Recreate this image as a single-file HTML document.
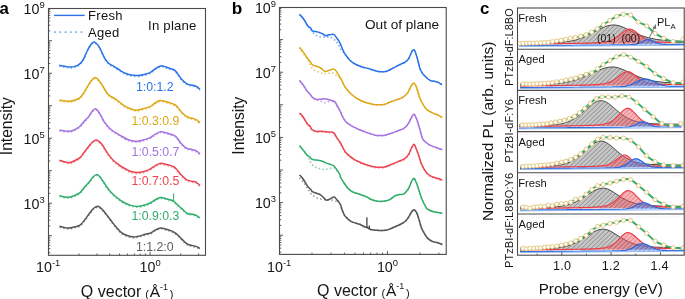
<!DOCTYPE html>
<html><head><meta charset="utf-8"><title>figure</title>
<style>html,body{margin:0;padding:0;background:#fff;overflow:hidden}svg{display:block;will-change:transform}text{font-family:"Liberation Sans",sans-serif}</style>
</head><body>
<svg width="685" height="299" viewBox="0 0 685 299">
<rect width="685" height="299" fill="#fff"/>
<defs>
<pattern id="hg" width="3.2" height="10" patternUnits="userSpaceOnUse" patternTransform="rotate(46)"><rect width="3.2" height="10" fill="#c6c6c6"/><path d="M0.3,0V10" stroke="#6a6a6a" stroke-width="0.55"/></pattern>
<pattern id="hr" width="3.2" height="10" patternUnits="userSpaceOnUse" patternTransform="rotate(46)"><rect width="3.2" height="10" fill="#f05a64" fill-opacity="0.45"/><path d="M0.3,0V10" stroke="#d83c48" stroke-opacity="0.75" stroke-width="0.6"/></pattern>
<pattern id="hb" width="3.2" height="10" patternUnits="userSpaceOnUse" patternTransform="rotate(46)"><rect width="3.2" height="10" fill="#5a8ce6" fill-opacity="0.55"/><path d="M0.3,0V10" stroke="#3a50c0" stroke-opacity="0.7" stroke-width="0.6"/></pattern>
</defs>
<path d="M48.5,252.69h1.8M48.5,248.63h1.8M48.5,245.48h1.8M48.5,242.91h1.8M48.5,240.73h1.8M48.5,238.85h1.8M48.5,237.19h1.8M48.5,235.7h3.5M48.5,225.92h1.8M48.5,220.19h1.8M48.5,216.13h1.8M48.5,212.98h1.8M48.5,210.41h1.8M48.5,208.23h1.8M48.5,206.35h1.8M48.5,204.69h1.8M48.5,203.2h3.5M48.5,193.42h1.8M48.5,187.69h1.8M48.5,183.63h1.8M48.5,180.48h1.8M48.5,177.91h1.8M48.5,175.73h1.8M48.5,173.85h1.8M48.5,172.19h1.8M48.5,170.7h3.5M48.5,160.92h1.8M48.5,155.19h1.8M48.5,151.13h1.8M48.5,147.98h1.8M48.5,145.41h1.8M48.5,143.23h1.8M48.5,141.35h1.8M48.5,139.69h1.8M48.5,138.2h3.5M48.5,128.42h1.8M48.5,122.69h1.8M48.5,118.63h1.8M48.5,115.48h1.8M48.5,112.91h1.8M48.5,110.73h1.8M48.5,108.85h1.8M48.5,107.19h1.8M48.5,105.7h3.5M48.5,95.92h1.8M48.5,90.19h1.8M48.5,86.13h1.8M48.5,82.98h1.8M48.5,80.41h1.8M48.5,78.23h1.8M48.5,76.35h1.8M48.5,74.69h1.8M48.5,73.2h3.5M48.5,63.42h1.8M48.5,57.69h1.8M48.5,53.63h1.8M48.5,50.48h1.8M48.5,47.91h1.8M48.5,45.73h1.8M48.5,43.85h1.8M48.5,42.19h1.8M48.5,40.7h3.5M48.5,30.92h1.8M48.5,25.19h1.8M48.5,21.13h1.8M48.5,17.98h1.8M48.5,15.41h1.8M48.5,13.23h1.8M48.5,11.35h1.8M48.5,9.69h1.8M79.08,255.3v-1.8M96.98,255.3v-1.8M109.67,255.3v-1.8M119.52,255.3v-1.8M127.56,255.3v-1.8M134.36,255.3v-1.8M140.25,255.3v-1.8M145.45,255.3v-1.8M150.1,255.3v-3.5M180.68,255.3v-1.8M198.58,255.3v-1.8" stroke="#4a4a4a" stroke-width="0.9" fill="none"/>
<rect x="48.5" y="8.5" width="157" height="246.8" fill="none" stroke="#4a4a4a" stroke-width="1.1"/>
<path d="M279.5,252.25h1.8M279.5,248.17h1.8M279.5,245.01h1.8M279.5,242.43h1.8M279.5,240.25h1.8M279.5,238.36h1.8M279.5,236.69h1.8M279.5,235.2h3.5M279.5,225.39h1.8M279.5,219.65h1.8M279.5,215.57h1.8M279.5,212.41h1.8M279.5,209.83h1.8M279.5,207.65h1.8M279.5,205.76h1.8M279.5,204.09h1.8M279.5,202.6h3.5M279.5,192.79h1.8M279.5,187.05h1.8M279.5,182.97h1.8M279.5,179.81h1.8M279.5,177.23h1.8M279.5,175.05h1.8M279.5,173.16h1.8M279.5,171.49h1.8M279.5,170h3.5M279.5,160.19h1.8M279.5,154.45h1.8M279.5,150.37h1.8M279.5,147.21h1.8M279.5,144.63h1.8M279.5,142.45h1.8M279.5,140.56h1.8M279.5,138.89h1.8M279.5,137.4h3.5M279.5,127.59h1.8M279.5,121.85h1.8M279.5,117.77h1.8M279.5,114.61h1.8M279.5,112.03h1.8M279.5,109.85h1.8M279.5,107.96h1.8M279.5,106.29h1.8M279.5,104.8h3.5M279.5,94.99h1.8M279.5,89.25h1.8M279.5,85.17h1.8M279.5,82.01h1.8M279.5,79.43h1.8M279.5,77.25h1.8M279.5,75.36h1.8M279.5,73.69h1.8M279.5,72.2h3.5M279.5,62.39h1.8M279.5,56.65h1.8M279.5,52.57h1.8M279.5,49.41h1.8M279.5,46.83h1.8M279.5,44.65h1.8M279.5,42.76h1.8M279.5,41.09h1.8M279.5,39.6h3.5M279.5,29.79h1.8M279.5,24.05h1.8M279.5,19.97h1.8M279.5,16.81h1.8M279.5,14.23h1.8M279.5,12.05h1.8M279.5,10.16h1.8M279.5,8.49h1.8M311.98,254.4v-1.8M330.98,254.4v-1.8M344.46,254.4v-1.8M354.92,254.4v-1.8M363.46,254.4v-1.8M370.69,254.4v-1.8M376.94,254.4v-1.8M382.46,254.4v-1.8M387.4,254.4v-3.5M419.88,254.4v-1.8M438.88,254.4v-1.8" stroke="#4a4a4a" stroke-width="0.9" fill="none"/>
<rect x="279.5" y="7.5" width="166.7" height="246.9" fill="none" stroke="#4a4a4a" stroke-width="1.1"/>
<text x="23.6" y="13.65" font-size="14.3" font-family="Liberation Sans, sans-serif" fill="#151515">10<tspan font-size="9.4" dy="-6">9</tspan></text>
<text x="254.9" y="12.5" font-size="14.3" font-family="Liberation Sans, sans-serif" fill="#151515">10<tspan font-size="9.4" dy="-6">9</tspan></text>
<text x="23.6" y="78.65" font-size="14.3" font-family="Liberation Sans, sans-serif" fill="#151515">10<tspan font-size="9.4" dy="-6">7</tspan></text>
<text x="254.9" y="77.7" font-size="14.3" font-family="Liberation Sans, sans-serif" fill="#151515">10<tspan font-size="9.4" dy="-6">7</tspan></text>
<text x="23.6" y="143.65" font-size="14.3" font-family="Liberation Sans, sans-serif" fill="#151515">10<tspan font-size="9.4" dy="-6">5</tspan></text>
<text x="254.9" y="142.9" font-size="14.3" font-family="Liberation Sans, sans-serif" fill="#151515">10<tspan font-size="9.4" dy="-6">5</tspan></text>
<text x="23.6" y="208.65" font-size="14.3" font-family="Liberation Sans, sans-serif" fill="#151515">10<tspan font-size="9.4" dy="-6">3</tspan></text>
<text x="254.9" y="208.1" font-size="14.3" font-family="Liberation Sans, sans-serif" fill="#151515">10<tspan font-size="9.4" dy="-6">3</tspan></text>
<text x="36.1" y="272.4" font-size="14.3" font-family="Liberation Sans, sans-serif" fill="#151515">10<tspan font-size="9.4" dy="-6">-1</tspan></text>
<text x="139.6" y="272.4" font-size="14.3" font-family="Liberation Sans, sans-serif" fill="#151515">10<tspan font-size="9.4" dy="-6">0</tspan></text>
<text x="267.1" y="272.1" font-size="14.3" font-family="Liberation Sans, sans-serif" fill="#151515">10<tspan font-size="9.4" dy="-6">-1</tspan></text>
<text x="376.9" y="272.1" font-size="14.3" font-family="Liberation Sans, sans-serif" fill="#151515">10<tspan font-size="9.4" dy="-6">0</tspan></text>
<text x="80.87" y="296.7" font-size="16" font-family="Liberation Sans, sans-serif" fill="#151515">Q vector</text>
<text x="145.34" y="297.6" font-size="11" font-family="Liberation Sans, sans-serif" fill="#151515">(</text>
<text x="149.72" y="296.7" font-size="15.5" font-family="Liberation Sans, sans-serif" fill="#151515">Å</text>
<text x="159.99" y="289.6" font-size="9" font-family="Liberation Sans, sans-serif" fill="#151515">-1</text>
<text x="169.69" y="297.6" font-size="11" font-family="Liberation Sans, sans-serif" fill="#151515">)</text>
<text x="317.07" y="296.3" font-size="16" font-family="Liberation Sans, sans-serif" fill="#151515">Q vector</text>
<text x="381.54" y="297.2" font-size="11" font-family="Liberation Sans, sans-serif" fill="#151515">(</text>
<text x="385.92" y="296.3" font-size="15.5" font-family="Liberation Sans, sans-serif" fill="#151515">Å</text>
<text x="396.19" y="289.2" font-size="9" font-family="Liberation Sans, sans-serif" fill="#151515">-1</text>
<text x="405.89" y="297.2" font-size="11" font-family="Liberation Sans, sans-serif" fill="#151515">)</text>
<text transform="translate(11.6,155.2) rotate(-90)" font-size="15.6" font-family="Liberation Sans, sans-serif" fill="#151515">Intensity</text>
<text transform="translate(243.8,154.7) rotate(-90)" font-size="15.6" font-family="Liberation Sans, sans-serif" fill="#151515">Intensity</text>
<text x="-0.6" y="13.5" font-size="16.8" font-weight="bold" font-family="Liberation Sans, sans-serif" fill="#000">a</text>
<text x="231.7" y="13.6" font-size="17.2" font-weight="bold" font-family="Liberation Sans, sans-serif" fill="#000">b</text>
<text x="480.1" y="13.5" font-size="16.8" font-weight="bold" font-family="Liberation Sans, sans-serif" fill="#000">c</text>
<path d="M54.1,15.4H84.7" stroke="#2a72e6" stroke-width="1.4"/>
<path d="M54.1,32.2H82.5" stroke="#7fb2f2" stroke-width="1.8" stroke-dasharray="1.8,3.5"/>
<text x="88.1" y="19.7" font-size="13" letter-spacing="0.3" font-family="Liberation Sans, sans-serif" fill="#151515">Fresh</text>
<text x="88.1" y="36.6" font-size="13" letter-spacing="0.3" font-family="Liberation Sans, sans-serif" fill="#151515">Aged</text>
<text x="148.1" y="29.6" font-size="13.2" letter-spacing="0.2" font-family="Liberation Sans, sans-serif" fill="#151515">In plane</text>
<text x="365" y="29.4" font-size="13.6" font-family="Liberation Sans, sans-serif" fill="#151515">Out of plane</text>
<path d="M59.2,66.2C60.17,66.37 63.2,66.9 65,67.2C66.8,67.5 68.33,67.98 70,68C71.67,68.02 73.58,67.68 75,67.3C76.42,66.92 77.33,66.52 78.5,65.7C79.67,64.88 81.08,63.5 82,62.4C82.92,61.3 83.07,61.02 84,59.1C84.93,57.18 86.43,53.18 87.6,50.9C88.77,48.62 89.97,46.73 91,45.4C92.03,44.07 92.88,43.07 93.8,42.9C94.72,42.73 95.65,43.68 96.5,44.4C97.35,45.12 97.98,45.7 98.9,47.2C99.82,48.7 100.97,51.32 102,53.4C103.03,55.48 103.93,57.87 105.1,59.7C106.27,61.53 107.53,63.15 109,64.4C110.47,65.65 112.4,66.28 113.9,67.2C115.4,68.12 116.33,68.85 118,69.9C119.67,70.95 121.9,72.53 123.9,73.5C125.9,74.47 127.7,75.2 130,75.7C132.3,76.2 135.37,76.55 137.7,76.5C140.03,76.45 141.95,75.88 144,75.4C146.05,74.92 148.17,74.55 150,73.6C151.83,72.65 153.22,70.83 155,69.7C156.78,68.57 158.85,67.1 160.7,66.8C162.55,66.5 164.5,67.45 166.1,67.9C167.7,68.35 168.88,68.97 170.3,69.5C171.72,70.03 173.35,70.22 174.6,71.1C175.85,71.98 176.55,73.2 177.8,74.8C179.05,76.4 180.48,79 182.1,80.7C183.72,82.4 185.72,84.1 187.5,85C189.28,85.9 191.2,85.65 192.8,86.1C194.4,86.55 195.9,86.98 197.1,87.7C198.3,88.42 199.52,89.95 200,90.4" fill="none" stroke="#7fb2f2" stroke-width="1.6" stroke-dasharray="1.6,2.2"/>
<path d="M59.2,65.3C60.17,65.47 63.2,66 65,66.3C66.8,66.6 68.33,67.08 70,67.1C71.67,67.12 73.58,66.78 75,66.4C76.42,66.02 77.33,65.62 78.5,64.8C79.67,63.98 81.08,62.6 82,61.5C82.92,60.4 83.07,60.12 84,58.2C84.93,56.28 86.43,52.28 87.6,50C88.77,47.72 89.97,45.83 91,44.5C92.03,43.17 92.88,42.17 93.8,42C94.72,41.83 95.65,42.78 96.5,43.5C97.35,44.22 97.98,44.8 98.9,46.3C99.82,47.8 100.97,50.42 102,52.5C103.03,54.58 103.93,56.97 105.1,58.8C106.27,60.63 107.53,62.25 109,63.5C110.47,64.75 112.4,65.38 113.9,66.3C115.4,67.22 116.33,67.95 118,69C119.67,70.05 121.9,71.63 123.9,72.6C125.9,73.57 127.7,74.3 130,74.8C132.3,75.3 135.37,75.65 137.7,75.6C140.03,75.55 141.95,74.98 144,74.5C146.05,74.02 148.17,73.65 150,72.7C151.83,71.75 153.22,69.93 155,68.8C156.78,67.67 158.85,66.2 160.7,65.9C162.55,65.6 164.5,66.55 166.1,67C167.7,67.45 168.88,68.07 170.3,68.6C171.72,69.13 173.35,69.32 174.6,70.2C175.85,71.08 176.55,72.3 177.8,73.9C179.05,75.5 180.48,78.1 182.1,79.8C183.72,81.5 185.72,83.2 187.5,84.1C189.28,85 191.2,84.75 192.8,85.2C194.4,85.65 195.9,86.08 197.1,86.8C198.3,87.52 199.52,89.05 200,89.5" fill="none" stroke="#2a72e6" stroke-width="1.5" stroke-linejoin="round"/>
<path d="M59.5,101C60.42,101.15 63.25,101.7 65,101.9C66.75,102.1 68.33,102.37 70,102.2C71.67,102.03 73.33,101.52 75,100.9C76.67,100.28 78.5,99.75 80,98.5C81.5,97.25 82.73,95.28 84,93.4C85.27,91.52 86.43,89.12 87.6,87.2C88.77,85.28 89.75,83.37 91,81.9C92.25,80.43 93.93,78.65 95.1,78.4C96.27,78.15 96.95,79.35 98,80.4C99.05,81.45 100.32,83.12 101.4,84.7C102.48,86.28 103.47,88.23 104.5,89.9C105.53,91.57 106.52,93.45 107.6,94.7C108.68,95.95 109.73,96.57 111,97.4C112.27,98.23 113.7,98.7 115.2,99.7C116.7,100.7 118.33,102.15 120,103.4C121.67,104.65 123.53,106.2 125.2,107.2C126.87,108.2 128.33,108.77 130,109.4C131.67,110.03 133.53,110.82 135.2,111C136.87,111.18 138.33,110.83 140,110.5C141.67,110.17 143.53,109.5 145.2,109C146.87,108.5 148.37,108.35 150,107.5C151.63,106.65 153.3,104.9 155,103.9C156.7,102.9 158.35,101.72 160.2,101.5C162.05,101.28 164.47,102.23 166.1,102.6C167.73,102.97 168.75,103.28 170,103.7C171.25,104.12 172.47,104.52 173.6,105.1C174.73,105.68 175.38,105.78 176.8,107.2C178.22,108.62 180.32,111.82 182.1,113.6C183.88,115.38 185.72,116.95 187.5,117.9C189.28,118.85 191.2,118.77 192.8,119.3C194.4,119.83 195.9,120.35 197.1,121.1C198.3,121.85 199.52,123.35 200,123.8" fill="none" stroke="#ebcb6c" stroke-width="1.6" stroke-dasharray="1.6,2.2"/>
<path d="M59.5,100.1C60.42,100.25 63.25,100.8 65,101C66.75,101.2 68.33,101.47 70,101.3C71.67,101.13 73.33,100.62 75,100C76.67,99.38 78.5,98.85 80,97.6C81.5,96.35 82.73,94.38 84,92.5C85.27,90.62 86.43,88.22 87.6,86.3C88.77,84.38 89.75,82.47 91,81C92.25,79.53 93.93,77.75 95.1,77.5C96.27,77.25 96.95,78.45 98,79.5C99.05,80.55 100.32,82.22 101.4,83.8C102.48,85.38 103.47,87.33 104.5,89C105.53,90.67 106.52,92.55 107.6,93.8C108.68,95.05 109.73,95.67 111,96.5C112.27,97.33 113.7,97.8 115.2,98.8C116.7,99.8 118.33,101.25 120,102.5C121.67,103.75 123.53,105.3 125.2,106.3C126.87,107.3 128.33,107.87 130,108.5C131.67,109.13 133.53,109.92 135.2,110.1C136.87,110.28 138.33,109.93 140,109.6C141.67,109.27 143.53,108.6 145.2,108.1C146.87,107.6 148.37,107.45 150,106.6C151.63,105.75 153.3,104 155,103C156.7,102 158.35,100.82 160.2,100.6C162.05,100.38 164.47,101.33 166.1,101.7C167.73,102.07 168.75,102.38 170,102.8C171.25,103.22 172.47,103.62 173.6,104.2C174.73,104.78 175.38,104.88 176.8,106.3C178.22,107.72 180.32,110.92 182.1,112.7C183.88,114.48 185.72,116.05 187.5,117C189.28,117.95 191.2,117.87 192.8,118.4C194.4,118.93 195.9,119.45 197.1,120.2C198.3,120.95 199.52,122.45 200,122.9" fill="none" stroke="#dca817" stroke-width="1.5" stroke-linejoin="round"/>
<path d="M59.5,130.9C60.42,131.07 63.25,131.68 65,131.9C66.75,132.12 68.33,132.45 70,132.2C71.67,131.95 73.33,131.23 75,130.4C76.67,129.57 78.5,128.53 80,127.2C81.5,125.87 82.53,124.05 84,122.4C85.47,120.75 87.47,118.97 88.8,117.3C90.13,115.63 90.95,113.67 92,112.4C93.05,111.13 94.1,109.78 95.1,109.7C96.1,109.62 96.95,110.63 98,111.9C99.05,113.17 100.42,115.58 101.4,117.3C102.38,119.02 102.65,120.35 103.9,122.2C105.15,124.05 107.38,126.78 108.9,128.4C110.42,130.02 111.53,130.85 113,131.9C114.47,132.95 116.2,133.78 117.7,134.7C119.2,135.62 120.33,136.45 122,137.4C123.67,138.35 126.03,139.68 127.7,140.4C129.37,141.12 130.33,141.4 132,141.7C133.67,142 135.7,142.37 137.7,142.2C139.7,142.03 141.95,141.3 144,140.7C146.05,140.1 148.17,139.52 150,138.6C151.83,137.68 153.22,136.2 155,135.2C156.78,134.2 158.85,132.85 160.7,132.6C162.55,132.35 164.55,133.32 166.1,133.7C167.65,134.08 168.75,134.5 170,134.9C171.25,135.3 172.47,135.53 173.6,136.1C174.73,136.67 175.57,136.95 176.8,138.3C178.03,139.65 179.4,142.42 181,144.2C182.6,145.98 184.6,147.97 186.4,149C188.2,150.03 190.02,149.87 191.8,150.4C193.58,150.93 195.73,151.45 197.1,152.2C198.47,152.95 199.52,154.45 200,154.9" fill="none" stroke="#c9a6ee" stroke-width="1.6" stroke-dasharray="1.6,2.2"/>
<path d="M59.5,130C60.42,130.17 63.25,130.78 65,131C66.75,131.22 68.33,131.55 70,131.3C71.67,131.05 73.33,130.33 75,129.5C76.67,128.67 78.5,127.63 80,126.3C81.5,124.97 82.53,123.15 84,121.5C85.47,119.85 87.47,118.07 88.8,116.4C90.13,114.73 90.95,112.77 92,111.5C93.05,110.23 94.1,108.88 95.1,108.8C96.1,108.72 96.95,109.73 98,111C99.05,112.27 100.42,114.68 101.4,116.4C102.38,118.12 102.65,119.45 103.9,121.3C105.15,123.15 107.38,125.88 108.9,127.5C110.42,129.12 111.53,129.95 113,131C114.47,132.05 116.2,132.88 117.7,133.8C119.2,134.72 120.33,135.55 122,136.5C123.67,137.45 126.03,138.78 127.7,139.5C129.37,140.22 130.33,140.5 132,140.8C133.67,141.1 135.7,141.47 137.7,141.3C139.7,141.13 141.95,140.4 144,139.8C146.05,139.2 148.17,138.62 150,137.7C151.83,136.78 153.22,135.3 155,134.3C156.78,133.3 158.85,131.95 160.7,131.7C162.55,131.45 164.55,132.42 166.1,132.8C167.65,133.18 168.75,133.6 170,134C171.25,134.4 172.47,134.63 173.6,135.2C174.73,135.77 175.57,136.05 176.8,137.4C178.03,138.75 179.4,141.52 181,143.3C182.6,145.08 184.6,147.07 186.4,148.1C188.2,149.13 190.02,148.97 191.8,149.5C193.58,150.03 195.73,150.55 197.1,151.3C198.47,152.05 199.52,153.55 200,154" fill="none" stroke="#a673e0" stroke-width="1.5" stroke-linejoin="round"/>
<path d="M59.5,161C60.42,161.32 63.25,162.48 65,162.9C66.75,163.32 68.33,163.75 70,163.5C71.67,163.25 73.33,162.23 75,161.4C76.67,160.57 78.5,159.83 80,158.5C81.5,157.17 82.53,155.28 84,153.4C85.47,151.52 87.38,148.95 88.8,147.2C90.22,145.45 91.23,143.95 92.5,142.9C93.77,141.85 95.23,140.93 96.4,140.9C97.57,140.87 98.47,141.85 99.5,142.7C100.53,143.55 101.6,144.63 102.6,146C103.6,147.37 104.45,149.23 105.5,150.9C106.55,152.57 107.65,154.33 108.9,156C110.15,157.67 111.53,159.43 113,160.9C114.47,162.37 116.2,163.63 117.7,164.8C119.2,165.97 120.33,166.87 122,167.9C123.67,168.93 126.03,170.2 127.7,171C129.37,171.8 130.33,172.28 132,172.7C133.67,173.12 135.7,173.55 137.7,173.5C139.7,173.45 141.95,172.97 144,172.4C146.05,171.83 148.17,171.05 150,170.1C151.83,169.15 153.22,167.68 155,166.7C156.78,165.72 158.85,164.43 160.7,164.2C162.55,163.97 164.63,164.98 166.1,165.3C167.57,165.62 168.43,165.8 169.5,166.1C170.57,166.4 171.47,166.58 172.5,167.1C173.53,167.62 174.28,167.78 175.7,169.2C177.12,170.62 179.22,173.72 181,175.6C182.78,177.48 184.6,179.42 186.4,180.5C188.2,181.58 190.2,181.67 191.8,182.1C193.4,182.53 194.63,182.4 196,183.1C197.37,183.8 199.33,185.77 200,186.3" fill="none" stroke="#f4949a" stroke-width="1.6" stroke-dasharray="1.6,2.2"/>
<path d="M59.5,160.1C60.42,160.42 63.25,161.58 65,162C66.75,162.42 68.33,162.85 70,162.6C71.67,162.35 73.33,161.33 75,160.5C76.67,159.67 78.5,158.93 80,157.6C81.5,156.27 82.53,154.38 84,152.5C85.47,150.62 87.38,148.05 88.8,146.3C90.22,144.55 91.23,143.05 92.5,142C93.77,140.95 95.23,140.03 96.4,140C97.57,139.97 98.47,140.95 99.5,141.8C100.53,142.65 101.6,143.73 102.6,145.1C103.6,146.47 104.45,148.33 105.5,150C106.55,151.67 107.65,153.43 108.9,155.1C110.15,156.77 111.53,158.53 113,160C114.47,161.47 116.2,162.73 117.7,163.9C119.2,165.07 120.33,165.97 122,167C123.67,168.03 126.03,169.3 127.7,170.1C129.37,170.9 130.33,171.38 132,171.8C133.67,172.22 135.7,172.65 137.7,172.6C139.7,172.55 141.95,172.07 144,171.5C146.05,170.93 148.17,170.15 150,169.2C151.83,168.25 153.22,166.78 155,165.8C156.78,164.82 158.85,163.53 160.7,163.3C162.55,163.07 164.63,164.08 166.1,164.4C167.57,164.72 168.43,164.9 169.5,165.2C170.57,165.5 171.47,165.68 172.5,166.2C173.53,166.72 174.28,166.88 175.7,168.3C177.12,169.72 179.22,172.82 181,174.7C182.78,176.58 184.6,178.52 186.4,179.6C188.2,180.68 190.2,180.77 191.8,181.2C193.4,181.63 194.63,181.5 196,182.2C197.37,182.9 199.33,184.87 200,185.4" fill="none" stroke="#ea4650" stroke-width="1.5" stroke-linejoin="round"/>
<path d="M59.5,196.5C60.42,196.73 63.25,197.65 65,197.9C66.75,198.15 68.33,198.28 70,198C71.67,197.72 73.33,196.95 75,196.2C76.67,195.45 78.5,194.75 80,193.5C81.5,192.25 82.53,190.38 84,188.7C85.47,187.02 87.3,185.2 88.8,183.4C90.3,181.6 91.62,179.23 93,177.9C94.38,176.57 95.85,175.32 97.1,175.4C98.35,175.48 99.37,177.07 100.5,178.4C101.63,179.73 102.82,181.77 103.9,183.4C104.98,185.03 105.97,186.73 107,188.2C108.03,189.67 108.77,190.75 110.1,192.2C111.43,193.65 113.32,195.43 115,196.9C116.68,198.37 118.53,199.83 120.2,201C121.87,202.17 123.33,203.07 125,203.9C126.67,204.73 128.08,205.43 130.2,206C132.32,206.57 135.4,207.27 137.7,207.3C140,207.33 141.95,206.77 144,206.2C146.05,205.63 148.17,204.78 150,203.9C151.83,203.02 153.3,201.8 155,200.9C156.7,200 158.35,198.72 160.2,198.5C162.05,198.28 164.47,199.23 166.1,199.6C167.73,199.97 168.75,200.3 170,200.7C171.25,201.1 172.47,201.28 173.6,202C174.73,202.72 175.38,203.7 176.8,205C178.22,206.3 180.32,208.23 182.1,209.8C183.88,211.37 185.72,213.52 187.5,214.4C189.28,215.28 191.2,214.72 192.8,215.1C194.4,215.48 195.9,216.07 197.1,216.7C198.3,217.33 199.52,218.53 200,218.9" fill="none" stroke="#8ad3a9" stroke-width="1.6" stroke-dasharray="1.6,2.2"/>
<path d="M59.5,195.6C60.42,195.83 63.25,196.75 65,197C66.75,197.25 68.33,197.38 70,197.1C71.67,196.82 73.33,196.05 75,195.3C76.67,194.55 78.5,193.85 80,192.6C81.5,191.35 82.53,189.48 84,187.8C85.47,186.12 87.3,184.3 88.8,182.5C90.3,180.7 91.62,178.33 93,177C94.38,175.67 95.85,174.42 97.1,174.5C98.35,174.58 99.37,176.17 100.5,177.5C101.63,178.83 102.82,180.87 103.9,182.5C104.98,184.13 105.97,185.83 107,187.3C108.03,188.77 108.77,189.85 110.1,191.3C111.43,192.75 113.32,194.53 115,196C116.68,197.47 118.53,198.93 120.2,200.1C121.87,201.27 123.33,202.17 125,203C126.67,203.83 128.08,204.53 130.2,205.1C132.32,205.67 135.4,206.37 137.7,206.4C140,206.43 141.95,205.87 144,205.3C146.05,204.73 148.17,203.88 150,203C151.83,202.12 153.3,200.9 155,200C156.7,199.1 158.35,197.82 160.2,197.6C162.05,197.38 164.47,198.33 166.1,198.7C167.73,199.07 168.75,199.4 170,199.8C171.25,200.2 172.47,200.38 173.6,201.1C174.73,201.82 175.38,202.8 176.8,204.1C178.22,205.4 180.32,207.33 182.1,208.9C183.88,210.47 185.72,212.62 187.5,213.5C189.28,214.38 191.2,213.82 192.8,214.2C194.4,214.58 195.9,215.17 197.1,215.8C198.3,216.43 199.52,217.63 200,218" fill="none" stroke="#30ad6c" stroke-width="1.5" stroke-linejoin="round"/>
<path d="M59.5,227.2C60.25,227.4 62.45,228.1 64,228.4C65.55,228.7 67.13,229.08 68.8,229C70.47,228.92 72.13,228.4 74,227.9C75.87,227.4 78.17,227.25 80,226C81.83,224.75 83.32,222.5 85,220.4C86.68,218.3 88.6,215.32 90.1,213.4C91.6,211.48 92.67,209.93 94,208.9C95.33,207.87 96.93,207.15 98.1,207.2C99.27,207.25 100.03,208.37 101,209.2C101.97,210.03 102.73,210.83 103.9,212.2C105.07,213.57 106.55,215.52 108,217.4C109.45,219.28 111.1,221.58 112.6,223.5C114.1,225.42 115.53,227.23 117,228.9C118.47,230.57 119.73,232.25 121.4,233.5C123.07,234.75 124.92,235.65 127,236.4C129.08,237.15 132.07,237.87 133.9,238C135.73,238.13 136.53,237.53 138,237.2C139.47,236.87 141.37,236.38 142.7,236C144.03,235.62 144.78,235.2 146,234.9C147.22,234.6 148.5,234.83 150,234.2C151.5,233.57 153.22,232 155,231.1C156.78,230.2 158.85,228.97 160.7,228.8C162.55,228.63 164.63,229.72 166.1,230.1C167.57,230.48 168.43,230.73 169.5,231.1C170.57,231.47 171.28,231.65 172.5,232.3C173.72,232.95 175.2,233.67 176.8,235C178.4,236.33 180.32,238.62 182.1,240.3C183.88,241.98 185.72,244.07 187.5,245.1C189.28,246.13 191.2,246.05 192.8,246.5C194.4,246.95 195.9,247.32 197.1,247.8C198.3,248.28 199.52,249.13 200,249.4" fill="none" stroke="#a0a0a0" stroke-width="1.6" stroke-dasharray="1.6,2.2"/>
<path d="M59.5,226.3C60.25,226.5 62.45,227.2 64,227.5C65.55,227.8 67.13,228.18 68.8,228.1C70.47,228.02 72.13,227.5 74,227C75.87,226.5 78.17,226.35 80,225.1C81.83,223.85 83.32,221.6 85,219.5C86.68,217.4 88.6,214.42 90.1,212.5C91.6,210.58 92.67,209.03 94,208C95.33,206.97 96.93,206.25 98.1,206.3C99.27,206.35 100.03,207.47 101,208.3C101.97,209.13 102.73,209.93 103.9,211.3C105.07,212.67 106.55,214.62 108,216.5C109.45,218.38 111.1,220.68 112.6,222.6C114.1,224.52 115.53,226.33 117,228C118.47,229.67 119.73,231.35 121.4,232.6C123.07,233.85 124.92,234.75 127,235.5C129.08,236.25 132.07,236.97 133.9,237.1C135.73,237.23 136.53,236.63 138,236.3C139.47,235.97 141.37,235.48 142.7,235.1C144.03,234.72 144.78,234.3 146,234C147.22,233.7 148.5,233.93 150,233.3C151.5,232.67 153.22,231.1 155,230.2C156.78,229.3 158.85,228.07 160.7,227.9C162.55,227.73 164.63,228.82 166.1,229.2C167.57,229.58 168.43,229.83 169.5,230.2C170.57,230.57 171.28,230.75 172.5,231.4C173.72,232.05 175.2,232.77 176.8,234.1C178.4,235.43 180.32,237.72 182.1,239.4C183.88,241.08 185.72,243.17 187.5,244.2C189.28,245.23 191.2,245.15 192.8,245.6C194.4,246.05 195.9,246.42 197.1,246.9C198.3,247.38 199.52,248.23 200,248.5" fill="none" stroke="#555555" stroke-width="1.5" stroke-linejoin="round"/>
<path d="M173.6,201.3V193.4" stroke="#30ad6c" stroke-width="1"/>
<path d="M299.5,14.4C300.08,15.03 302,16.93 303,18.2C304,19.47 304.72,20.73 305.5,22C306.28,23.27 306.85,24.55 307.7,25.8C308.55,27.05 309.82,28.43 310.6,29.5C311.38,30.57 311.42,31.2 312.4,32.2C313.38,33.2 315.05,34.68 316.5,35.5C317.95,36.32 319.55,36.87 321.1,37.1C322.65,37.33 324.13,36.83 325.8,36.9C327.47,36.97 329.53,36.88 331.1,37.5C332.67,38.12 334.03,39.48 335.2,40.6C336.37,41.72 337.13,42.72 338.1,44.2C339.07,45.68 339.93,47.98 341,49.5C342.07,51.02 343.33,51.88 344.5,53.3C345.67,54.72 346.87,56.63 348,58C349.13,59.37 349.97,60.42 351.3,61.5C352.63,62.58 354.17,63.58 356,64.5C357.83,65.42 360.33,66.35 362.3,67C364.27,67.65 366.02,67.9 367.8,68.4C369.58,68.9 371.17,69.47 373,70C374.83,70.53 376.7,71.33 378.8,71.6C380.9,71.87 383.9,71.83 385.6,71.6C387.3,71.37 387.85,70.73 389,70.2C390.15,69.67 391.25,69.05 392.5,68.4C393.75,67.75 395.13,67 396.5,66.3C397.87,65.6 399.37,64.83 400.7,64.2C402.03,63.57 403.35,63.18 404.5,62.5C405.65,61.82 406.77,61.02 407.6,60.1C408.43,59.18 408.92,58.13 409.5,57C410.08,55.87 410.6,54.38 411.1,53.3C411.6,52.22 412.03,51.1 412.5,50.5C412.97,49.9 413.43,49.45 413.9,49.7C414.37,49.95 414.85,50.97 415.3,52C415.75,53.03 416.1,54.23 416.6,55.9C417.1,57.57 417.75,59.92 418.3,62C418.85,64.08 419.2,66.52 419.9,68.4C420.6,70.28 421.58,71.93 422.5,73.3C423.42,74.67 424.48,75.65 425.4,76.6C426.32,77.55 427.08,78.32 428,79C428.92,79.68 429.9,80.32 430.9,80.7C431.9,81.08 432.87,81.07 434,81.3C435.13,81.53 436.38,81.52 437.7,82.1C439.02,82.68 441.2,84.35 441.9,84.8" fill="none" stroke="#7fb2f2" stroke-width="1.6" stroke-dasharray="1.6,2.2"/>
<path d="M299.5,14.4C300.08,15.03 302,16.93 303,18.2C304,19.47 304.72,20.73 305.5,22C306.28,23.27 306.85,24.78 307.7,25.8C308.55,26.82 309.82,27.27 310.6,28.1C311.38,28.93 311.52,30.22 312.4,30.8C313.28,31.38 314.73,31.32 315.9,31.6C317.07,31.88 318.23,32.1 319.4,32.5C320.57,32.9 321.83,33.47 322.9,34C323.97,34.53 324.83,35.57 325.8,35.7C326.77,35.83 327.75,35.02 328.7,34.8C329.65,34.58 330.62,34.43 331.5,34.4C332.38,34.37 333.18,34.08 334,34.6C334.82,35.12 335.52,36.33 336.4,37.5C337.28,38.67 338.45,40.1 339.3,41.6C340.15,43.1 340.63,44.55 341.5,46.5C342.37,48.45 343.42,51.38 344.5,53.3C345.58,55.22 346.87,56.63 348,58C349.13,59.37 349.97,60.42 351.3,61.5C352.63,62.58 354.17,63.58 356,64.5C357.83,65.42 360.33,66.35 362.3,67C364.27,67.65 366.02,67.9 367.8,68.4C369.58,68.9 371.17,69.47 373,70C374.83,70.53 376.7,71.33 378.8,71.6C380.9,71.87 383.9,71.83 385.6,71.6C387.3,71.37 387.85,70.73 389,70.2C390.15,69.67 391.25,69.05 392.5,68.4C393.75,67.75 395.13,67 396.5,66.3C397.87,65.6 399.37,64.83 400.7,64.2C402.03,63.57 403.35,63.18 404.5,62.5C405.65,61.82 406.77,61.02 407.6,60.1C408.43,59.18 408.92,58.13 409.5,57C410.08,55.87 410.6,54.38 411.1,53.3C411.6,52.22 412.03,51.1 412.5,50.5C412.97,49.9 413.43,49.45 413.9,49.7C414.37,49.95 414.85,50.97 415.3,52C415.75,53.03 416.1,54.23 416.6,55.9C417.1,57.57 417.75,59.92 418.3,62C418.85,64.08 419.2,66.52 419.9,68.4C420.6,70.28 421.58,71.93 422.5,73.3C423.42,74.67 424.48,75.65 425.4,76.6C426.32,77.55 427.08,78.32 428,79C428.92,79.68 429.9,80.32 430.9,80.7C431.9,81.08 432.87,81.07 434,81.3C435.13,81.53 436.38,81.52 437.7,82.1C439.02,82.68 441.2,84.35 441.9,84.8" fill="none" stroke="#2a72e6" stroke-width="1.5" stroke-linejoin="round"/>
<path d="M299.5,47.5C300.08,48.45 301.83,51.45 303,53.2C304.17,54.95 305.5,56.45 306.5,58C307.5,59.55 308.22,61.03 309,62.5C309.78,63.97 310.25,65.5 311.2,66.8C312.15,68.1 313.23,69.32 314.7,70.3C316.17,71.28 318.33,72.12 320,72.7C321.67,73.28 323.15,73.72 324.7,73.8C326.25,73.88 327.75,73.25 329.3,73.2C330.85,73.15 332.63,72.92 334,73.5C335.37,74.08 336.43,75.97 337.5,76.7C338.57,77.43 339.68,77.27 340.4,77.9C341.12,78.53 341.12,79.13 341.8,80.5C342.48,81.87 343.5,84.43 344.5,86.1C345.5,87.77 346.67,89.13 347.8,90.5C348.93,91.87 349.93,93.08 351.3,94.3C352.67,95.52 354.17,96.65 356,97.8C357.83,98.95 360.33,100.33 362.3,101.2C364.27,102.07 365.97,102.47 367.8,103C369.63,103.53 371.47,104.1 373.3,104.4C375.13,104.7 376.97,104.8 378.8,104.8C380.63,104.8 382.68,104.73 384.3,104.4C385.92,104.07 387.13,103.33 388.5,102.8C389.87,102.27 391.17,101.7 392.5,101.2C393.83,100.7 395.13,100.27 396.5,99.8C397.87,99.33 399.37,99.03 400.7,98.4C402.03,97.77 403.35,96.92 404.5,96C405.65,95.08 406.77,94.03 407.6,92.9C408.43,91.77 408.92,90.33 409.5,89.2C410.08,88.07 410.6,86.97 411.1,86.1C411.6,85.23 412.03,84.47 412.5,84C412.97,83.53 413.43,83.17 413.9,83.3C414.37,83.43 414.85,84.12 415.3,84.8C415.75,85.48 416.1,86.03 416.6,87.4C417.1,88.77 417.75,91.17 418.3,93C418.85,94.83 419.2,96.65 419.9,98.4C420.6,100.15 421.58,101.9 422.5,103.5C423.42,105.1 424.48,106.87 425.4,108C426.32,109.13 427.08,109.62 428,110.3C428.92,110.98 429.9,111.55 430.9,112.1C431.9,112.65 432.87,113.13 434,113.6C435.13,114.07 436.3,114.23 437.7,114.9C439.1,115.57 441.62,117.15 442.4,117.6" fill="none" stroke="#ebcb6c" stroke-width="1.6" stroke-dasharray="1.6,2.2"/>
<path d="M299.5,47.5C300.08,48.18 301.83,50.03 303,51.6C304.17,53.17 305.33,55.25 306.5,56.9C307.67,58.55 309.02,60.18 310,61.5C310.98,62.82 311.32,64.02 312.4,64.8C313.48,65.58 315.13,65.67 316.5,66.2C317.87,66.73 319.15,67.12 320.6,68C322.05,68.88 323.65,71.17 325.2,71.5C326.75,71.83 328.43,70.4 329.9,70C331.37,69.6 332.83,68.75 334,69.1C335.17,69.45 335.83,70.63 336.9,72.1C337.97,73.57 339.58,76.5 340.4,77.9C341.22,79.3 341.12,79.13 341.8,80.5C342.48,81.87 343.5,84.43 344.5,86.1C345.5,87.77 346.67,89.13 347.8,90.5C348.93,91.87 349.93,93.08 351.3,94.3C352.67,95.52 354.17,96.65 356,97.8C357.83,98.95 360.33,100.33 362.3,101.2C364.27,102.07 365.97,102.47 367.8,103C369.63,103.53 371.47,104.1 373.3,104.4C375.13,104.7 376.97,104.8 378.8,104.8C380.63,104.8 382.68,104.73 384.3,104.4C385.92,104.07 387.13,103.33 388.5,102.8C389.87,102.27 391.17,101.7 392.5,101.2C393.83,100.7 395.13,100.27 396.5,99.8C397.87,99.33 399.37,99.03 400.7,98.4C402.03,97.77 403.35,96.92 404.5,96C405.65,95.08 406.77,94.03 407.6,92.9C408.43,91.77 408.92,90.33 409.5,89.2C410.08,88.07 410.6,86.97 411.1,86.1C411.6,85.23 412.03,84.47 412.5,84C412.97,83.53 413.43,83.17 413.9,83.3C414.37,83.43 414.85,84.12 415.3,84.8C415.75,85.48 416.1,86.03 416.6,87.4C417.1,88.77 417.75,91.17 418.3,93C418.85,94.83 419.2,96.65 419.9,98.4C420.6,100.15 421.58,101.9 422.5,103.5C423.42,105.1 424.48,106.87 425.4,108C426.32,109.13 427.08,109.62 428,110.3C428.92,110.98 429.9,111.55 430.9,112.1C431.9,112.65 432.87,113.13 434,113.6C435.13,114.07 436.3,114.23 437.7,114.9C439.1,115.57 441.62,117.15 442.4,117.6" fill="none" stroke="#dca817" stroke-width="1.5" stroke-linejoin="round"/>
<path d="M299.5,80.4C300.08,81.13 301.63,82.9 303,84.8C304.37,86.7 306.43,90.15 307.7,91.8C308.97,93.45 309.82,93.78 310.6,94.7C311.38,95.62 311.42,96.42 312.4,97.3C313.38,98.18 315.13,99.37 316.5,100C317.87,100.63 319.15,100.65 320.6,101.1C322.05,101.55 323.65,102.7 325.2,102.7C326.75,102.7 328.6,101.28 329.9,101.1C331.2,100.92 332.12,101.4 333,101.6C333.88,101.8 334.45,101.5 335.2,102.3C335.95,103.1 336.72,105.03 337.5,106.4C338.28,107.77 339.07,108.82 339.9,110.5C340.73,112.18 341.52,114.63 342.5,116.5C343.48,118.37 344.55,120.32 345.8,121.7C347.05,123.08 348.62,123.88 350,124.8C351.38,125.72 352.52,126.37 354.1,127.2C355.68,128.03 357.68,129.02 359.5,129.8C361.32,130.58 363.17,131.23 365,131.9C366.83,132.57 368.67,133.22 370.5,133.8C372.33,134.38 374.42,135.1 376,135.4C377.58,135.7 378.62,135.6 380,135.6C381.38,135.6 382.63,135.73 384.3,135.4C385.97,135.07 388.18,134.18 390,133.6C391.82,133.02 393.62,132.45 395.2,131.9C396.78,131.35 398.12,130.85 399.5,130.3C400.88,129.75 402.33,129.32 403.5,128.6C404.67,127.88 405.6,127 406.5,126C407.4,125 408.07,124.02 408.9,122.6C409.73,121.18 410.67,118.88 411.5,117.5C412.33,116.12 413.23,114.47 413.9,114.3C414.57,114.13 414.95,115.48 415.5,116.5C416.05,117.52 416.45,118.15 417.2,120.4C417.95,122.65 419.08,126.93 420,130C420.92,133.07 421.62,136.67 422.7,138.8C423.78,140.93 425.13,141.65 426.5,142.8C427.87,143.95 429.32,144.92 430.9,145.7C432.48,146.48 434.08,146.82 436,147.5C437.92,148.18 441.33,149.42 442.4,149.8" fill="none" stroke="#c9a6ee" stroke-width="1.6" stroke-dasharray="1.6,2.2"/>
<path d="M299.5,80.4C300.08,81.13 301.63,82.9 303,84.8C304.37,86.7 306.43,90.15 307.7,91.8C308.97,93.45 309.82,93.78 310.6,94.7C311.38,95.62 311.42,96.52 312.4,97.3C313.38,98.08 315.13,99.08 316.5,99.4C317.87,99.72 319.33,99.3 320.6,99.2C321.87,99.1 322.83,98.77 324.1,98.8C325.37,98.83 326.83,99.1 328.2,99.4C329.57,99.7 331.13,100.12 332.3,100.6C333.47,101.08 334.33,101.33 335.2,102.3C336.07,103.27 336.72,105.03 337.5,106.4C338.28,107.77 339.07,108.82 339.9,110.5C340.73,112.18 341.52,114.63 342.5,116.5C343.48,118.37 344.55,120.32 345.8,121.7C347.05,123.08 348.62,123.88 350,124.8C351.38,125.72 352.52,126.37 354.1,127.2C355.68,128.03 357.68,129.02 359.5,129.8C361.32,130.58 363.17,131.23 365,131.9C366.83,132.57 368.67,133.22 370.5,133.8C372.33,134.38 374.42,135.1 376,135.4C377.58,135.7 378.62,135.6 380,135.6C381.38,135.6 382.63,135.73 384.3,135.4C385.97,135.07 388.18,134.18 390,133.6C391.82,133.02 393.62,132.45 395.2,131.9C396.78,131.35 398.12,130.85 399.5,130.3C400.88,129.75 402.33,129.32 403.5,128.6C404.67,127.88 405.6,127 406.5,126C407.4,125 408.07,124.02 408.9,122.6C409.73,121.18 410.67,118.88 411.5,117.5C412.33,116.12 413.23,114.47 413.9,114.3C414.57,114.13 414.95,115.48 415.5,116.5C416.05,117.52 416.45,118.15 417.2,120.4C417.95,122.65 419.08,126.93 420,130C420.92,133.07 421.62,136.67 422.7,138.8C423.78,140.93 425.13,141.65 426.5,142.8C427.87,143.95 429.32,144.92 430.9,145.7C432.48,146.48 434.08,146.82 436,147.5C437.92,148.18 441.33,149.42 442.4,149.8" fill="none" stroke="#a673e0" stroke-width="1.5" stroke-linejoin="round"/>
<path d="M299.5,113.5C300.08,114.15 301.63,115.48 303,117.4C304.37,119.32 306.53,123.45 307.7,125C308.87,126.55 309.32,125.88 310,126.7C310.68,127.52 310.72,129.02 311.8,129.9C312.88,130.78 315.03,131.68 316.5,132C317.97,132.32 319.33,131.8 320.6,131.8C321.87,131.8 322.83,131.87 324.1,132C325.37,132.13 327.03,132.5 328.2,132.6C329.37,132.7 330.13,132.42 331.1,132.6C332.07,132.78 333.03,132.73 334,133.7C334.97,134.67 335.87,136.83 336.9,138.4C337.93,139.97 339.18,141.43 340.2,143.1C341.22,144.77 342.07,146.73 343,148.4C343.93,150.07 344.63,151.68 345.8,153.1C346.97,154.52 348.62,155.75 350,156.9C351.38,158.05 352.52,159.05 354.1,160C355.68,160.95 357.68,161.78 359.5,162.6C361.32,163.42 363.17,164.25 365,164.9C366.83,165.55 368.67,166.03 370.5,166.5C372.33,166.97 374.42,167.47 376,167.7C377.58,167.93 378.62,167.9 380,167.9C381.38,167.9 382.63,168.08 384.3,167.7C385.97,167.32 388.18,166.33 390,165.6C391.82,164.87 393.62,163.97 395.2,163.3C396.78,162.63 398.12,162.15 399.5,161.6C400.88,161.05 402.33,160.67 403.5,160C404.67,159.33 405.6,158.52 406.5,157.6C407.4,156.68 408.07,156 408.9,154.5C409.73,153 410.67,150.2 411.5,148.6C412.33,147 413.23,145.07 413.9,144.9C414.57,144.73 414.95,146.45 415.5,147.6C416.05,148.75 416.57,150.05 417.2,151.8C417.83,153.55 418.62,156.05 419.3,158.1C419.98,160.15 420.52,162.22 421.3,164.1C422.08,165.98 423.08,167.8 424,169.4C424.92,171 425.8,172.57 426.8,173.7C427.8,174.83 428.87,175.52 430,176.2C431.13,176.88 432.27,177.32 433.6,177.8C434.93,178.28 436.53,178.63 438,179.1C439.47,179.57 441.67,180.35 442.4,180.6" fill="none" stroke="#f4949a" stroke-width="1.6" stroke-dasharray="1.6,2.2"/>
<path d="M299.5,112.9C300.08,113.55 301.63,114.88 303,116.8C304.37,118.72 306.53,122.85 307.7,124.4C308.87,125.95 309.32,125.28 310,126.1C310.68,126.92 310.72,128.42 311.8,129.3C312.88,130.18 315.03,131.08 316.5,131.4C317.97,131.72 319.33,131.2 320.6,131.2C321.87,131.2 322.83,131.27 324.1,131.4C325.37,131.53 327.03,131.9 328.2,132C329.37,132.1 330.13,131.82 331.1,132C332.07,132.18 333.03,132.13 334,133.1C334.97,134.07 335.87,136.23 336.9,137.8C337.93,139.37 339.18,140.83 340.2,142.5C341.22,144.17 342.07,146.13 343,147.8C343.93,149.47 344.63,151.08 345.8,152.5C346.97,153.92 348.62,155.15 350,156.3C351.38,157.45 352.52,158.45 354.1,159.4C355.68,160.35 357.68,161.18 359.5,162C361.32,162.82 363.17,163.65 365,164.3C366.83,164.95 368.67,165.43 370.5,165.9C372.33,166.37 374.42,166.87 376,167.1C377.58,167.33 378.62,167.3 380,167.3C381.38,167.3 382.63,167.48 384.3,167.1C385.97,166.72 388.18,165.73 390,165C391.82,164.27 393.62,163.37 395.2,162.7C396.78,162.03 398.12,161.55 399.5,161C400.88,160.45 402.33,160.07 403.5,159.4C404.67,158.73 405.6,157.92 406.5,157C407.4,156.08 408.07,155.4 408.9,153.9C409.73,152.4 410.67,149.6 411.5,148C412.33,146.4 413.23,144.47 413.9,144.3C414.57,144.13 414.95,145.85 415.5,147C416.05,148.15 416.57,149.45 417.2,151.2C417.83,152.95 418.62,155.45 419.3,157.5C419.98,159.55 420.52,161.62 421.3,163.5C422.08,165.38 423.08,167.2 424,168.8C424.92,170.4 425.8,171.97 426.8,173.1C427.8,174.23 428.87,174.92 430,175.6C431.13,176.28 432.27,176.72 433.6,177.2C434.93,177.68 436.53,178.03 438,178.5C439.47,178.97 441.67,179.75 442.4,180" fill="none" stroke="#ea4650" stroke-width="1.5" stroke-linejoin="round"/>
<path d="M299.5,145.8C300.08,146.48 301.73,148.33 303,149.9C304.27,151.47 306.12,153.73 307.1,155.2C308.08,156.67 308.22,157.33 308.9,158.7C309.58,160.07 310.23,162.03 311.2,163.4C312.17,164.77 313.23,166.02 314.7,166.9C316.17,167.78 318.33,168.25 320,168.7C321.67,169.15 323.15,169.6 324.7,169.6C326.25,169.6 327.75,169 329.3,168.7C330.85,168.4 332.8,167.5 334,167.8C335.2,168.1 335.52,169.38 336.5,170.5C337.48,171.62 339.25,173.42 339.9,174.5C340.55,175.58 339.75,175.67 340.4,177C341.05,178.33 342.67,180.75 343.8,182.5C344.93,184.25 346.08,186.15 347.2,187.5C348.32,188.85 349.35,189.77 350.5,190.6C351.65,191.43 352.6,191.9 354.1,192.5C355.6,193.1 357.85,193.65 359.5,194.2C361.15,194.75 362.67,195.27 364,195.8C365.33,196.33 366.17,196.73 367.5,197.4C368.83,198.07 370.25,199.15 372,199.8C373.75,200.45 376.17,201.05 378,201.3C379.83,201.55 381.57,201.38 383,201.3C384.43,201.22 385.42,201.12 386.6,200.8C387.78,200.48 388.7,200.23 390.1,199.4C391.5,198.57 393.43,196.6 395,195.8C396.57,195 398.08,194.88 399.5,194.6C400.92,194.32 402.33,194.67 403.5,194.1C404.67,193.53 405.6,192.25 406.5,191.2C407.4,190.15 408.07,189.42 408.9,187.8C409.73,186.18 410.67,183.1 411.5,181.5C412.33,179.9 413.23,178.32 413.9,178.2C414.57,178.08 414.95,179.65 415.5,180.8C416.05,181.95 416.57,183.32 417.2,185.1C417.83,186.88 418.62,189.45 419.3,191.5C419.98,193.55 420.52,195.4 421.3,197.4C422.08,199.4 423.08,201.67 424,203.5C424.92,205.33 425.8,207.23 426.8,208.4C427.8,209.57 428.87,209.95 430,210.5C431.13,211.05 432.27,211.37 433.6,211.7C434.93,212.03 436.53,212.23 438,212.5C439.47,212.77 441.67,213.17 442.4,213.3" fill="none" stroke="#8ad3a9" stroke-width="1.6" stroke-dasharray="1.6,2.2"/>
<path d="M299.5,145.8C300.08,146.48 301.73,148.33 303,149.9C304.27,151.47 305.93,154.02 307.1,155.2C308.27,156.38 309.22,156.32 310,157C310.78,157.68 310.72,158.78 311.8,159.3C312.88,159.82 315.03,159.85 316.5,160.1C317.97,160.35 319.33,160.48 320.6,160.8C321.87,161.12 323.03,161.57 324.1,162C325.17,162.43 325.83,162.97 327,163.4C328.17,163.83 329.93,164.17 331.1,164.6C332.27,165.03 333.03,165.13 334,166C334.97,166.87 335.92,168.38 336.9,169.8C337.88,171.22 339.32,173.3 339.9,174.5C340.48,175.7 339.75,175.67 340.4,177C341.05,178.33 342.67,180.75 343.8,182.5C344.93,184.25 346.08,186.15 347.2,187.5C348.32,188.85 349.35,189.77 350.5,190.6C351.65,191.43 352.6,191.9 354.1,192.5C355.6,193.1 357.85,193.65 359.5,194.2C361.15,194.75 362.67,195.27 364,195.8C365.33,196.33 366.17,196.73 367.5,197.4C368.83,198.07 370.25,199.15 372,199.8C373.75,200.45 376.17,201.05 378,201.3C379.83,201.55 381.57,201.38 383,201.3C384.43,201.22 385.42,201.12 386.6,200.8C387.78,200.48 388.7,200.23 390.1,199.4C391.5,198.57 393.43,196.6 395,195.8C396.57,195 398.08,194.88 399.5,194.6C400.92,194.32 402.33,194.67 403.5,194.1C404.67,193.53 405.6,192.25 406.5,191.2C407.4,190.15 408.07,189.42 408.9,187.8C409.73,186.18 410.67,183.1 411.5,181.5C412.33,179.9 413.23,178.32 413.9,178.2C414.57,178.08 414.95,179.65 415.5,180.8C416.05,181.95 416.57,183.32 417.2,185.1C417.83,186.88 418.62,189.45 419.3,191.5C419.98,193.55 420.52,195.4 421.3,197.4C422.08,199.4 423.08,201.67 424,203.5C424.92,205.33 425.8,207.23 426.8,208.4C427.8,209.57 428.87,209.95 430,210.5C431.13,211.05 432.27,211.37 433.6,211.7C434.93,212.03 436.53,212.23 438,212.5C439.47,212.77 441.67,213.17 442.4,213.3" fill="none" stroke="#30ad6c" stroke-width="1.5" stroke-linejoin="round"/>
<path d="M299.5,177.6C300.08,178.28 301.83,180.23 303,181.7C304.17,183.17 305.52,184.93 306.5,186.4C307.48,187.87 308.02,189.13 308.9,190.5C309.78,191.87 310.53,193.38 311.8,194.6C313.07,195.82 314.85,197.03 316.5,197.8C318.15,198.57 320.05,198.87 321.7,199.2C323.35,199.53 324.83,199.7 326.4,199.8C327.97,199.9 329.53,199.55 331.1,199.8C332.67,200.05 334.83,201.3 335.8,201.3C336.77,201.3 336.13,199.27 336.9,199.8C337.67,200.33 339.58,202.97 340.4,204.5C341.22,206.03 341.12,207.2 341.8,209C342.48,210.8 343.47,213.63 344.5,215.3C345.53,216.97 346.87,217.95 348,219C349.13,220.05 350.05,220.93 351.3,221.6C352.55,222.27 354.12,222.55 355.5,223C356.88,223.45 358.02,223.63 359.6,224.3C361.18,224.97 363.68,226.45 365,227C366.32,227.55 366.6,227.2 367.5,227.6C368.4,228 369.32,228.98 370.4,229.4C371.48,229.82 372.63,229.93 374,230.1C375.37,230.27 377.1,230.33 378.6,230.4C380.1,230.47 381.63,230.55 383,230.5C384.37,230.45 385.55,230.38 386.8,230.1C388.05,229.82 389.33,229.28 390.5,228.8C391.67,228.32 392.47,227.78 393.8,227.2C395.13,226.62 396.88,226.05 398.5,225.3C400.12,224.55 402.17,223.58 403.5,222.7C404.83,221.82 405.6,221.02 406.5,220C407.4,218.98 408.07,217.93 408.9,216.6C409.73,215.27 410.67,213.13 411.5,212C412.33,210.87 413.23,209.97 413.9,209.8C414.57,209.63 414.95,210.32 415.5,211C416.05,211.68 416.57,212.32 417.2,213.9C417.83,215.48 418.62,218.22 419.3,220.5C419.98,222.78 420.52,225.55 421.3,227.6C422.08,229.65 423.08,231.2 424,232.8C424.92,234.4 425.8,235.97 426.8,237.2C427.8,238.43 428.87,239.42 430,240.2C431.13,240.98 432.32,241.48 433.6,241.9C434.88,242.32 436.23,242.25 437.7,242.7C439.17,243.15 441.62,244.28 442.4,244.6" fill="none" stroke="#a0a0a0" stroke-width="1.6" stroke-dasharray="1.6,2.2"/>
<path d="M299.5,174.9C300.08,175.55 301.63,176.88 303,178.8C304.37,180.72 306.43,184.65 307.7,186.4C308.97,188.15 309.82,188.43 310.6,189.3C311.38,190.17 311.42,190.95 312.4,191.6C313.38,192.25 315.13,192.67 316.5,193.2C317.87,193.73 319.33,193.98 320.6,194.8C321.87,195.62 323.13,197.2 324.1,198.1C325.07,199 325.43,200.05 326.4,200.2C327.37,200.35 328.63,199.52 329.9,199C331.17,198.48 332.83,196.97 334,197.1C335.17,197.23 335.83,198.57 336.9,199.8C337.97,201.03 339.58,202.97 340.4,204.5C341.22,206.03 341.12,207.2 341.8,209C342.48,210.8 343.47,213.63 344.5,215.3C345.53,216.97 346.87,217.95 348,219C349.13,220.05 350.05,220.93 351.3,221.6C352.55,222.27 354.12,222.55 355.5,223C356.88,223.45 358.02,223.63 359.6,224.3C361.18,224.97 363.68,226.45 365,227C366.32,227.55 366.6,227.2 367.5,227.6C368.4,228 369.32,228.98 370.4,229.4C371.48,229.82 372.63,229.93 374,230.1C375.37,230.27 377.1,230.33 378.6,230.4C380.1,230.47 381.63,230.55 383,230.5C384.37,230.45 385.55,230.38 386.8,230.1C388.05,229.82 389.33,229.28 390.5,228.8C391.67,228.32 392.47,227.78 393.8,227.2C395.13,226.62 396.88,226.05 398.5,225.3C400.12,224.55 402.17,223.58 403.5,222.7C404.83,221.82 405.6,221.02 406.5,220C407.4,218.98 408.07,217.93 408.9,216.6C409.73,215.27 410.67,213.13 411.5,212C412.33,210.87 413.23,209.97 413.9,209.8C414.57,209.63 414.95,210.32 415.5,211C416.05,211.68 416.57,212.32 417.2,213.9C417.83,215.48 418.62,218.22 419.3,220.5C419.98,222.78 420.52,225.55 421.3,227.6C422.08,229.65 423.08,231.2 424,232.8C424.92,234.4 425.8,235.97 426.8,237.2C427.8,238.43 428.87,239.42 430,240.2C431.13,240.98 432.32,241.48 433.6,241.9C434.88,242.32 436.23,242.25 437.7,242.7C439.17,243.15 441.62,244.28 442.4,244.6" fill="none" stroke="#555555" stroke-width="1.5" stroke-linejoin="round"/>
<path d="M366.9,228.2V217.2M369.3,229.2V225.4" stroke="#444" stroke-width="1.3"/>
<text x="135.9" y="90.9" font-size="12.3" font-family="Liberation Sans, sans-serif" fill="#2a72e6">1:0:1.2</text>
<text x="131.4" y="125.4" font-size="12.3" font-family="Liberation Sans, sans-serif" fill="#dca817">1:0.3:0.9</text>
<text x="131.6" y="155.6" font-size="12.3" font-family="Liberation Sans, sans-serif" fill="#a673e0">1:0.5:0.7</text>
<text x="131.4" y="184.9" font-size="12.3" font-family="Liberation Sans, sans-serif" fill="#ea4650">1:0.7:0.5</text>
<text x="131.4" y="219.9" font-size="12.3" font-family="Liberation Sans, sans-serif" fill="#30ad6c">1:0.9:0.3</text>
<text x="135.9" y="250.9" font-size="12.3" font-family="Liberation Sans, sans-serif" fill="#5c5c5c">1:1.2:0</text>
<g>
<clipPath id="cp0"><rect x="517.5" y="8" width="166.7" height="41.2"/></clipPath>
<g clip-path="url(#cp0)">
<path d="M520.5,11H681.2" stroke="#d6c6ef" stroke-width="0.6" stroke-dasharray="0.9,1.3"/>
<path d="M519,43.38L520,43.37L521,43.36L522,43.34L523,43.33L524,43.32L525,43.31L526,43.29L527,43.28L528,43.27L529,43.25L530,43.24L531,43.23L532,43.21L533,43.2L534,43.18L535,43.17L536,43.15L537,43.14L538,43.12L539,43.1L540,43.09L541,43.07L542,43.05L543,43.03L544,43.01L545,42.98L546,42.96L547,42.93L548,42.91L549,42.88L550,42.85L551,42.81L552,42.78L553,42.74L554,42.69L555,42.65L556,42.6L557,42.54L558,42.48L559,42.42L560,42.34L561,42.26L562,42.18L563,42.08L564,41.98L565,41.87L566,41.75L567,41.61L568,41.47L569,41.31L570,41.14L571,40.96L572,40.76L573,40.54L574,40.31L575,40.06L576,39.8L577,39.52L578,39.22L579,38.9L580,38.56L581,38.2L582,37.83L583,37.43L584,37.02L585,36.59L586,36.14L587,35.68L588,35.2L589,34.71L590,34.2L591,33.69L592,33.16L593,32.63L594,32.1L595,31.56L596,31.02L597,30.48L598,29.96L599,29.44L600,28.93L601,28.44L602,27.96L603,27.51L604,27.09L605,26.7L606,26.34L607,26.01L608,25.73L609,25.48L610,25.29L611,25.14L612,25.03L613,24.98L614,24.98L615,25.03L616,25.14L617,25.31L618,25.52L619,25.78L620,26.09L621,26.43L622,26.81L623,27.21L624,27.64L625,28.09L626,28.56L627,29.04L628,29.52L629,30.01L630,30.5L631,30.99L632,31.48L633,31.95L634,32.42L635,32.88L636,33.33L637,33.77L638,34.19L639,34.6L640,35L641,35.38L642,35.75L643,36.09L644,36.43L645,36.75L646,37.05L647,37.34L648,37.61L649,37.87L650,38.11L651,38.34L652,38.56L653,38.76L654,38.95L655,39.13L656,39.3L657,39.46L658,39.6L659,39.74L660,39.87L661,39.98L662,40.09L663,40.2L664,40.29L665,40.38L666,40.46L667,40.54L668,40.61L669,40.67L670,40.73L671,40.79L672,40.84L673,40.89L674,40.94L675,40.98L676,41.02L677,41.06L678,41.09L679,41.12L680,41.15L681,41.18L682,41.21L683,41.23L684,41.26L684.2,41.26L684.2,43.04L684,43.05L683,43.05L682,43.06L681,43.07L680,43.08L679,43.08L678,43.09L677,43.1L676,43.11L675,43.11L674,43.12L673,43.13L672,43.14L671,43.14L670,43.15L669,43.16L668,43.17L667,43.17L666,43.18L665,43.19L664,43.2L663,43.2L662,43.21L661,43.22L660,43.23L659,43.23L658,43.24L657,43.25L656,43.26L655,43.26L654,43.27L653,43.28L652,43.29L651,43.29L650,43.3L649,43.31L648,43.32L647,43.32L646,43.33L645,43.34L644,43.35L643,43.35L642,43.36L641,43.37L640,43.38L639,43.38L638,43.39L637,43.4L636,43.41L635,43.41L634,43.42L633,43.43L632,43.44L631,43.44L630,43.45L629,43.46L628,43.47L627,43.47L626,43.48L625,43.49L624,43.5L623,43.5L622,43.51L621,43.52L620,43.53L619,43.53L618,43.54L617,43.55L616,43.56L615,43.56L614,43.57L613,43.58L612,43.59L611,43.59L610,43.6L609,43.61L608,43.62L607,43.62L606,43.63L605,43.64L604,43.65L603,43.65L602,43.66L601,43.67L600,43.68L599,43.68L598,43.69L597,43.7L596,43.71L595,43.71L594,43.72L593,43.73L592,43.74L591,43.74L590,43.75L589,43.76L588,43.77L587,43.77L586,43.78L585,43.79L584,43.8L583,43.8L582,43.81L581,43.82L580,43.83L579,43.83L578,43.84L577,43.85L576,43.86L575,43.86L574,43.87L573,43.88L572,43.89L571,43.89L570,43.9L569,43.91L568,43.92L567,43.92L566,43.93L565,43.94L564,43.95L563,43.95L562,43.96L561,43.97L560,43.98L559,43.98L558,43.99L557,44L556,44.01L555,44.01L554,44.02L553,44.03L552,44.04L551,44.04L550,44.05L549,44.06L548,44.07L547,44.07L546,44.08L545,44.09L544,44.1L543,44.1L542,44.11L541,44.12L540,44.13L539,44.13L538,44.14L537,44.15L536,44.16L535,44.16L534,44.17L533,44.18L532,44.19L531,44.19L530,44.2L529,44.21L528,44.22L527,44.22L526,44.23L525,44.24L524,44.25L523,44.25L522,44.26L521,44.27L520,44.28L519,44.28Z" fill="url(#hg)"/>
<path d="M519,43.38L520,43.37L521,43.36L522,43.34L523,43.33L524,43.32L525,43.31L526,43.29L527,43.28L528,43.27L529,43.25L530,43.24L531,43.23L532,43.21L533,43.2L534,43.18L535,43.17L536,43.15L537,43.14L538,43.12L539,43.1L540,43.09L541,43.07L542,43.05L543,43.03L544,43.01L545,42.98L546,42.96L547,42.93L548,42.91L549,42.88L550,42.85L551,42.81L552,42.78L553,42.74L554,42.69L555,42.65L556,42.6L557,42.54L558,42.48L559,42.42L560,42.34L561,42.26L562,42.18L563,42.08L564,41.98L565,41.87L566,41.75L567,41.61L568,41.47L569,41.31L570,41.14L571,40.96L572,40.76L573,40.54L574,40.31L575,40.06L576,39.8L577,39.52L578,39.22L579,38.9L580,38.56L581,38.2L582,37.83L583,37.43L584,37.02L585,36.59L586,36.14L587,35.68L588,35.2L589,34.71L590,34.2L591,33.69L592,33.16L593,32.63L594,32.1L595,31.56L596,31.02L597,30.48L598,29.96L599,29.44L600,28.93L601,28.44L602,27.96L603,27.51L604,27.09L605,26.7L606,26.34L607,26.01L608,25.73L609,25.48L610,25.29L611,25.14L612,25.03L613,24.98L614,24.98L615,25.03L616,25.14L617,25.31L618,25.52L619,25.78L620,26.09L621,26.43L622,26.81L623,27.21L624,27.64L625,28.09L626,28.56L627,29.04L628,29.52L629,30.01L630,30.5L631,30.99L632,31.48L633,31.95L634,32.42L635,32.88L636,33.33L637,33.77L638,34.19L639,34.6L640,35L641,35.38L642,35.75L643,36.09L644,36.43L645,36.75L646,37.05L647,37.34L648,37.61L649,37.87L650,38.11L651,38.34L652,38.56L653,38.76L654,38.95L655,39.13L656,39.3L657,39.46L658,39.6L659,39.74L660,39.87L661,39.98L662,40.09L663,40.2L664,40.29L665,40.38L666,40.46L667,40.54L668,40.61L669,40.67L670,40.73L671,40.79L672,40.84L673,40.89L674,40.94L675,40.98L676,41.02L677,41.06L678,41.09L679,41.12L680,41.15L681,41.18L682,41.21L683,41.23L684,41.26L684.2,41.26" fill="none" stroke="#4a4a4a" stroke-width="1.0"/>
<path d="M519,44.01L520,44L521,43.99L522,43.98L523,43.98L524,43.97L525,43.96L526,43.95L527,43.94L528,43.93L529,43.92L530,43.91L531,43.9L532,43.89L533,43.88L534,43.87L535,43.87L536,43.86L537,43.85L538,43.84L539,43.83L540,43.82L541,43.81L542,43.8L543,43.79L544,43.78L545,43.77L546,43.76L547,43.75L548,43.74L549,43.72L550,43.71L551,43.7L552,43.69L553,43.68L554,43.67L555,43.66L556,43.65L557,43.63L558,43.62L559,43.61L560,43.6L561,43.59L562,43.57L563,43.56L564,43.55L565,43.53L566,43.52L567,43.51L568,43.49L569,43.48L570,43.46L571,43.45L572,43.43L573,43.41L574,43.4L575,43.38L576,43.36L577,43.34L578,43.33L579,43.31L580,43.29L581,43.27L582,43.24L583,43.22L584,43.2L585,43.17L586,43.15L587,43.12L588,43.09L589,43.06L590,43.03L591,43L592,42.96L593,42.93L594,42.88L595,42.84L596,42.79L597,42.73L598,42.67L599,42.6L600,42.52L601,42.43L602,42.32L603,42.2L604,42.06L605,41.9L606,41.71L607,41.5L608,41.25L609,40.96L610,40.63L611,40.26L612,39.84L613,39.37L614,38.85L615,38.27L616,37.65L617,36.98L618,36.26L619,35.5L620,34.72L621,33.92L622,33.11L623,32.31L624,31.55L625,30.85L626,30.23L627,29.71L628,29.34L629,29.11L630,29.05L631,29.18L632,29.49L633,29.96L634,30.56L635,31.26L636,32.04L637,32.85L638,33.68L639,34.51L640,35.31L641,36.08L642,36.8L643,37.48L644,38.1L645,38.67L646,39.18L647,39.63L648,40.04L649,40.39L650,40.69L651,40.96L652,41.18L653,41.38L654,41.54L655,41.68L656,41.8L657,41.9L658,41.99L659,42.06L660,42.12L661,42.18L662,42.22L663,42.26L664,42.3L665,42.33L666,42.36L667,42.38L668,42.4L669,42.42L670,42.44L671,42.45L672,42.47L673,42.48L674,42.49L675,42.5L676,42.51L677,42.52L678,42.53L679,42.53L680,42.54L681,42.54L682,42.55L683,42.55L684,42.55L684.2,42.56L684.2,43.34L684,43.34L683,43.35L682,43.36L681,43.37L680,43.38L679,43.38L678,43.39L677,43.4L676,43.41L675,43.41L674,43.42L673,43.43L672,43.44L671,43.44L670,43.45L669,43.46L668,43.47L667,43.47L666,43.48L665,43.49L664,43.5L663,43.5L662,43.51L661,43.52L660,43.52L659,43.53L658,43.54L657,43.55L656,43.55L655,43.56L654,43.57L653,43.58L652,43.59L651,43.59L650,43.6L649,43.61L648,43.62L647,43.62L646,43.63L645,43.64L644,43.65L643,43.65L642,43.66L641,43.67L640,43.68L639,43.68L638,43.69L637,43.7L636,43.7L635,43.71L634,43.72L633,43.73L632,43.73L631,43.74L630,43.75L629,43.76L628,43.77L627,43.77L626,43.78L625,43.79L624,43.8L623,43.8L622,43.81L621,43.82L620,43.83L619,43.83L618,43.84L617,43.85L616,43.86L615,43.86L614,43.87L613,43.88L612,43.88L611,43.89L610,43.9L609,43.91L608,43.91L607,43.92L606,43.93L605,43.94L604,43.95L603,43.95L602,43.96L601,43.97L600,43.98L599,43.98L598,43.99L597,44L596,44.01L595,44.01L594,44.02L593,44.03L592,44.04L591,44.04L590,44.05L589,44.06L588,44.07L587,44.07L586,44.08L585,44.09L584,44.09L583,44.1L582,44.11L581,44.12L580,44.12L579,44.13L578,44.14L577,44.15L576,44.16L575,44.16L574,44.17L573,44.18L572,44.19L571,44.19L570,44.2L569,44.21L568,44.22L567,44.22L566,44.23L565,44.24L564,44.25L563,44.25L562,44.26L561,44.27L560,44.27L559,44.28L558,44.29L557,44.3L556,44.3L555,44.31L554,44.32L553,44.33L552,44.34L551,44.34L550,44.35L549,44.36L548,44.37L547,44.37L546,44.38L545,44.39L544,44.4L543,44.4L542,44.41L541,44.42L540,44.43L539,44.43L538,44.44L537,44.45L536,44.45L535,44.46L534,44.47L533,44.48L532,44.48L531,44.49L530,44.5L529,44.51L528,44.52L527,44.52L526,44.53L525,44.54L524,44.55L523,44.55L522,44.56L521,44.57L520,44.58L519,44.58Z" fill="url(#hr)"/>
<path d="M519,44.01L520,44L521,43.99L522,43.98L523,43.98L524,43.97L525,43.96L526,43.95L527,43.94L528,43.93L529,43.92L530,43.91L531,43.9L532,43.89L533,43.88L534,43.87L535,43.87L536,43.86L537,43.85L538,43.84L539,43.83L540,43.82L541,43.81L542,43.8L543,43.79L544,43.78L545,43.77L546,43.76L547,43.75L548,43.74L549,43.72L550,43.71L551,43.7L552,43.69L553,43.68L554,43.67L555,43.66L556,43.65L557,43.63L558,43.62L559,43.61L560,43.6L561,43.59L562,43.57L563,43.56L564,43.55L565,43.53L566,43.52L567,43.51L568,43.49L569,43.48L570,43.46L571,43.45L572,43.43L573,43.41L574,43.4L575,43.38L576,43.36L577,43.34L578,43.33L579,43.31L580,43.29L581,43.27L582,43.24L583,43.22L584,43.2L585,43.17L586,43.15L587,43.12L588,43.09L589,43.06L590,43.03L591,43L592,42.96L593,42.93L594,42.88L595,42.84L596,42.79L597,42.73L598,42.67L599,42.6L600,42.52L601,42.43L602,42.32L603,42.2L604,42.06L605,41.9L606,41.71L607,41.5L608,41.25L609,40.96L610,40.63L611,40.26L612,39.84L613,39.37L614,38.85L615,38.27L616,37.65L617,36.98L618,36.26L619,35.5L620,34.72L621,33.92L622,33.11L623,32.31L624,31.55L625,30.85L626,30.23L627,29.71L628,29.34L629,29.11L630,29.05L631,29.18L632,29.49L633,29.96L634,30.56L635,31.26L636,32.04L637,32.85L638,33.68L639,34.51L640,35.31L641,36.08L642,36.8L643,37.48L644,38.1L645,38.67L646,39.18L647,39.63L648,40.04L649,40.39L650,40.69L651,40.96L652,41.18L653,41.38L654,41.54L655,41.68L656,41.8L657,41.9L658,41.99L659,42.06L660,42.12L661,42.18L662,42.22L663,42.26L664,42.3L665,42.33L666,42.36L667,42.38L668,42.4L669,42.42L670,42.44L671,42.45L672,42.47L673,42.48L674,42.49L675,42.5L676,42.51L677,42.52L678,42.53L679,42.53L680,42.54L681,42.54L682,42.55L683,42.55L684,42.55L684.2,42.56" fill="none" stroke="#ea3a44" stroke-width="1.1"/>
<path d="M519,45.68L520,45.67L521,45.67L522,45.66L523,45.65L524,45.64L525,45.64L526,45.63L527,45.62L528,45.61L529,45.61L530,45.6L531,45.59L532,45.58L533,45.58L534,45.57L535,45.56L536,45.55L537,45.55L538,45.54L539,45.53L540,45.52L541,45.52L542,45.51L543,45.5L544,45.49L545,45.49L546,45.48L547,45.47L548,45.46L549,45.45L550,45.45L551,45.44L552,45.43L553,45.42L554,45.42L555,45.41L556,45.4L557,45.39L558,45.39L559,45.38L560,45.37L561,45.36L562,45.36L563,45.35L564,45.34L565,45.33L566,45.33L567,45.32L568,45.31L569,45.3L570,45.3L571,45.29L572,45.28L573,45.27L574,45.27L575,45.26L576,45.25L577,45.24L578,45.23L579,45.23L580,45.22L581,45.21L582,45.2L583,45.2L584,45.19L585,45.18L586,45.17L587,45.17L588,45.16L589,45.15L590,45.14L591,45.13L592,45.13L593,45.12L594,45.11L595,45.1L596,45.1L597,45.09L598,45.08L599,45.07L600,45.06L601,45.06L602,45.05L603,45.04L604,45.03L605,45.02L606,45.02L607,45.01L608,45L609,44.99L610,44.98L611,44.97L612,44.97L613,44.96L614,44.95L615,44.94L616,44.93L617,44.92L618,44.91L619,44.9L620,44.89L621,44.88L622,44.87L623,44.86L624,44.85L625,44.84L626,44.83L627,44.81L628,44.79L629,44.77L630,44.73L631,44.69L632,44.63L633,44.54L634,44.43L635,44.27L636,44.07L637,43.82L638,43.51L639,43.14L640,42.71L641,42.23L642,41.73L643,41.22L644,40.73L645,40.29L646,39.94L647,39.71L648,39.62L649,39.67L650,39.86L651,40.17L652,40.58L653,41.04L654,41.54L655,42.03L656,42.5L657,42.92L658,43.29L659,43.6L660,43.85L661,44.04L662,44.19L663,44.3L664,44.37L665,44.42L666,44.46L667,44.48L668,44.49L669,44.49L670,44.5L671,44.5L672,44.49L673,44.49L674,44.48L675,44.48L676,44.47L677,44.47L678,44.46L679,44.46L680,44.45L681,44.45L682,44.44L683,44.43L684,44.43L684.2,44.42L684.2,44.44L684,44.44L683,44.45L682,44.46L681,44.47L680,44.47L679,44.48L678,44.49L677,44.5L676,44.5L675,44.51L674,44.52L673,44.53L672,44.53L671,44.54L670,44.55L669,44.56L668,44.56L667,44.57L666,44.58L665,44.59L664,44.59L663,44.6L662,44.61L661,44.62L660,44.62L659,44.63L658,44.64L657,44.65L656,44.65L655,44.66L654,44.67L653,44.68L652,44.68L651,44.69L650,44.7L649,44.71L648,44.71L647,44.72L646,44.73L645,44.74L644,44.74L643,44.75L642,44.76L641,44.77L640,44.77L639,44.78L638,44.79L637,44.8L636,44.8L635,44.81L634,44.82L633,44.83L632,44.83L631,44.84L630,44.85L629,44.86L628,44.86L627,44.87L626,44.88L625,44.89L624,44.89L623,44.9L622,44.91L621,44.92L620,44.92L619,44.93L618,44.94L617,44.95L616,44.95L615,44.96L614,44.97L613,44.98L612,44.98L611,44.99L610,45L609,45.01L608,45.01L607,45.02L606,45.03L605,45.04L604,45.04L603,45.05L602,45.06L601,45.07L600,45.07L599,45.08L598,45.09L597,45.1L596,45.1L595,45.11L594,45.12L593,45.13L592,45.13L591,45.14L590,45.15L589,45.16L588,45.16L587,45.17L586,45.18L585,45.19L584,45.19L583,45.2L582,45.21L581,45.22L580,45.22L579,45.23L578,45.24L577,45.25L576,45.25L575,45.26L574,45.27L573,45.28L572,45.28L571,45.29L570,45.3L569,45.31L568,45.31L567,45.32L566,45.33L565,45.34L564,45.34L563,45.35L562,45.36L561,45.37L560,45.37L559,45.38L558,45.39L557,45.4L556,45.4L555,45.41L554,45.42L553,45.43L552,45.43L551,45.44L550,45.45L549,45.46L548,45.46L547,45.47L546,45.48L545,45.49L544,45.49L543,45.5L542,45.51L541,45.52L540,45.52L539,45.53L538,45.54L537,45.55L536,45.55L535,45.56L534,45.57L533,45.58L532,45.58L531,45.59L530,45.6L529,45.61L528,45.61L527,45.62L526,45.63L525,45.64L524,45.64L523,45.65L522,45.66L521,45.67L520,45.67L519,45.68Z" fill="url(#hb)"/>
<path d="M519,45.68L520,45.67L521,45.67L522,45.66L523,45.65L524,45.64L525,45.64L526,45.63L527,45.62L528,45.61L529,45.61L530,45.6L531,45.59L532,45.58L533,45.58L534,45.57L535,45.56L536,45.55L537,45.55L538,45.54L539,45.53L540,45.52L541,45.52L542,45.51L543,45.5L544,45.49L545,45.49L546,45.48L547,45.47L548,45.46L549,45.45L550,45.45L551,45.44L552,45.43L553,45.42L554,45.42L555,45.41L556,45.4L557,45.39L558,45.39L559,45.38L560,45.37L561,45.36L562,45.36L563,45.35L564,45.34L565,45.33L566,45.33L567,45.32L568,45.31L569,45.3L570,45.3L571,45.29L572,45.28L573,45.27L574,45.27L575,45.26L576,45.25L577,45.24L578,45.23L579,45.23L580,45.22L581,45.21L582,45.2L583,45.2L584,45.19L585,45.18L586,45.17L587,45.17L588,45.16L589,45.15L590,45.14L591,45.13L592,45.13L593,45.12L594,45.11L595,45.1L596,45.1L597,45.09L598,45.08L599,45.07L600,45.06L601,45.06L602,45.05L603,45.04L604,45.03L605,45.02L606,45.02L607,45.01L608,45L609,44.99L610,44.98L611,44.97L612,44.97L613,44.96L614,44.95L615,44.94L616,44.93L617,44.92L618,44.91L619,44.9L620,44.89L621,44.88L622,44.87L623,44.86L624,44.85L625,44.84L626,44.83L627,44.81L628,44.79L629,44.77L630,44.73L631,44.69L632,44.63L633,44.54L634,44.43L635,44.27L636,44.07L637,43.82L638,43.51L639,43.14L640,42.71L641,42.23L642,41.73L643,41.22L644,40.73L645,40.29L646,39.94L647,39.71L648,39.62L649,39.67L650,39.86L651,40.17L652,40.58L653,41.04L654,41.54L655,42.03L656,42.5L657,42.92L658,43.29L659,43.6L660,43.85L661,44.04L662,44.19L663,44.3L664,44.37L665,44.42L666,44.46L667,44.48L668,44.49L669,44.49L670,44.5L671,44.5L672,44.49L673,44.49L674,44.48L675,44.48L676,44.47L677,44.47L678,44.46L679,44.46L680,44.45L681,44.45L682,44.44L683,44.43L684,44.43L684.2,44.42" fill="none" stroke="#2a66e0" stroke-width="1.2"/>
<path d="M519,46.48L684.2,45.24" stroke="#8fb6f0" stroke-width="1.0"/>
<path d="M519,43.4C519.1,43.4 518.92,43.4 519.6,43.4C520.28,43.4 521.95,43.43 523.1,43.4C524.25,43.37 525.4,43.25 526.5,43.2C527.6,43.15 528.58,43.12 529.7,43.1C530.82,43.08 532.03,43.12 533.2,43.1C534.37,43.08 535.48,43.07 536.7,43C537.92,42.93 539.23,42.78 540.5,42.7C541.77,42.62 543,42.57 544.3,42.5C545.6,42.43 546.93,42.45 548.3,42.3C549.67,42.15 551.12,41.83 552.5,41.6C553.88,41.37 555.18,41.12 556.6,40.9C558.02,40.68 559.5,40.57 561,40.3C562.5,40.03 564.03,39.65 565.6,39.3C567.17,38.95 568.8,38.52 570.4,38.2C572,37.88 573.5,37.75 575.2,37.4C576.9,37.05 578.8,36.55 580.6,36.1C582.4,35.65 584.17,35.37 586,34.7C587.83,34.03 589.73,33.08 591.6,32.1C593.47,31.12 595.22,30.05 597.2,28.8C599.18,27.55 601.4,26 603.5,24.6C605.6,23.2 607.62,21.77 609.8,20.4C611.98,19.03 614.33,17.42 616.6,16.4C618.87,15.38 621.07,14.53 623.4,14.3C625.73,14.07 628.12,13.72 630.6,15C633.08,16.28 635.62,20.17 638.3,22C640.98,23.83 643.9,24.1 646.7,26C649.5,27.9 652.25,31.38 655.1,33.4C657.95,35.42 660.8,36.75 663.8,38.1C666.8,39.45 669.77,40.9 673.1,41.5C676.43,42.1 682.02,41.67 683.8,41.7" fill="none" stroke="#33ad6a" stroke-width="1.9"/>
<circle cx="519.6" cy="43.4" r="2.05" fill="#fff" stroke="#e6c880" stroke-width="1.0"/>
<circle cx="523.1" cy="43.4" r="2.05" fill="#fff" stroke="#e6c880" stroke-width="1.0"/>
<circle cx="526.5" cy="43.2" r="2.05" fill="#fff" stroke="#e6c880" stroke-width="1.0"/>
<circle cx="529.7" cy="43.1" r="2.05" fill="#fff" stroke="#e6c880" stroke-width="1.0"/>
<circle cx="533.2" cy="43.1" r="2.05" fill="#fff" stroke="#e6c880" stroke-width="1.0"/>
<circle cx="536.7" cy="43" r="2.05" fill="#fff" stroke="#e6c880" stroke-width="1.0"/>
<circle cx="540.5" cy="42.7" r="2.05" fill="#fff" stroke="#e6c880" stroke-width="1.0"/>
<circle cx="544.3" cy="42.5" r="2.05" fill="#fff" stroke="#e6c880" stroke-width="1.0"/>
<circle cx="548.3" cy="42.3" r="2.05" fill="#fff" stroke="#e6c880" stroke-width="1.0"/>
<circle cx="552.5" cy="41.6" r="2.05" fill="#fff" stroke="#e6c880" stroke-width="1.0"/>
<circle cx="556.6" cy="40.9" r="2.05" fill="#fff" stroke="#e6c880" stroke-width="1.0"/>
<circle cx="561" cy="40.3" r="2.05" fill="#fff" stroke="#e6c880" stroke-width="1.0"/>
<circle cx="565.6" cy="39.3" r="2.05" fill="#fff" stroke="#e6c880" stroke-width="1.0"/>
<circle cx="570.4" cy="38.2" r="2.05" fill="#fff" stroke="#e6c880" stroke-width="1.0"/>
<circle cx="575.2" cy="37.4" r="2.05" fill="#fff" stroke="#e6c880" stroke-width="1.0"/>
<circle cx="580.6" cy="36.1" r="2.05" fill="#fff" stroke="#e6c880" stroke-width="1.0"/>
<circle cx="586" cy="34.7" r="2.05" fill="#fff" stroke="#e6c880" stroke-width="1.0"/>
<circle cx="591.6" cy="32.1" r="2.05" fill="#fff" stroke="#e6c880" stroke-width="1.0"/>
<circle cx="597.2" cy="28.8" r="2.05" fill="#fff" stroke="#e6c880" stroke-width="1.0"/>
<circle cx="603.5" cy="24.6" r="2.05" fill="#fff" stroke="#e6c880" stroke-width="1.0"/>
<circle cx="609.8" cy="20.4" r="2.05" fill="#fff" stroke="#e6c880" stroke-width="1.0"/>
<circle cx="616.6" cy="16.4" r="2.05" fill="#fff" stroke="#e6c880" stroke-width="1.0"/>
<circle cx="623.4" cy="14.3" r="2.05" fill="#fff" stroke="#e6c880" stroke-width="1.0"/>
<circle cx="630.6" cy="15" r="2.05" fill="#fff" stroke="#e6c880" stroke-width="1.0"/>
<circle cx="638.3" cy="22" r="2.05" fill="#fff" stroke="#e6c880" stroke-width="1.0"/>
<circle cx="646.7" cy="26" r="2.05" fill="#fff" stroke="#e6c880" stroke-width="1.0"/>
<circle cx="655.1" cy="33.4" r="2.05" fill="#fff" stroke="#e6c880" stroke-width="1.0"/>
<circle cx="663.8" cy="38.1" r="2.05" fill="#fff" stroke="#e6c880" stroke-width="1.0"/>
<circle cx="673.1" cy="41.5" r="2.05" fill="#fff" stroke="#e6c880" stroke-width="1.0"/>
<circle cx="683" cy="38.9" r="2.05" fill="#fff" stroke="#e6c880" stroke-width="1.0"/>
</g>
<text x="518.2" y="22" font-size="11.2" font-family="Liberation Sans, sans-serif" fill="#151515">Fresh</text>
</g>
<g>
<clipPath id="cp1"><rect x="517.5" y="49.2" width="166.7" height="41.2"/></clipPath>
<g clip-path="url(#cp1)">
<path d="M520.5,52.2H681.2" stroke="#d6c6ef" stroke-width="0.6" stroke-dasharray="0.9,1.3"/>
<path d="M520,85.07L521,85.05L522,85.03L523,85.02L524,85L525,84.98L526,84.96L527,84.94L528,84.93L529,84.91L530,84.88L531,84.86L532,84.84L533,84.82L534,84.79L535,84.77L536,84.74L537,84.72L538,84.69L539,84.66L540,84.62L541,84.59L542,84.55L543,84.52L544,84.48L545,84.43L546,84.39L547,84.34L548,84.28L549,84.23L550,84.17L551,84.1L552,84.03L553,83.96L554,83.88L555,83.79L556,83.7L557,83.6L558,83.5L559,83.38L560,83.26L561,83.13L562,82.99L563,82.84L564,82.68L565,82.51L566,82.33L567,82.14L568,81.94L569,81.72L570,81.49L571,81.25L572,80.99L573,80.73L574,80.44L575,80.15L576,79.84L577,79.52L578,79.18L579,78.83L580,78.47L581,78.09L582,77.7L583,77.3L584,76.89L585,76.47L586,76.04L587,75.6L588,75.16L589,74.7L590,74.25L591,73.78L592,73.32L593,72.86L594,72.4L595,71.94L596,71.49L597,71.05L598,70.62L599,70.2L600,69.79L601,69.4L602,69.04L603,68.69L604,68.37L605,68.08L606,67.82L607,67.59L608,67.39L609,67.24L610,67.11L611,67.03L612,66.99L613,66.99L614,67.04L615,67.15L616,67.31L617,67.53L618,67.79L619,68.09L620,68.43L621,68.8L622,69.21L623,69.63L624,70.08L625,70.55L626,71.02L627,71.5L628,71.99L629,72.48L630,72.96L631,73.45L632,73.92L633,74.39L634,74.85L635,75.29L636,75.73L637,76.15L638,76.56L639,76.95L640,77.33L641,77.69L642,78.04L643,78.37L644,78.69L645,78.99L646,79.28L647,79.55L648,79.8L649,80.05L650,80.28L651,80.49L652,80.69L653,80.88L654,81.06L655,81.23L656,81.38L657,81.53L658,81.66L659,81.79L660,81.91L661,82.02L662,82.12L663,82.21L664,82.3L665,82.38L666,82.46L667,82.53L668,82.59L669,82.65L670,82.71L671,82.76L672,82.81L673,82.85L674,82.9L675,82.94L676,82.97L677,83.01L678,83.04L679,83.07L680,83.1L681,83.12L682,83.15L683,83.17L684,83.19L684.2,83.19L684.2,84.94L684,84.95L683,84.95L682,84.96L681,84.97L680,84.98L679,84.98L678,84.99L677,85L676,85.01L675,85.01L674,85.02L673,85.03L672,85.03L671,85.04L670,85.05L669,85.06L668,85.06L667,85.07L666,85.08L665,85.09L664,85.09L663,85.1L662,85.11L661,85.12L660,85.12L659,85.13L658,85.14L657,85.15L656,85.16L655,85.16L654,85.17L653,85.18L652,85.19L651,85.19L650,85.2L649,85.21L648,85.22L647,85.22L646,85.23L645,85.24L644,85.25L643,85.25L642,85.26L641,85.27L640,85.28L639,85.28L638,85.29L637,85.3L636,85.31L635,85.31L634,85.32L633,85.33L632,85.34L631,85.34L630,85.35L629,85.36L628,85.37L627,85.37L626,85.38L625,85.39L624,85.39L623,85.4L622,85.41L621,85.42L620,85.42L619,85.43L618,85.44L617,85.45L616,85.45L615,85.46L614,85.47L613,85.48L612,85.48L611,85.49L610,85.5L609,85.51L608,85.52L607,85.52L606,85.53L605,85.54L604,85.55L603,85.55L602,85.56L601,85.57L600,85.58L599,85.58L598,85.59L597,85.6L596,85.61L595,85.61L594,85.62L593,85.63L592,85.64L591,85.64L590,85.65L589,85.66L588,85.67L587,85.67L586,85.68L585,85.69L584,85.7L583,85.7L582,85.71L581,85.72L580,85.73L579,85.73L578,85.74L577,85.75L576,85.76L575,85.76L574,85.77L573,85.78L572,85.78L571,85.79L570,85.8L569,85.81L568,85.81L567,85.82L566,85.83L565,85.84L564,85.84L563,85.85L562,85.86L561,85.87L560,85.88L559,85.88L558,85.89L557,85.9L556,85.91L555,85.91L554,85.92L553,85.93L552,85.94L551,85.94L550,85.95L549,85.96L548,85.97L547,85.97L546,85.98L545,85.99L544,86L543,86L542,86.01L541,86.02L540,86.03L539,86.03L538,86.04L537,86.05L536,86.06L535,86.06L534,86.07L533,86.08L532,86.09L531,86.09L530,86.1L529,86.11L528,86.12L527,86.12L526,86.13L525,86.14L524,86.14L523,86.15L522,86.16L521,86.17L520,86.17Z" fill="url(#hg)"/>
<path d="M520,85.07L521,85.05L522,85.03L523,85.02L524,85L525,84.98L526,84.96L527,84.94L528,84.93L529,84.91L530,84.88L531,84.86L532,84.84L533,84.82L534,84.79L535,84.77L536,84.74L537,84.72L538,84.69L539,84.66L540,84.62L541,84.59L542,84.55L543,84.52L544,84.48L545,84.43L546,84.39L547,84.34L548,84.28L549,84.23L550,84.17L551,84.1L552,84.03L553,83.96L554,83.88L555,83.79L556,83.7L557,83.6L558,83.5L559,83.38L560,83.26L561,83.13L562,82.99L563,82.84L564,82.68L565,82.51L566,82.33L567,82.14L568,81.94L569,81.72L570,81.49L571,81.25L572,80.99L573,80.73L574,80.44L575,80.15L576,79.84L577,79.52L578,79.18L579,78.83L580,78.47L581,78.09L582,77.7L583,77.3L584,76.89L585,76.47L586,76.04L587,75.6L588,75.16L589,74.7L590,74.25L591,73.78L592,73.32L593,72.86L594,72.4L595,71.94L596,71.49L597,71.05L598,70.62L599,70.2L600,69.79L601,69.4L602,69.04L603,68.69L604,68.37L605,68.08L606,67.82L607,67.59L608,67.39L609,67.24L610,67.11L611,67.03L612,66.99L613,66.99L614,67.04L615,67.15L616,67.31L617,67.53L618,67.79L619,68.09L620,68.43L621,68.8L622,69.21L623,69.63L624,70.08L625,70.55L626,71.02L627,71.5L628,71.99L629,72.48L630,72.96L631,73.45L632,73.92L633,74.39L634,74.85L635,75.29L636,75.73L637,76.15L638,76.56L639,76.95L640,77.33L641,77.69L642,78.04L643,78.37L644,78.69L645,78.99L646,79.28L647,79.55L648,79.8L649,80.05L650,80.28L651,80.49L652,80.69L653,80.88L654,81.06L655,81.23L656,81.38L657,81.53L658,81.66L659,81.79L660,81.91L661,82.02L662,82.12L663,82.21L664,82.3L665,82.38L666,82.46L667,82.53L668,82.59L669,82.65L670,82.71L671,82.76L672,82.81L673,82.85L674,82.9L675,82.94L676,82.97L677,83.01L678,83.04L679,83.07L680,83.1L681,83.12L682,83.15L683,83.17L684,83.19L684.2,83.19" fill="none" stroke="#4a4a4a" stroke-width="1.0"/>
<path d="M520,85.9L521,85.89L522,85.88L523,85.88L524,85.87L525,85.86L526,85.85L527,85.84L528,85.83L529,85.82L530,85.81L531,85.8L532,85.79L533,85.78L534,85.77L535,85.77L536,85.76L537,85.75L538,85.74L539,85.73L540,85.72L541,85.71L542,85.7L543,85.69L544,85.68L545,85.67L546,85.66L547,85.64L548,85.63L549,85.62L550,85.61L551,85.6L552,85.59L553,85.58L554,85.57L555,85.56L556,85.54L557,85.53L558,85.52L559,85.51L560,85.5L561,85.48L562,85.47L563,85.46L564,85.44L565,85.43L566,85.41L567,85.4L568,85.39L569,85.37L570,85.36L571,85.34L572,85.32L573,85.31L574,85.29L575,85.27L576,85.25L577,85.23L578,85.21L579,85.19L580,85.17L581,85.15L582,85.13L583,85.11L584,85.08L585,85.05L586,85.03L587,85L588,84.97L589,84.93L590,84.9L591,84.86L592,84.82L593,84.78L594,84.73L595,84.67L596,84.61L597,84.55L598,84.47L599,84.38L600,84.28L601,84.16L602,84.02L603,83.87L604,83.68L605,83.47L606,83.23L607,82.95L608,82.63L609,82.27L610,81.86L611,81.41L612,80.9L613,80.35L614,79.74L615,79.09L616,78.4L617,77.68L618,76.92L619,76.15L620,75.38L621,74.62L622,73.89L623,73.23L624,72.64L625,72.16L626,71.81L627,71.61L628,71.57L629,71.72L630,72.03L631,72.51L632,73.11L633,73.81L634,74.58L635,75.38L636,76.2L637,77.01L638,77.79L639,78.54L640,79.25L641,79.9L642,80.5L643,81.05L644,81.53L645,81.96L646,82.34L647,82.66L648,82.94L649,83.19L650,83.39L651,83.56L652,83.71L653,83.83L654,83.93L655,84.01L656,84.09L657,84.15L658,84.2L659,84.24L660,84.28L661,84.31L662,84.34L663,84.36L664,84.38L665,84.4L666,84.42L667,84.43L668,84.44L669,84.46L670,84.47L671,84.47L672,84.48L673,84.49L674,84.5L675,84.5L676,84.51L677,84.51L678,84.51L679,84.52L680,84.52L681,84.52L682,84.52L683,84.52L684,84.52L684.2,84.52L684.2,85.24L684,85.25L683,85.25L682,85.26L681,85.27L680,85.28L679,85.28L678,85.29L677,85.3L676,85.31L675,85.31L674,85.32L673,85.33L672,85.33L671,85.34L670,85.35L669,85.36L668,85.36L667,85.37L666,85.38L665,85.39L664,85.39L663,85.4L662,85.41L661,85.42L660,85.42L659,85.43L658,85.44L657,85.45L656,85.45L655,85.46L654,85.47L653,85.48L652,85.48L651,85.49L650,85.5L649,85.51L648,85.52L647,85.52L646,85.53L645,85.54L644,85.55L643,85.55L642,85.56L641,85.57L640,85.58L639,85.58L638,85.59L637,85.6L636,85.61L635,85.61L634,85.62L633,85.63L632,85.64L631,85.64L630,85.65L629,85.66L628,85.67L627,85.67L626,85.68L625,85.69L624,85.69L623,85.7L622,85.71L621,85.72L620,85.72L619,85.73L618,85.74L617,85.75L616,85.75L615,85.76L614,85.77L613,85.78L612,85.78L611,85.79L610,85.8L609,85.81L608,85.81L607,85.82L606,85.83L605,85.84L604,85.84L603,85.85L602,85.86L601,85.87L600,85.88L599,85.88L598,85.89L597,85.9L596,85.91L595,85.91L594,85.92L593,85.93L592,85.94L591,85.94L590,85.95L589,85.96L588,85.97L587,85.97L586,85.98L585,85.99L584,86L583,86L582,86.01L581,86.02L580,86.03L579,86.03L578,86.04L577,86.05L576,86.06L575,86.06L574,86.07L573,86.08L572,86.08L571,86.09L570,86.1L569,86.11L568,86.11L567,86.12L566,86.13L565,86.14L564,86.14L563,86.15L562,86.16L561,86.17L560,86.17L559,86.18L558,86.19L557,86.2L556,86.2L555,86.21L554,86.22L553,86.23L552,86.23L551,86.24L550,86.25L549,86.26L548,86.27L547,86.27L546,86.28L545,86.29L544,86.3L543,86.3L542,86.31L541,86.32L540,86.33L539,86.33L538,86.34L537,86.35L536,86.36L535,86.36L534,86.37L533,86.38L532,86.39L531,86.39L530,86.4L529,86.41L528,86.42L527,86.42L526,86.43L525,86.44L524,86.44L523,86.45L522,86.46L521,86.47L520,86.47Z" fill="url(#hr)"/>
<path d="M520,85.9L521,85.89L522,85.88L523,85.88L524,85.87L525,85.86L526,85.85L527,85.84L528,85.83L529,85.82L530,85.81L531,85.8L532,85.79L533,85.78L534,85.77L535,85.77L536,85.76L537,85.75L538,85.74L539,85.73L540,85.72L541,85.71L542,85.7L543,85.69L544,85.68L545,85.67L546,85.66L547,85.64L548,85.63L549,85.62L550,85.61L551,85.6L552,85.59L553,85.58L554,85.57L555,85.56L556,85.54L557,85.53L558,85.52L559,85.51L560,85.5L561,85.48L562,85.47L563,85.46L564,85.44L565,85.43L566,85.41L567,85.4L568,85.39L569,85.37L570,85.36L571,85.34L572,85.32L573,85.31L574,85.29L575,85.27L576,85.25L577,85.23L578,85.21L579,85.19L580,85.17L581,85.15L582,85.13L583,85.11L584,85.08L585,85.05L586,85.03L587,85L588,84.97L589,84.93L590,84.9L591,84.86L592,84.82L593,84.78L594,84.73L595,84.67L596,84.61L597,84.55L598,84.47L599,84.38L600,84.28L601,84.16L602,84.02L603,83.87L604,83.68L605,83.47L606,83.23L607,82.95L608,82.63L609,82.27L610,81.86L611,81.41L612,80.9L613,80.35L614,79.74L615,79.09L616,78.4L617,77.68L618,76.92L619,76.15L620,75.38L621,74.62L622,73.89L623,73.23L624,72.64L625,72.16L626,71.81L627,71.61L628,71.57L629,71.72L630,72.03L631,72.51L632,73.11L633,73.81L634,74.58L635,75.38L636,76.2L637,77.01L638,77.79L639,78.54L640,79.25L641,79.9L642,80.5L643,81.05L644,81.53L645,81.96L646,82.34L647,82.66L648,82.94L649,83.19L650,83.39L651,83.56L652,83.71L653,83.83L654,83.93L655,84.01L656,84.09L657,84.15L658,84.2L659,84.24L660,84.28L661,84.31L662,84.34L663,84.36L664,84.38L665,84.4L666,84.42L667,84.43L668,84.44L669,84.46L670,84.47L671,84.47L672,84.48L673,84.49L674,84.5L675,84.5L676,84.51L677,84.51L678,84.51L679,84.52L680,84.52L681,84.52L682,84.52L683,84.52L684,84.52L684.2,84.52" fill="none" stroke="#ea3a44" stroke-width="1.1"/>
<path d="M520,87.67L521,87.67L522,87.66L523,87.65L524,87.64L525,87.64L526,87.63L527,87.62L528,87.62L529,87.61L530,87.6L531,87.59L532,87.59L533,87.58L534,87.57L535,87.56L536,87.56L537,87.55L538,87.54L539,87.53L540,87.53L541,87.52L542,87.51L543,87.5L544,87.5L545,87.49L546,87.48L547,87.47L548,87.47L549,87.46L550,87.45L551,87.44L552,87.44L553,87.43L554,87.42L555,87.41L556,87.41L557,87.4L558,87.39L559,87.38L560,87.38L561,87.37L562,87.36L563,87.35L564,87.34L565,87.34L566,87.33L567,87.32L568,87.31L569,87.31L570,87.3L571,87.29L572,87.28L573,87.28L574,87.27L575,87.26L576,87.25L577,87.25L578,87.24L579,87.23L580,87.22L581,87.22L582,87.21L583,87.2L584,87.19L585,87.19L586,87.18L587,87.17L588,87.16L589,87.16L590,87.15L591,87.14L592,87.13L593,87.13L594,87.12L595,87.11L596,87.1L597,87.1L598,87.09L599,87.08L600,87.07L601,87.07L602,87.06L603,87.05L604,87.04L605,87.04L606,87.03L607,87.02L608,87.01L609,87.01L610,87L611,86.99L612,86.98L613,86.96L614,86.95L615,86.93L616,86.91L617,86.89L618,86.86L619,86.82L620,86.77L621,86.7L622,86.62L623,86.52L624,86.4L625,86.25L626,86.07L627,85.85L628,85.6L629,85.3L630,84.97L631,84.59L632,84.17L633,83.71L634,83.22L635,82.71L636,82.19L637,81.66L638,81.15L639,80.66L640,80.22L641,79.83L642,79.5L643,79.26L644,79.1L645,79.04L646,79.06L647,79.17L648,79.37L649,79.63L650,79.96L651,80.34L652,80.77L653,81.23L654,81.71L655,82.19L656,82.67L657,83.13L658,83.58L659,83.99L660,84.37L661,84.72L662,85.03L663,85.3L664,85.53L665,85.73L666,85.9L667,86.03L668,86.14L669,86.23L670,86.3L671,86.36L672,86.4L673,86.42L674,86.44L675,86.46L676,86.47L677,86.47L678,86.47L679,86.47L680,86.47L681,86.46L682,86.46L683,86.45L684,86.44L684.2,86.44L684.2,86.44L684,86.45L683,86.45L682,86.46L681,86.47L680,86.48L679,86.48L678,86.49L677,86.5L676,86.51L675,86.51L674,86.52L673,86.53L672,86.53L671,86.54L670,86.55L669,86.56L668,86.56L667,86.57L666,86.58L665,86.59L664,86.59L663,86.6L662,86.61L661,86.62L660,86.62L659,86.63L658,86.64L657,86.65L656,86.66L655,86.66L654,86.67L653,86.68L652,86.69L651,86.69L650,86.7L649,86.71L648,86.72L647,86.72L646,86.73L645,86.74L644,86.75L643,86.75L642,86.76L641,86.77L640,86.78L639,86.78L638,86.79L637,86.8L636,86.81L635,86.81L634,86.82L633,86.83L632,86.84L631,86.84L630,86.85L629,86.86L628,86.87L627,86.87L626,86.88L625,86.89L624,86.89L623,86.9L622,86.91L621,86.92L620,86.92L619,86.93L618,86.94L617,86.95L616,86.95L615,86.96L614,86.97L613,86.98L612,86.98L611,86.99L610,87L609,87.01L608,87.02L607,87.02L606,87.03L605,87.04L604,87.05L603,87.05L602,87.06L601,87.07L600,87.08L599,87.08L598,87.09L597,87.1L596,87.11L595,87.11L594,87.12L593,87.13L592,87.14L591,87.14L590,87.15L589,87.16L588,87.17L587,87.17L586,87.18L585,87.19L584,87.2L583,87.2L582,87.21L581,87.22L580,87.23L579,87.23L578,87.24L577,87.25L576,87.26L575,87.26L574,87.27L573,87.28L572,87.28L571,87.29L570,87.3L569,87.31L568,87.31L567,87.32L566,87.33L565,87.34L564,87.34L563,87.35L562,87.36L561,87.37L560,87.38L559,87.38L558,87.39L557,87.4L556,87.41L555,87.41L554,87.42L553,87.43L552,87.44L551,87.44L550,87.45L549,87.46L548,87.47L547,87.47L546,87.48L545,87.49L544,87.5L543,87.5L542,87.51L541,87.52L540,87.53L539,87.53L538,87.54L537,87.55L536,87.56L535,87.56L534,87.57L533,87.58L532,87.59L531,87.59L530,87.6L529,87.61L528,87.62L527,87.62L526,87.63L525,87.64L524,87.64L523,87.65L522,87.66L521,87.67L520,87.67Z" fill="url(#hb)"/>
<path d="M520,87.67L521,87.67L522,87.66L523,87.65L524,87.64L525,87.64L526,87.63L527,87.62L528,87.62L529,87.61L530,87.6L531,87.59L532,87.59L533,87.58L534,87.57L535,87.56L536,87.56L537,87.55L538,87.54L539,87.53L540,87.53L541,87.52L542,87.51L543,87.5L544,87.5L545,87.49L546,87.48L547,87.47L548,87.47L549,87.46L550,87.45L551,87.44L552,87.44L553,87.43L554,87.42L555,87.41L556,87.41L557,87.4L558,87.39L559,87.38L560,87.38L561,87.37L562,87.36L563,87.35L564,87.34L565,87.34L566,87.33L567,87.32L568,87.31L569,87.31L570,87.3L571,87.29L572,87.28L573,87.28L574,87.27L575,87.26L576,87.25L577,87.25L578,87.24L579,87.23L580,87.22L581,87.22L582,87.21L583,87.2L584,87.19L585,87.19L586,87.18L587,87.17L588,87.16L589,87.16L590,87.15L591,87.14L592,87.13L593,87.13L594,87.12L595,87.11L596,87.1L597,87.1L598,87.09L599,87.08L600,87.07L601,87.07L602,87.06L603,87.05L604,87.04L605,87.04L606,87.03L607,87.02L608,87.01L609,87.01L610,87L611,86.99L612,86.98L613,86.96L614,86.95L615,86.93L616,86.91L617,86.89L618,86.86L619,86.82L620,86.77L621,86.7L622,86.62L623,86.52L624,86.4L625,86.25L626,86.07L627,85.85L628,85.6L629,85.3L630,84.97L631,84.59L632,84.17L633,83.71L634,83.22L635,82.71L636,82.19L637,81.66L638,81.15L639,80.66L640,80.22L641,79.83L642,79.5L643,79.26L644,79.1L645,79.04L646,79.06L647,79.17L648,79.37L649,79.63L650,79.96L651,80.34L652,80.77L653,81.23L654,81.71L655,82.19L656,82.67L657,83.13L658,83.58L659,83.99L660,84.37L661,84.72L662,85.03L663,85.3L664,85.53L665,85.73L666,85.9L667,86.03L668,86.14L669,86.23L670,86.3L671,86.36L672,86.4L673,86.42L674,86.44L675,86.46L676,86.47L677,86.47L678,86.47L679,86.47L680,86.47L681,86.46L682,86.46L683,86.45L684,86.44L684.2,86.44" fill="none" stroke="#2a66e0" stroke-width="1.2"/>
<path d="M520,88.47L684.2,87.24" stroke="#8fb6f0" stroke-width="1.0"/>
<path d="M520,84C520.48,84 521.8,84 522.9,84C524,84 525.43,84 526.6,84C527.77,84 528.75,84 529.9,84C531.05,84 532.33,84.05 533.5,84C534.67,83.95 535.73,83.77 536.9,83.7C538.07,83.63 539.23,83.67 540.5,83.6C541.77,83.53 543.2,83.4 544.5,83.3C545.8,83.2 547,83.12 548.3,83C549.6,82.88 550.9,82.8 552.3,82.6C553.7,82.4 555.18,82.05 556.7,81.8C558.22,81.55 559.88,81.38 561.4,81.1C562.92,80.82 564.25,80.42 565.8,80.1C567.35,79.78 569.08,79.53 570.7,79.2C572.32,78.87 573.87,78.6 575.5,78.1C577.13,77.6 578.73,76.83 580.5,76.2C582.27,75.57 584.23,74.88 586.1,74.3C587.97,73.72 589.78,73.63 591.7,72.7C593.62,71.77 595.68,70.05 597.6,68.7C599.52,67.35 601.13,65.97 603.2,64.6C605.27,63.23 607.78,61.8 610,60.5C612.22,59.2 614.25,57.78 616.5,56.8C618.75,55.82 621.15,54.55 623.5,54.6C625.85,54.65 628.1,55.95 630.6,57.1C633.1,58.25 635.85,59.95 638.5,61.5C641.15,63.05 643.73,64.37 646.5,66.4C649.27,68.43 652.23,71.67 655.1,73.7C657.97,75.73 660.68,77.12 663.7,78.6C666.72,80.08 669.85,81.87 673.2,82.6C676.55,83.33 682.03,82.93 683.8,83" fill="none" stroke="#33ad6a" stroke-width="1.9"/>
<circle cx="522.9" cy="84" r="2.05" fill="#fff" stroke="#e6c880" stroke-width="1.0"/>
<circle cx="526.6" cy="84" r="2.05" fill="#fff" stroke="#e6c880" stroke-width="1.0"/>
<circle cx="529.9" cy="84" r="2.05" fill="#fff" stroke="#e6c880" stroke-width="1.0"/>
<circle cx="533.5" cy="84" r="2.05" fill="#fff" stroke="#e6c880" stroke-width="1.0"/>
<circle cx="536.9" cy="83.7" r="2.05" fill="#fff" stroke="#e6c880" stroke-width="1.0"/>
<circle cx="540.5" cy="83.6" r="2.05" fill="#fff" stroke="#e6c880" stroke-width="1.0"/>
<circle cx="544.5" cy="83.3" r="2.05" fill="#fff" stroke="#e6c880" stroke-width="1.0"/>
<circle cx="548.3" cy="83" r="2.05" fill="#fff" stroke="#e6c880" stroke-width="1.0"/>
<circle cx="552.3" cy="82.6" r="2.05" fill="#fff" stroke="#e6c880" stroke-width="1.0"/>
<circle cx="556.7" cy="81.8" r="2.05" fill="#fff" stroke="#e6c880" stroke-width="1.0"/>
<circle cx="561.4" cy="81.1" r="2.05" fill="#fff" stroke="#e6c880" stroke-width="1.0"/>
<circle cx="565.8" cy="80.1" r="2.05" fill="#fff" stroke="#e6c880" stroke-width="1.0"/>
<circle cx="570.7" cy="79.2" r="2.05" fill="#fff" stroke="#e6c880" stroke-width="1.0"/>
<circle cx="575.5" cy="78.1" r="2.05" fill="#fff" stroke="#e6c880" stroke-width="1.0"/>
<circle cx="580.5" cy="76.2" r="2.05" fill="#fff" stroke="#e6c880" stroke-width="1.0"/>
<circle cx="586.1" cy="74.3" r="2.05" fill="#fff" stroke="#e6c880" stroke-width="1.0"/>
<circle cx="591.7" cy="72.7" r="2.05" fill="#fff" stroke="#e6c880" stroke-width="1.0"/>
<circle cx="597.6" cy="68.7" r="2.05" fill="#fff" stroke="#e6c880" stroke-width="1.0"/>
<circle cx="603.2" cy="64.6" r="2.05" fill="#fff" stroke="#e6c880" stroke-width="1.0"/>
<circle cx="610" cy="60.5" r="2.05" fill="#fff" stroke="#e6c880" stroke-width="1.0"/>
<circle cx="616.5" cy="56.8" r="2.05" fill="#fff" stroke="#e6c880" stroke-width="1.0"/>
<circle cx="623.5" cy="54.6" r="2.05" fill="#fff" stroke="#e6c880" stroke-width="1.0"/>
<circle cx="630.6" cy="57.1" r="2.05" fill="#fff" stroke="#e6c880" stroke-width="1.0"/>
<circle cx="638.5" cy="61.5" r="2.05" fill="#fff" stroke="#e6c880" stroke-width="1.0"/>
<circle cx="646.5" cy="66.4" r="2.05" fill="#fff" stroke="#e6c880" stroke-width="1.0"/>
<circle cx="655.1" cy="73.7" r="2.05" fill="#fff" stroke="#e6c880" stroke-width="1.0"/>
<circle cx="663.7" cy="78.6" r="2.05" fill="#fff" stroke="#e6c880" stroke-width="1.0"/>
<circle cx="673.2" cy="82.6" r="2.05" fill="#fff" stroke="#e6c880" stroke-width="1.0"/>
<circle cx="683.1" cy="82.1" r="2.05" fill="#fff" stroke="#e6c880" stroke-width="1.0"/>
</g>
<text x="518.6" y="63.2" font-size="11.2" font-family="Liberation Sans, sans-serif" fill="#151515">Aged</text>
</g>
<g>
<clipPath id="cp2"><rect x="517.5" y="90.4" width="166.7" height="41.2"/></clipPath>
<g clip-path="url(#cp2)">
<path d="M520.5,93.4H681.2" stroke="#d6c6ef" stroke-width="0.6" stroke-dasharray="0.9,1.3"/>
<path d="M519.2,125.78L520.2,125.77L521.2,125.76L522.2,125.75L523.2,125.73L524.2,125.72L525.2,125.71L526.2,125.69L527.2,125.68L528.2,125.67L529.2,125.65L530.2,125.64L531.2,125.62L532.2,125.61L533.2,125.59L534.2,125.57L535.2,125.56L536.2,125.54L537.2,125.52L538.2,125.5L539.2,125.48L540.2,125.46L541.2,125.43L542.2,125.41L543.2,125.38L544.2,125.35L545.2,125.32L546.2,125.28L547.2,125.24L548.2,125.2L549.2,125.15L550.2,125.09L551.2,125.03L552.2,124.96L553.2,124.88L554.2,124.8L555.2,124.7L556.2,124.59L557.2,124.47L558.2,124.33L559.2,124.17L560.2,124L561.2,123.81L562.2,123.59L563.2,123.35L564.2,123.09L565.2,122.8L566.2,122.48L567.2,122.13L568.2,121.74L569.2,121.32L570.2,120.87L571.2,120.38L572.2,119.85L573.2,119.28L574.2,118.68L575.2,118.04L576.2,117.36L577.2,116.65L578.2,115.9L579.2,115.12L580.2,114.31L581.2,113.48L582.2,112.63L583.2,111.75L584.2,110.87L585.2,109.98L586.2,109.09L587.2,108.21L588.2,107.34L589.2,106.49L590.2,105.67L591.2,104.89L592.2,104.15L593.2,103.46L594.2,102.83L595.2,102.27L596.2,101.79L597.2,101.38L598.2,101.06L599.2,100.84L600.2,100.7L601.2,100.67L602.2,100.74L603.2,100.93L604.2,101.22L605.2,101.62L606.2,102.11L607.2,102.69L608.2,103.34L609.2,104.05L610.2,104.81L611.2,105.61L612.2,106.44L613.2,107.29L614.2,108.15L615.2,109.01L616.2,109.87L617.2,110.72L618.2,111.55L619.2,112.37L620.2,113.16L621.2,113.92L622.2,114.66L623.2,115.36L624.2,116.03L625.2,116.66L626.2,117.26L627.2,117.83L628.2,118.36L629.2,118.85L630.2,119.31L631.2,119.74L632.2,120.13L633.2,120.5L634.2,120.83L635.2,121.14L636.2,121.42L637.2,121.68L638.2,121.91L639.2,122.12L640.2,122.31L641.2,122.49L642.2,122.64L643.2,122.78L644.2,122.91L645.2,123.03L646.2,123.13L647.2,123.23L648.2,123.31L649.2,123.39L650.2,123.46L651.2,123.52L652.2,123.58L653.2,123.63L654.2,123.68L655.2,123.72L656.2,123.76L657.2,123.79L658.2,123.83L659.2,123.86L660.2,123.89L661.2,123.91L662.2,123.94L663.2,123.96L664.2,123.98L665.2,124L666.2,124.02L667.2,124.04L668.2,124.05L669.2,124.07L670.2,124.08L671.2,124.09L672.2,124.11L673.2,124.12L674.2,124.13L675.2,124.14L676.2,124.15L677.2,124.16L678.2,124.16L679.2,124.17L680.2,124.18L681.2,124.18L681.5,124.19L681.5,125.46L681.2,125.47L680.2,125.47L679.2,125.48L678.2,125.49L677.2,125.5L676.2,125.5L675.2,125.51L674.2,125.52L673.2,125.53L672.2,125.53L671.2,125.54L670.2,125.55L669.2,125.56L668.2,125.56L667.2,125.57L666.2,125.58L665.2,125.59L664.2,125.59L663.2,125.6L662.2,125.61L661.2,125.62L660.2,125.62L659.2,125.63L658.2,125.64L657.2,125.65L656.2,125.65L655.2,125.66L654.2,125.67L653.2,125.68L652.2,125.68L651.2,125.69L650.2,125.7L649.2,125.71L648.2,125.71L647.2,125.72L646.2,125.73L645.2,125.74L644.2,125.74L643.2,125.75L642.2,125.76L641.2,125.77L640.2,125.77L639.2,125.78L638.2,125.79L637.2,125.8L636.2,125.8L635.2,125.81L634.2,125.82L633.2,125.83L632.2,125.83L631.2,125.84L630.2,125.85L629.2,125.86L628.2,125.86L627.2,125.87L626.2,125.88L625.2,125.89L624.2,125.89L623.2,125.9L622.2,125.91L621.2,125.92L620.2,125.92L619.2,125.93L618.2,125.94L617.2,125.95L616.2,125.95L615.2,125.96L614.2,125.97L613.2,125.98L612.2,125.98L611.2,125.99L610.2,126L609.2,126.01L608.2,126.01L607.2,126.02L606.2,126.03L605.2,126.04L604.2,126.04L603.2,126.05L602.2,126.06L601.2,126.07L600.2,126.07L599.2,126.08L598.2,126.09L597.2,126.1L596.2,126.1L595.2,126.11L594.2,126.12L593.2,126.13L592.2,126.13L591.2,126.14L590.2,126.15L589.2,126.16L588.2,126.16L587.2,126.17L586.2,126.18L585.2,126.19L584.2,126.19L583.2,126.2L582.2,126.21L581.2,126.22L580.2,126.22L579.2,126.23L578.2,126.24L577.2,126.25L576.2,126.25L575.2,126.26L574.2,126.27L573.2,126.28L572.2,126.28L571.2,126.29L570.2,126.3L569.2,126.31L568.2,126.31L567.2,126.32L566.2,126.33L565.2,126.34L564.2,126.34L563.2,126.35L562.2,126.36L561.2,126.37L560.2,126.37L559.2,126.38L558.2,126.39L557.2,126.4L556.2,126.4L555.2,126.41L554.2,126.42L553.2,126.43L552.2,126.43L551.2,126.44L550.2,126.45L549.2,126.46L548.2,126.46L547.2,126.47L546.2,126.48L545.2,126.49L544.2,126.49L543.2,126.5L542.2,126.51L541.2,126.52L540.2,126.52L539.2,126.53L538.2,126.54L537.2,126.55L536.2,126.55L535.2,126.56L534.2,126.57L533.2,126.58L532.2,126.58L531.2,126.59L530.2,126.6L529.2,126.61L528.2,126.61L527.2,126.62L526.2,126.63L525.2,126.64L524.2,126.64L523.2,126.65L522.2,126.66L521.2,126.67L520.2,126.67L519.2,126.68Z" fill="url(#hg)"/>
<path d="M519.2,125.78L520.2,125.77L521.2,125.76L522.2,125.75L523.2,125.73L524.2,125.72L525.2,125.71L526.2,125.69L527.2,125.68L528.2,125.67L529.2,125.65L530.2,125.64L531.2,125.62L532.2,125.61L533.2,125.59L534.2,125.57L535.2,125.56L536.2,125.54L537.2,125.52L538.2,125.5L539.2,125.48L540.2,125.46L541.2,125.43L542.2,125.41L543.2,125.38L544.2,125.35L545.2,125.32L546.2,125.28L547.2,125.24L548.2,125.2L549.2,125.15L550.2,125.09L551.2,125.03L552.2,124.96L553.2,124.88L554.2,124.8L555.2,124.7L556.2,124.59L557.2,124.47L558.2,124.33L559.2,124.17L560.2,124L561.2,123.81L562.2,123.59L563.2,123.35L564.2,123.09L565.2,122.8L566.2,122.48L567.2,122.13L568.2,121.74L569.2,121.32L570.2,120.87L571.2,120.38L572.2,119.85L573.2,119.28L574.2,118.68L575.2,118.04L576.2,117.36L577.2,116.65L578.2,115.9L579.2,115.12L580.2,114.31L581.2,113.48L582.2,112.63L583.2,111.75L584.2,110.87L585.2,109.98L586.2,109.09L587.2,108.21L588.2,107.34L589.2,106.49L590.2,105.67L591.2,104.89L592.2,104.15L593.2,103.46L594.2,102.83L595.2,102.27L596.2,101.79L597.2,101.38L598.2,101.06L599.2,100.84L600.2,100.7L601.2,100.67L602.2,100.74L603.2,100.93L604.2,101.22L605.2,101.62L606.2,102.11L607.2,102.69L608.2,103.34L609.2,104.05L610.2,104.81L611.2,105.61L612.2,106.44L613.2,107.29L614.2,108.15L615.2,109.01L616.2,109.87L617.2,110.72L618.2,111.55L619.2,112.37L620.2,113.16L621.2,113.92L622.2,114.66L623.2,115.36L624.2,116.03L625.2,116.66L626.2,117.26L627.2,117.83L628.2,118.36L629.2,118.85L630.2,119.31L631.2,119.74L632.2,120.13L633.2,120.5L634.2,120.83L635.2,121.14L636.2,121.42L637.2,121.68L638.2,121.91L639.2,122.12L640.2,122.31L641.2,122.49L642.2,122.64L643.2,122.78L644.2,122.91L645.2,123.03L646.2,123.13L647.2,123.23L648.2,123.31L649.2,123.39L650.2,123.46L651.2,123.52L652.2,123.58L653.2,123.63L654.2,123.68L655.2,123.72L656.2,123.76L657.2,123.79L658.2,123.83L659.2,123.86L660.2,123.89L661.2,123.91L662.2,123.94L663.2,123.96L664.2,123.98L665.2,124L666.2,124.02L667.2,124.04L668.2,124.05L669.2,124.07L670.2,124.08L671.2,124.09L672.2,124.11L673.2,124.12L674.2,124.13L675.2,124.14L676.2,124.15L677.2,124.16L678.2,124.16L679.2,124.17L680.2,124.18L681.2,124.18L681.5,124.19" fill="none" stroke="#4a4a4a" stroke-width="1.0"/>
<path d="M519.2,126.4L520.2,126.39L521.2,126.38L522.2,126.38L523.2,126.37L524.2,126.36L525.2,126.35L526.2,126.34L527.2,126.33L528.2,126.32L529.2,126.31L530.2,126.3L531.2,126.29L532.2,126.28L533.2,126.27L534.2,126.26L535.2,126.25L536.2,126.24L537.2,126.23L538.2,126.22L539.2,126.21L540.2,126.2L541.2,126.19L542.2,126.18L543.2,126.17L544.2,126.16L545.2,126.15L546.2,126.14L547.2,126.13L548.2,126.12L549.2,126.11L550.2,126.1L551.2,126.08L552.2,126.07L553.2,126.06L554.2,126.05L555.2,126.04L556.2,126.03L557.2,126.01L558.2,126L559.2,125.99L560.2,125.97L561.2,125.96L562.2,125.95L563.2,125.93L564.2,125.92L565.2,125.9L566.2,125.89L567.2,125.87L568.2,125.86L569.2,125.84L570.2,125.83L571.2,125.81L572.2,125.79L573.2,125.77L574.2,125.76L575.2,125.74L576.2,125.72L577.2,125.7L578.2,125.68L579.2,125.65L580.2,125.63L581.2,125.61L582.2,125.58L583.2,125.56L584.2,125.53L585.2,125.5L586.2,125.47L587.2,125.44L588.2,125.41L589.2,125.37L590.2,125.33L591.2,125.29L592.2,125.25L593.2,125.2L594.2,125.15L595.2,125.1L596.2,125.03L597.2,124.96L598.2,124.88L599.2,124.79L600.2,124.69L601.2,124.57L602.2,124.42L603.2,124.26L604.2,124.06L605.2,123.84L606.2,123.57L607.2,123.25L608.2,122.89L609.2,122.47L610.2,121.99L611.2,121.44L612.2,120.82L613.2,120.13L614.2,119.36L615.2,118.53L616.2,117.62L617.2,116.66L618.2,115.65L619.2,114.61L620.2,113.55L621.2,112.51L622.2,111.5L623.2,110.58L624.2,109.77L625.2,109.11L626.2,108.64L627.2,108.4L628.2,108.39L629.2,108.63L630.2,109.09L631.2,109.76L632.2,110.58L633.2,111.53L634.2,112.56L635.2,113.63L636.2,114.72L637.2,115.8L638.2,116.84L639.2,117.83L640.2,118.76L641.2,119.61L642.2,120.38L643.2,121.07L644.2,121.68L645.2,122.21L646.2,122.67L647.2,123.07L648.2,123.4L649.2,123.67L650.2,123.91L651.2,124.1L652.2,124.25L653.2,124.38L654.2,124.49L655.2,124.57L656.2,124.64L657.2,124.7L658.2,124.75L659.2,124.79L660.2,124.83L661.2,124.85L662.2,124.88L663.2,124.9L664.2,124.92L665.2,124.94L666.2,124.95L667.2,124.96L668.2,124.98L669.2,124.99L670.2,124.99L671.2,125L672.2,125.01L673.2,125.01L674.2,125.02L675.2,125.02L676.2,125.03L677.2,125.03L678.2,125.03L679.2,125.04L680.2,125.04L681.2,125.04L681.5,125.04L681.5,125.76L681.2,125.77L680.2,125.77L679.2,125.78L678.2,125.79L677.2,125.8L676.2,125.8L675.2,125.81L674.2,125.82L673.2,125.83L672.2,125.83L671.2,125.84L670.2,125.85L669.2,125.86L668.2,125.86L667.2,125.87L666.2,125.88L665.2,125.89L664.2,125.89L663.2,125.9L662.2,125.91L661.2,125.92L660.2,125.92L659.2,125.93L658.2,125.94L657.2,125.95L656.2,125.95L655.2,125.96L654.2,125.97L653.2,125.98L652.2,125.98L651.2,125.99L650.2,126L649.2,126.01L648.2,126.01L647.2,126.02L646.2,126.03L645.2,126.04L644.2,126.04L643.2,126.05L642.2,126.06L641.2,126.07L640.2,126.07L639.2,126.08L638.2,126.09L637.2,126.1L636.2,126.1L635.2,126.11L634.2,126.12L633.2,126.13L632.2,126.13L631.2,126.14L630.2,126.15L629.2,126.16L628.2,126.16L627.2,126.17L626.2,126.18L625.2,126.19L624.2,126.19L623.2,126.2L622.2,126.21L621.2,126.22L620.2,126.22L619.2,126.23L618.2,126.24L617.2,126.25L616.2,126.25L615.2,126.26L614.2,126.27L613.2,126.28L612.2,126.28L611.2,126.29L610.2,126.3L609.2,126.31L608.2,126.31L607.2,126.32L606.2,126.33L605.2,126.34L604.2,126.34L603.2,126.35L602.2,126.36L601.2,126.37L600.2,126.37L599.2,126.38L598.2,126.39L597.2,126.4L596.2,126.4L595.2,126.41L594.2,126.42L593.2,126.43L592.2,126.43L591.2,126.44L590.2,126.45L589.2,126.46L588.2,126.46L587.2,126.47L586.2,126.48L585.2,126.49L584.2,126.49L583.2,126.5L582.2,126.51L581.2,126.52L580.2,126.52L579.2,126.53L578.2,126.54L577.2,126.55L576.2,126.55L575.2,126.56L574.2,126.57L573.2,126.58L572.2,126.58L571.2,126.59L570.2,126.6L569.2,126.61L568.2,126.61L567.2,126.62L566.2,126.63L565.2,126.64L564.2,126.64L563.2,126.65L562.2,126.66L561.2,126.67L560.2,126.67L559.2,126.68L558.2,126.69L557.2,126.7L556.2,126.7L555.2,126.71L554.2,126.72L553.2,126.73L552.2,126.73L551.2,126.74L550.2,126.75L549.2,126.76L548.2,126.76L547.2,126.77L546.2,126.78L545.2,126.79L544.2,126.79L543.2,126.8L542.2,126.81L541.2,126.82L540.2,126.82L539.2,126.83L538.2,126.84L537.2,126.85L536.2,126.85L535.2,126.86L534.2,126.87L533.2,126.88L532.2,126.88L531.2,126.89L530.2,126.9L529.2,126.91L528.2,126.91L527.2,126.92L526.2,126.93L525.2,126.94L524.2,126.94L523.2,126.95L522.2,126.96L521.2,126.97L520.2,126.97L519.2,126.98Z" fill="url(#hr)"/>
<path d="M519.2,126.4L520.2,126.39L521.2,126.38L522.2,126.38L523.2,126.37L524.2,126.36L525.2,126.35L526.2,126.34L527.2,126.33L528.2,126.32L529.2,126.31L530.2,126.3L531.2,126.29L532.2,126.28L533.2,126.27L534.2,126.26L535.2,126.25L536.2,126.24L537.2,126.23L538.2,126.22L539.2,126.21L540.2,126.2L541.2,126.19L542.2,126.18L543.2,126.17L544.2,126.16L545.2,126.15L546.2,126.14L547.2,126.13L548.2,126.12L549.2,126.11L550.2,126.1L551.2,126.08L552.2,126.07L553.2,126.06L554.2,126.05L555.2,126.04L556.2,126.03L557.2,126.01L558.2,126L559.2,125.99L560.2,125.97L561.2,125.96L562.2,125.95L563.2,125.93L564.2,125.92L565.2,125.9L566.2,125.89L567.2,125.87L568.2,125.86L569.2,125.84L570.2,125.83L571.2,125.81L572.2,125.79L573.2,125.77L574.2,125.76L575.2,125.74L576.2,125.72L577.2,125.7L578.2,125.68L579.2,125.65L580.2,125.63L581.2,125.61L582.2,125.58L583.2,125.56L584.2,125.53L585.2,125.5L586.2,125.47L587.2,125.44L588.2,125.41L589.2,125.37L590.2,125.33L591.2,125.29L592.2,125.25L593.2,125.2L594.2,125.15L595.2,125.1L596.2,125.03L597.2,124.96L598.2,124.88L599.2,124.79L600.2,124.69L601.2,124.57L602.2,124.42L603.2,124.26L604.2,124.06L605.2,123.84L606.2,123.57L607.2,123.25L608.2,122.89L609.2,122.47L610.2,121.99L611.2,121.44L612.2,120.82L613.2,120.13L614.2,119.36L615.2,118.53L616.2,117.62L617.2,116.66L618.2,115.65L619.2,114.61L620.2,113.55L621.2,112.51L622.2,111.5L623.2,110.58L624.2,109.77L625.2,109.11L626.2,108.64L627.2,108.4L628.2,108.39L629.2,108.63L630.2,109.09L631.2,109.76L632.2,110.58L633.2,111.53L634.2,112.56L635.2,113.63L636.2,114.72L637.2,115.8L638.2,116.84L639.2,117.83L640.2,118.76L641.2,119.61L642.2,120.38L643.2,121.07L644.2,121.68L645.2,122.21L646.2,122.67L647.2,123.07L648.2,123.4L649.2,123.67L650.2,123.91L651.2,124.1L652.2,124.25L653.2,124.38L654.2,124.49L655.2,124.57L656.2,124.64L657.2,124.7L658.2,124.75L659.2,124.79L660.2,124.83L661.2,124.85L662.2,124.88L663.2,124.9L664.2,124.92L665.2,124.94L666.2,124.95L667.2,124.96L668.2,124.98L669.2,124.99L670.2,124.99L671.2,125L672.2,125.01L673.2,125.01L674.2,125.02L675.2,125.02L676.2,125.03L677.2,125.03L678.2,125.03L679.2,125.04L680.2,125.04L681.2,125.04L681.5,125.04" fill="none" stroke="#ea3a44" stroke-width="1.1"/>
<path d="M519.2,128.08L520.2,128.07L521.2,128.07L522.2,128.06L523.2,128.05L524.2,128.04L525.2,128.04L526.2,128.03L527.2,128.02L528.2,128.01L529.2,128.01L530.2,128L531.2,127.99L532.2,127.98L533.2,127.98L534.2,127.97L535.2,127.96L536.2,127.95L537.2,127.95L538.2,127.94L539.2,127.93L540.2,127.92L541.2,127.92L542.2,127.91L543.2,127.9L544.2,127.89L545.2,127.89L546.2,127.88L547.2,127.87L548.2,127.86L549.2,127.86L550.2,127.85L551.2,127.84L552.2,127.83L553.2,127.83L554.2,127.82L555.2,127.81L556.2,127.8L557.2,127.8L558.2,127.79L559.2,127.78L560.2,127.77L561.2,127.77L562.2,127.76L563.2,127.75L564.2,127.74L565.2,127.74L566.2,127.73L567.2,127.72L568.2,127.71L569.2,127.71L570.2,127.7L571.2,127.69L572.2,127.68L573.2,127.68L574.2,127.67L575.2,127.66L576.2,127.65L577.2,127.65L578.2,127.64L579.2,127.63L580.2,127.62L581.2,127.62L582.2,127.61L583.2,127.6L584.2,127.59L585.2,127.59L586.2,127.58L587.2,127.57L588.2,127.56L589.2,127.56L590.2,127.55L591.2,127.54L592.2,127.53L593.2,127.53L594.2,127.52L595.2,127.51L596.2,127.5L597.2,127.5L598.2,127.49L599.2,127.48L600.2,127.47L601.2,127.47L602.2,127.46L603.2,127.45L604.2,127.44L605.2,127.44L606.2,127.43L607.2,127.42L608.2,127.41L609.2,127.41L610.2,127.4L611.2,127.39L612.2,127.38L613.2,127.38L614.2,127.37L615.2,127.36L616.2,127.35L617.2,127.34L618.2,127.34L619.2,127.33L620.2,127.32L621.2,127.3L622.2,127.29L623.2,127.26L624.2,127.23L625.2,127.19L626.2,127.13L627.2,127.04L628.2,126.93L629.2,126.77L630.2,126.58L631.2,126.32L632.2,126.01L633.2,125.65L634.2,125.22L635.2,124.75L636.2,124.24L637.2,123.73L638.2,123.22L639.2,122.76L640.2,122.37L641.2,122.08L642.2,121.9L643.2,121.85L644.2,121.96L645.2,122.2L646.2,122.58L647.2,123.04L648.2,123.57L649.2,124.11L650.2,124.65L651.2,125.14L652.2,125.58L653.2,125.95L654.2,126.25L655.2,126.48L656.2,126.66L657.2,126.78L658.2,126.87L659.2,126.92L660.2,126.96L661.2,126.98L662.2,126.99L663.2,126.99L664.2,126.99L665.2,126.98L666.2,126.98L667.2,126.97L668.2,126.96L669.2,126.96L670.2,126.95L671.2,126.94L672.2,126.93L673.2,126.93L674.2,126.92L675.2,126.91L676.2,126.9L677.2,126.9L678.2,126.89L679.2,126.88L680.2,126.87L681.2,126.87L681.5,126.86L681.5,126.86L681.2,126.87L680.2,126.87L679.2,126.88L678.2,126.89L677.2,126.9L676.2,126.9L675.2,126.91L674.2,126.92L673.2,126.93L672.2,126.93L671.2,126.94L670.2,126.95L669.2,126.96L668.2,126.96L667.2,126.97L666.2,126.98L665.2,126.99L664.2,126.99L663.2,127L662.2,127.01L661.2,127.02L660.2,127.02L659.2,127.03L658.2,127.04L657.2,127.05L656.2,127.05L655.2,127.06L654.2,127.07L653.2,127.08L652.2,127.08L651.2,127.09L650.2,127.1L649.2,127.11L648.2,127.11L647.2,127.12L646.2,127.13L645.2,127.14L644.2,127.14L643.2,127.15L642.2,127.16L641.2,127.17L640.2,127.17L639.2,127.18L638.2,127.19L637.2,127.2L636.2,127.2L635.2,127.21L634.2,127.22L633.2,127.23L632.2,127.23L631.2,127.24L630.2,127.25L629.2,127.26L628.2,127.26L627.2,127.27L626.2,127.28L625.2,127.29L624.2,127.29L623.2,127.3L622.2,127.31L621.2,127.32L620.2,127.32L619.2,127.33L618.2,127.34L617.2,127.35L616.2,127.35L615.2,127.36L614.2,127.37L613.2,127.38L612.2,127.38L611.2,127.39L610.2,127.4L609.2,127.41L608.2,127.41L607.2,127.42L606.2,127.43L605.2,127.44L604.2,127.44L603.2,127.45L602.2,127.46L601.2,127.47L600.2,127.47L599.2,127.48L598.2,127.49L597.2,127.5L596.2,127.5L595.2,127.51L594.2,127.52L593.2,127.53L592.2,127.53L591.2,127.54L590.2,127.55L589.2,127.56L588.2,127.56L587.2,127.57L586.2,127.58L585.2,127.59L584.2,127.59L583.2,127.6L582.2,127.61L581.2,127.62L580.2,127.62L579.2,127.63L578.2,127.64L577.2,127.65L576.2,127.65L575.2,127.66L574.2,127.67L573.2,127.68L572.2,127.68L571.2,127.69L570.2,127.7L569.2,127.71L568.2,127.71L567.2,127.72L566.2,127.73L565.2,127.74L564.2,127.74L563.2,127.75L562.2,127.76L561.2,127.77L560.2,127.77L559.2,127.78L558.2,127.79L557.2,127.8L556.2,127.8L555.2,127.81L554.2,127.82L553.2,127.83L552.2,127.83L551.2,127.84L550.2,127.85L549.2,127.86L548.2,127.86L547.2,127.87L546.2,127.88L545.2,127.89L544.2,127.89L543.2,127.9L542.2,127.91L541.2,127.92L540.2,127.92L539.2,127.93L538.2,127.94L537.2,127.95L536.2,127.95L535.2,127.96L534.2,127.97L533.2,127.98L532.2,127.98L531.2,127.99L530.2,128L529.2,128.01L528.2,128.01L527.2,128.02L526.2,128.03L525.2,128.04L524.2,128.04L523.2,128.05L522.2,128.06L521.2,128.07L520.2,128.07L519.2,128.08Z" fill="url(#hb)"/>
<path d="M519.2,128.08L520.2,128.07L521.2,128.07L522.2,128.06L523.2,128.05L524.2,128.04L525.2,128.04L526.2,128.03L527.2,128.02L528.2,128.01L529.2,128.01L530.2,128L531.2,127.99L532.2,127.98L533.2,127.98L534.2,127.97L535.2,127.96L536.2,127.95L537.2,127.95L538.2,127.94L539.2,127.93L540.2,127.92L541.2,127.92L542.2,127.91L543.2,127.9L544.2,127.89L545.2,127.89L546.2,127.88L547.2,127.87L548.2,127.86L549.2,127.86L550.2,127.85L551.2,127.84L552.2,127.83L553.2,127.83L554.2,127.82L555.2,127.81L556.2,127.8L557.2,127.8L558.2,127.79L559.2,127.78L560.2,127.77L561.2,127.77L562.2,127.76L563.2,127.75L564.2,127.74L565.2,127.74L566.2,127.73L567.2,127.72L568.2,127.71L569.2,127.71L570.2,127.7L571.2,127.69L572.2,127.68L573.2,127.68L574.2,127.67L575.2,127.66L576.2,127.65L577.2,127.65L578.2,127.64L579.2,127.63L580.2,127.62L581.2,127.62L582.2,127.61L583.2,127.6L584.2,127.59L585.2,127.59L586.2,127.58L587.2,127.57L588.2,127.56L589.2,127.56L590.2,127.55L591.2,127.54L592.2,127.53L593.2,127.53L594.2,127.52L595.2,127.51L596.2,127.5L597.2,127.5L598.2,127.49L599.2,127.48L600.2,127.47L601.2,127.47L602.2,127.46L603.2,127.45L604.2,127.44L605.2,127.44L606.2,127.43L607.2,127.42L608.2,127.41L609.2,127.41L610.2,127.4L611.2,127.39L612.2,127.38L613.2,127.38L614.2,127.37L615.2,127.36L616.2,127.35L617.2,127.34L618.2,127.34L619.2,127.33L620.2,127.32L621.2,127.3L622.2,127.29L623.2,127.26L624.2,127.23L625.2,127.19L626.2,127.13L627.2,127.04L628.2,126.93L629.2,126.77L630.2,126.58L631.2,126.32L632.2,126.01L633.2,125.65L634.2,125.22L635.2,124.75L636.2,124.24L637.2,123.73L638.2,123.22L639.2,122.76L640.2,122.37L641.2,122.08L642.2,121.9L643.2,121.85L644.2,121.96L645.2,122.2L646.2,122.58L647.2,123.04L648.2,123.57L649.2,124.11L650.2,124.65L651.2,125.14L652.2,125.58L653.2,125.95L654.2,126.25L655.2,126.48L656.2,126.66L657.2,126.78L658.2,126.87L659.2,126.92L660.2,126.96L661.2,126.98L662.2,126.99L663.2,126.99L664.2,126.99L665.2,126.98L666.2,126.98L667.2,126.97L668.2,126.96L669.2,126.96L670.2,126.95L671.2,126.94L672.2,126.93L673.2,126.93L674.2,126.92L675.2,126.91L676.2,126.9L677.2,126.9L678.2,126.89L679.2,126.88L680.2,126.87L681.2,126.87L681.5,126.86" fill="none" stroke="#2a66e0" stroke-width="1.2"/>
<path d="M519.2,128.88L681.5,127.66" stroke="#8fb6f0" stroke-width="1.0"/>
<path d="M519.2,125C519.68,125 521.05,125 522.1,125C523.15,125 524.33,125 525.5,125C526.67,125 527.95,125.05 529.1,125C530.25,124.95 531.28,124.77 532.4,124.7C533.52,124.63 534.63,124.67 535.8,124.6C536.97,124.53 538.17,124.4 539.4,124.3C540.63,124.2 541.92,124.12 543.2,124C544.48,123.88 545.78,123.8 547.1,123.6C548.42,123.4 549.7,123.05 551.1,122.8C552.5,122.55 554.03,122.38 555.5,122.1C556.97,121.82 558.4,121.42 559.9,121.1C561.4,120.78 562.95,120.65 564.5,120.2C566.05,119.75 567.55,119.07 569.2,118.4C570.85,117.73 572.68,117.13 574.4,116.2C576.12,115.27 577.8,114.1 579.5,112.8C581.2,111.5 582.82,110 584.6,108.4C586.38,106.8 588.27,104.82 590.2,103.2C592.13,101.58 594.2,99.77 596.2,98.7C598.2,97.63 600.15,97.08 602.2,96.8C604.25,96.52 606.35,96.92 608.5,97C610.65,97.08 612.87,97.48 615.1,97.3C617.33,97.12 619.6,95.95 621.9,95.9C624.2,95.85 626.42,95.92 628.9,97C631.38,98.08 634.2,100.35 636.8,102.4C639.4,104.45 641.75,106.92 644.5,109.3C647.25,111.68 650.42,114.33 653.3,116.7C656.18,119.07 658.8,122.05 661.8,123.5C664.8,124.95 668.02,125.22 671.3,125.4C674.58,125.58 679.8,124.73 681.5,124.6" fill="none" stroke="#33ad6a" stroke-width="1.9"/>
<circle cx="522.1" cy="125" r="2.05" fill="#fff" stroke="#e6c880" stroke-width="1.0"/>
<circle cx="525.5" cy="125" r="2.05" fill="#fff" stroke="#e6c880" stroke-width="1.0"/>
<circle cx="529.1" cy="125" r="2.05" fill="#fff" stroke="#e6c880" stroke-width="1.0"/>
<circle cx="532.4" cy="124.7" r="2.05" fill="#fff" stroke="#e6c880" stroke-width="1.0"/>
<circle cx="535.8" cy="124.6" r="2.05" fill="#fff" stroke="#e6c880" stroke-width="1.0"/>
<circle cx="539.4" cy="124.3" r="2.05" fill="#fff" stroke="#e6c880" stroke-width="1.0"/>
<circle cx="543.2" cy="124" r="2.05" fill="#fff" stroke="#e6c880" stroke-width="1.0"/>
<circle cx="547.1" cy="123.6" r="2.05" fill="#fff" stroke="#e6c880" stroke-width="1.0"/>
<circle cx="551.1" cy="122.8" r="2.05" fill="#fff" stroke="#e6c880" stroke-width="1.0"/>
<circle cx="555.5" cy="122.1" r="2.05" fill="#fff" stroke="#e6c880" stroke-width="1.0"/>
<circle cx="559.9" cy="121.1" r="2.05" fill="#fff" stroke="#e6c880" stroke-width="1.0"/>
<circle cx="564.5" cy="120.2" r="2.05" fill="#fff" stroke="#e6c880" stroke-width="1.0"/>
<circle cx="569.2" cy="118.4" r="2.05" fill="#fff" stroke="#e6c880" stroke-width="1.0"/>
<circle cx="574.4" cy="116.2" r="2.05" fill="#fff" stroke="#e6c880" stroke-width="1.0"/>
<circle cx="579.5" cy="112.8" r="2.05" fill="#fff" stroke="#e6c880" stroke-width="1.0"/>
<circle cx="584.6" cy="108.4" r="2.05" fill="#fff" stroke="#e6c880" stroke-width="1.0"/>
<circle cx="590.2" cy="103.2" r="2.05" fill="#fff" stroke="#e6c880" stroke-width="1.0"/>
<circle cx="596.2" cy="98.7" r="2.05" fill="#fff" stroke="#e6c880" stroke-width="1.0"/>
<circle cx="602.2" cy="96.8" r="2.05" fill="#fff" stroke="#e6c880" stroke-width="1.0"/>
<circle cx="608.5" cy="97" r="2.05" fill="#fff" stroke="#e6c880" stroke-width="1.0"/>
<circle cx="615.1" cy="97.3" r="2.05" fill="#fff" stroke="#e6c880" stroke-width="1.0"/>
<circle cx="621.9" cy="95.9" r="2.05" fill="#fff" stroke="#e6c880" stroke-width="1.0"/>
<circle cx="628.9" cy="97" r="2.05" fill="#fff" stroke="#e6c880" stroke-width="1.0"/>
<circle cx="636.8" cy="102.4" r="2.05" fill="#fff" stroke="#e6c880" stroke-width="1.0"/>
<circle cx="644.5" cy="109.3" r="2.05" fill="#fff" stroke="#e6c880" stroke-width="1.0"/>
<circle cx="653.3" cy="116.7" r="2.05" fill="#fff" stroke="#e6c880" stroke-width="1.0"/>
<circle cx="661.8" cy="123.5" r="2.05" fill="#fff" stroke="#e6c880" stroke-width="1.0"/>
<circle cx="671.3" cy="125.4" r="2.05" fill="#fff" stroke="#e6c880" stroke-width="1.0"/>
<circle cx="680.8" cy="123.5" r="2.05" fill="#fff" stroke="#e6c880" stroke-width="1.0"/>
</g>
<text x="518.2" y="104.4" font-size="11.2" font-family="Liberation Sans, sans-serif" fill="#151515">Fresh</text>
</g>
<g>
<clipPath id="cp3"><rect x="517.5" y="131.6" width="166.7" height="41.2"/></clipPath>
<g clip-path="url(#cp3)">
<path d="M520.5,134.6H681.2" stroke="#d6c6ef" stroke-width="0.6" stroke-dasharray="0.9,1.3"/>
<path d="M520,166.71L521,166.7L522,166.69L523,166.68L524,166.66L525,166.65L526,166.64L527,166.63L528,166.61L529,166.6L530,166.59L531,166.57L532,166.56L533,166.54L534,166.53L535,166.51L536,166.5L537,166.48L538,166.46L539,166.44L540,166.42L541,166.4L542,166.38L543,166.35L544,166.32L545,166.29L546,166.26L547,166.22L548,166.18L549,166.13L550,166.08L551,166.02L552,165.95L553,165.88L554,165.8L555,165.7L556,165.59L557,165.47L558,165.33L559,165.18L560,165.01L561,164.82L562,164.6L563,164.36L564,164.1L565,163.8L566,163.48L567,163.12L568,162.74L569,162.31L570,161.85L571,161.35L572,160.82L573,160.24L574,159.63L575,158.97L576,158.28L577,157.55L578,156.79L579,155.99L580,155.16L581,154.31L582,153.44L583,152.54L584,151.64L585,150.73L586,149.82L587,148.91L588,148.02L589,147.15L590,146.3L591,145.5L592,144.73L593,144.03L594,143.38L595,142.79L596,142.29L597,141.86L598,141.52L599,141.28L600,141.12L601,141.07L602,141.12L603,141.29L604,141.57L605,141.95L606,142.44L607,143.01L608,143.66L609,144.37L610,145.14L611,145.94L612,146.79L613,147.65L614,148.52L615,149.41L616,150.28L617,151.15L618,152.01L619,152.84L620,153.66L621,154.44L622,155.2L623,155.92L624,156.61L625,157.26L626,157.88L627,158.47L628,159.01L629,159.53L630,160L631,160.45L632,160.86L633,161.23L634,161.58L635,161.9L636,162.19L637,162.46L638,162.7L639,162.92L640,163.12L641,163.3L642,163.46L643,163.61L644,163.74L645,163.86L646,163.97L647,164.07L648,164.16L649,164.24L650,164.31L651,164.38L652,164.44L653,164.49L654,164.54L655,164.59L656,164.63L657,164.66L658,164.7L659,164.73L660,164.76L661,164.79L662,164.81L663,164.84L664,164.86L665,164.88L666,164.9L667,164.92L668,164.93L669,164.95L670,164.96L671,164.98L672,164.99L673,165L674,165.01L675,165.02L676,165.03L677,165.04L678,165.05L679,165.06L680,165.06L681,165.07L682,165.08L683,165.08L684,165.09L684.2,165.09L684.2,166.34L684,166.34L683,166.35L682,166.36L681,166.37L680,166.38L679,166.38L678,166.39L677,166.4L676,166.41L675,166.41L674,166.42L673,166.43L672,166.44L671,166.44L670,166.45L669,166.46L668,166.47L667,166.47L666,166.48L665,166.49L664,166.5L663,166.5L662,166.51L661,166.52L660,166.53L659,166.53L658,166.54L657,166.55L656,166.56L655,166.56L654,166.57L653,166.58L652,166.59L651,166.59L650,166.6L649,166.61L648,166.61L647,166.62L646,166.63L645,166.64L644,166.64L643,166.65L642,166.66L641,166.67L640,166.67L639,166.68L638,166.69L637,166.7L636,166.7L635,166.71L634,166.72L633,166.73L632,166.73L631,166.74L630,166.75L629,166.76L628,166.76L627,166.77L626,166.78L625,166.79L624,166.79L623,166.8L622,166.81L621,166.82L620,166.82L619,166.83L618,166.84L617,166.85L616,166.85L615,166.86L614,166.87L613,166.88L612,166.88L611,166.89L610,166.9L609,166.91L608,166.91L607,166.92L606,166.93L605,166.94L604,166.94L603,166.95L602,166.96L601,166.97L600,166.97L599,166.98L598,166.99L597,167L596,167L595,167.01L594,167.02L593,167.03L592,167.03L591,167.04L590,167.05L589,167.06L588,167.06L587,167.07L586,167.08L585,167.09L584,167.09L583,167.1L582,167.11L581,167.12L580,167.12L579,167.13L578,167.14L577,167.15L576,167.16L575,167.16L574,167.17L573,167.18L572,167.19L571,167.19L570,167.2L569,167.21L568,167.22L567,167.22L566,167.23L565,167.24L564,167.25L563,167.25L562,167.26L561,167.27L560,167.28L559,167.28L558,167.29L557,167.3L556,167.31L555,167.31L554,167.32L553,167.33L552,167.34L551,167.34L550,167.35L549,167.36L548,167.36L547,167.37L546,167.38L545,167.39L544,167.39L543,167.4L542,167.41L541,167.42L540,167.42L539,167.43L538,167.44L537,167.45L536,167.45L535,167.46L534,167.47L533,167.48L532,167.48L531,167.49L530,167.5L529,167.51L528,167.51L527,167.52L526,167.53L525,167.54L524,167.54L523,167.55L522,167.56L521,167.57L520,167.57Z" fill="url(#hg)"/>
<path d="M520,166.71L521,166.7L522,166.69L523,166.68L524,166.66L525,166.65L526,166.64L527,166.63L528,166.61L529,166.6L530,166.59L531,166.57L532,166.56L533,166.54L534,166.53L535,166.51L536,166.5L537,166.48L538,166.46L539,166.44L540,166.42L541,166.4L542,166.38L543,166.35L544,166.32L545,166.29L546,166.26L547,166.22L548,166.18L549,166.13L550,166.08L551,166.02L552,165.95L553,165.88L554,165.8L555,165.7L556,165.59L557,165.47L558,165.33L559,165.18L560,165.01L561,164.82L562,164.6L563,164.36L564,164.1L565,163.8L566,163.48L567,163.12L568,162.74L569,162.31L570,161.85L571,161.35L572,160.82L573,160.24L574,159.63L575,158.97L576,158.28L577,157.55L578,156.79L579,155.99L580,155.16L581,154.31L582,153.44L583,152.54L584,151.64L585,150.73L586,149.82L587,148.91L588,148.02L589,147.15L590,146.3L591,145.5L592,144.73L593,144.03L594,143.38L595,142.79L596,142.29L597,141.86L598,141.52L599,141.28L600,141.12L601,141.07L602,141.12L603,141.29L604,141.57L605,141.95L606,142.44L607,143.01L608,143.66L609,144.37L610,145.14L611,145.94L612,146.79L613,147.65L614,148.52L615,149.41L616,150.28L617,151.15L618,152.01L619,152.84L620,153.66L621,154.44L622,155.2L623,155.92L624,156.61L625,157.26L626,157.88L627,158.47L628,159.01L629,159.53L630,160L631,160.45L632,160.86L633,161.23L634,161.58L635,161.9L636,162.19L637,162.46L638,162.7L639,162.92L640,163.12L641,163.3L642,163.46L643,163.61L644,163.74L645,163.86L646,163.97L647,164.07L648,164.16L649,164.24L650,164.31L651,164.38L652,164.44L653,164.49L654,164.54L655,164.59L656,164.63L657,164.66L658,164.7L659,164.73L660,164.76L661,164.79L662,164.81L663,164.84L664,164.86L665,164.88L666,164.9L667,164.92L668,164.93L669,164.95L670,164.96L671,164.98L672,164.99L673,165L674,165.01L675,165.02L676,165.03L677,165.04L678,165.05L679,165.06L680,165.06L681,165.07L682,165.08L683,165.08L684,165.09L684.2,165.09" fill="none" stroke="#4a4a4a" stroke-width="1.0"/>
<path d="M520,167.33L521,167.32L522,167.31L523,167.3L524,167.3L525,167.29L526,167.28L527,167.27L528,167.26L529,167.25L530,167.24L531,167.24L532,167.23L533,167.22L534,167.21L535,167.2L536,167.19L537,167.18L538,167.17L539,167.17L540,167.16L541,167.15L542,167.14L543,167.13L544,167.12L545,167.11L546,167.1L547,167.09L548,167.08L549,167.07L550,167.06L551,167.05L552,167.04L553,167.03L554,167.02L555,167.01L556,167L557,166.99L558,166.98L559,166.97L560,166.96L561,166.95L562,166.94L563,166.92L564,166.91L565,166.9L566,166.89L567,166.88L568,166.86L569,166.85L570,166.84L571,166.82L572,166.81L573,166.8L574,166.78L575,166.77L576,166.75L577,166.74L578,166.72L579,166.7L580,166.69L581,166.67L582,166.65L583,166.63L584,166.61L585,166.59L586,166.57L587,166.54L588,166.52L589,166.49L590,166.46L591,166.43L592,166.4L593,166.37L594,166.33L595,166.29L596,166.24L597,166.19L598,166.13L599,166.06L600,165.98L601,165.89L602,165.78L603,165.65L604,165.49L605,165.31L606,165.08L607,164.82L608,164.51L609,164.15L610,163.73L611,163.25L612,162.71L613,162.11L614,161.45L615,160.74L616,159.98L617,159.2L618,158.4L619,157.62L620,156.88L621,156.21L622,155.66L623,155.26L624,155.03L625,155.01L626,155.25L627,155.73L628,156.41L629,157.24L630,158.16L631,159.11L632,160.06L633,160.98L634,161.82L635,162.59L636,163.26L637,163.84L638,164.32L639,164.72L640,165.04L641,165.3L642,165.5L643,165.65L644,165.77L645,165.86L646,165.93L647,165.98L648,166.01L649,166.04L650,166.07L651,166.09L652,166.1L653,166.11L654,166.12L655,166.13L656,166.14L657,166.14L658,166.15L659,166.15L660,166.15L661,166.15L662,166.15L663,166.15L664,166.15L665,166.15L666,166.15L667,166.15L668,166.15L669,166.14L670,166.14L671,166.14L672,166.14L673,166.13L674,166.13L675,166.12L676,166.12L677,166.12L678,166.11L679,166.11L680,166.1L681,166.1L682,166.09L683,166.09L684,166.08L684.2,166.08L684.2,166.64L684,166.65L683,166.65L682,166.66L681,166.67L680,166.68L679,166.68L678,166.69L677,166.7L676,166.71L675,166.71L674,166.72L673,166.73L672,166.74L671,166.74L670,166.75L669,166.76L668,166.77L667,166.77L666,166.78L665,166.79L664,166.8L663,166.8L662,166.81L661,166.82L660,166.83L659,166.83L658,166.84L657,166.85L656,166.86L655,166.86L654,166.87L653,166.88L652,166.89L651,166.89L650,166.9L649,166.91L648,166.91L647,166.92L646,166.93L645,166.94L644,166.94L643,166.95L642,166.96L641,166.97L640,166.97L639,166.98L638,166.99L637,167L636,167L635,167.01L634,167.02L633,167.03L632,167.03L631,167.04L630,167.05L629,167.06L628,167.06L627,167.07L626,167.08L625,167.09L624,167.09L623,167.1L622,167.11L621,167.12L620,167.12L619,167.13L618,167.14L617,167.15L616,167.16L615,167.16L614,167.17L613,167.18L612,167.19L611,167.19L610,167.2L609,167.21L608,167.22L607,167.22L606,167.23L605,167.24L604,167.25L603,167.25L602,167.26L601,167.27L600,167.28L599,167.28L598,167.29L597,167.3L596,167.31L595,167.31L594,167.32L593,167.33L592,167.34L591,167.34L590,167.35L589,167.36L588,167.37L587,167.37L586,167.38L585,167.39L584,167.4L583,167.4L582,167.41L581,167.42L580,167.43L579,167.43L578,167.44L577,167.45L576,167.46L575,167.46L574,167.47L573,167.48L572,167.49L571,167.49L570,167.5L569,167.51L568,167.52L567,167.52L566,167.53L565,167.54L564,167.55L563,167.55L562,167.56L561,167.57L560,167.58L559,167.58L558,167.59L557,167.6L556,167.61L555,167.61L554,167.62L553,167.63L552,167.64L551,167.64L550,167.65L549,167.66L548,167.66L547,167.67L546,167.68L545,167.69L544,167.69L543,167.7L542,167.71L541,167.72L540,167.72L539,167.73L538,167.74L537,167.75L536,167.75L535,167.76L534,167.77L533,167.78L532,167.78L531,167.79L530,167.8L529,167.81L528,167.81L527,167.82L526,167.83L525,167.84L524,167.84L523,167.85L522,167.86L521,167.87L520,167.88Z" fill="url(#hr)"/>
<path d="M520,167.33L521,167.32L522,167.31L523,167.3L524,167.3L525,167.29L526,167.28L527,167.27L528,167.26L529,167.25L530,167.24L531,167.24L532,167.23L533,167.22L534,167.21L535,167.2L536,167.19L537,167.18L538,167.17L539,167.17L540,167.16L541,167.15L542,167.14L543,167.13L544,167.12L545,167.11L546,167.1L547,167.09L548,167.08L549,167.07L550,167.06L551,167.05L552,167.04L553,167.03L554,167.02L555,167.01L556,167L557,166.99L558,166.98L559,166.97L560,166.96L561,166.95L562,166.94L563,166.92L564,166.91L565,166.9L566,166.89L567,166.88L568,166.86L569,166.85L570,166.84L571,166.82L572,166.81L573,166.8L574,166.78L575,166.77L576,166.75L577,166.74L578,166.72L579,166.7L580,166.69L581,166.67L582,166.65L583,166.63L584,166.61L585,166.59L586,166.57L587,166.54L588,166.52L589,166.49L590,166.46L591,166.43L592,166.4L593,166.37L594,166.33L595,166.29L596,166.24L597,166.19L598,166.13L599,166.06L600,165.98L601,165.89L602,165.78L603,165.65L604,165.49L605,165.31L606,165.08L607,164.82L608,164.51L609,164.15L610,163.73L611,163.25L612,162.71L613,162.11L614,161.45L615,160.74L616,159.98L617,159.2L618,158.4L619,157.62L620,156.88L621,156.21L622,155.66L623,155.26L624,155.03L625,155.01L626,155.25L627,155.73L628,156.41L629,157.24L630,158.16L631,159.11L632,160.06L633,160.98L634,161.82L635,162.59L636,163.26L637,163.84L638,164.32L639,164.72L640,165.04L641,165.3L642,165.5L643,165.65L644,165.77L645,165.86L646,165.93L647,165.98L648,166.01L649,166.04L650,166.07L651,166.09L652,166.1L653,166.11L654,166.12L655,166.13L656,166.14L657,166.14L658,166.15L659,166.15L660,166.15L661,166.15L662,166.15L663,166.15L664,166.15L665,166.15L666,166.15L667,166.15L668,166.15L669,166.14L670,166.14L671,166.14L672,166.14L673,166.13L674,166.13L675,166.12L676,166.12L677,166.12L678,166.11L679,166.11L680,166.1L681,166.1L682,166.09L683,166.09L684,166.08L684.2,166.08" fill="none" stroke="#ea3a44" stroke-width="1.1"/>
<path d="M520,168.67L521,168.66L522,168.65L523,168.65L524,168.64L525,168.63L526,168.62L527,168.62L528,168.61L529,168.6L530,168.59L531,168.59L532,168.58L533,168.57L534,168.56L535,168.56L536,168.55L537,168.54L538,168.53L539,168.53L540,168.52L541,168.51L542,168.5L543,168.49L544,168.49L545,168.48L546,168.47L547,168.46L548,168.46L549,168.45L550,168.44L551,168.43L552,168.43L553,168.42L554,168.41L555,168.4L556,168.39L557,168.39L558,168.38L559,168.37L560,168.36L561,168.36L562,168.35L563,168.34L564,168.33L565,168.32L566,168.32L567,168.31L568,168.3L569,168.29L570,168.28L571,168.28L572,168.27L573,168.26L574,168.25L575,168.24L576,168.24L577,168.23L578,168.22L579,168.21L580,168.2L581,168.2L582,168.19L583,168.18L584,168.17L585,168.16L586,168.15L587,168.15L588,168.14L589,168.13L590,168.12L591,168.11L592,168.1L593,168.09L594,168.08L595,168.07L596,168.07L597,168.06L598,168.05L599,168.04L600,168.03L601,168.02L602,168.01L603,167.99L604,167.98L605,167.97L606,167.96L607,167.95L608,167.93L609,167.92L610,167.9L611,167.87L612,167.84L613,167.81L614,167.76L615,167.7L616,167.62L617,167.51L618,167.37L619,167.19L620,166.97L621,166.68L622,166.34L623,165.93L624,165.44L625,164.89L626,164.26L627,163.59L628,162.87L629,162.13L630,161.4L631,160.7L632,160.07L633,159.53L634,159.13L635,158.88L636,158.81L637,158.91L638,159.18L639,159.61L640,160.16L641,160.8L642,161.51L643,162.24L644,162.97L645,163.68L646,164.33L647,164.92L648,165.45L649,165.89L650,166.27L651,166.58L652,166.82L653,167.02L654,167.16L655,167.27L656,167.35L657,167.41L658,167.45L659,167.48L660,167.5L661,167.51L662,167.51L663,167.52L664,167.52L665,167.51L666,167.51L667,167.51L668,167.51L669,167.5L670,167.5L671,167.49L672,167.49L673,167.48L674,167.48L675,167.47L676,167.47L677,167.46L678,167.45L679,167.45L680,167.44L681,167.44L682,167.43L683,167.42L684,167.42L684.2,167.42L684.2,167.44L684,167.45L683,167.45L682,167.46L681,167.47L680,167.48L679,167.48L678,167.49L677,167.5L676,167.51L675,167.51L674,167.52L673,167.53L672,167.54L671,167.54L670,167.55L669,167.56L668,167.57L667,167.57L666,167.58L665,167.59L664,167.6L663,167.6L662,167.61L661,167.62L660,167.63L659,167.63L658,167.64L657,167.65L656,167.66L655,167.66L654,167.67L653,167.68L652,167.69L651,167.69L650,167.7L649,167.71L648,167.72L647,167.72L646,167.73L645,167.74L644,167.75L643,167.75L642,167.76L641,167.77L640,167.78L639,167.78L638,167.79L637,167.8L636,167.81L635,167.81L634,167.82L633,167.83L632,167.84L631,167.84L630,167.85L629,167.86L628,167.87L627,167.87L626,167.88L625,167.89L624,167.9L623,167.9L622,167.91L621,167.92L620,167.93L619,167.93L618,167.94L617,167.95L616,167.96L615,167.96L614,167.97L613,167.98L612,167.99L611,167.99L610,168L609,168.01L608,168.02L607,168.02L606,168.03L605,168.04L604,168.05L603,168.05L602,168.06L601,168.07L600,168.08L599,168.08L598,168.09L597,168.1L596,168.11L595,168.11L594,168.12L593,168.13L592,168.14L591,168.14L590,168.15L589,168.16L588,168.17L587,168.17L586,168.18L585,168.19L584,168.2L583,168.2L582,168.21L581,168.22L580,168.23L579,168.23L578,168.24L577,168.25L576,168.26L575,168.26L574,168.27L573,168.28L572,168.29L571,168.29L570,168.3L569,168.31L568,168.32L567,168.32L566,168.33L565,168.34L564,168.35L563,168.35L562,168.36L561,168.37L560,168.38L559,168.38L558,168.39L557,168.4L556,168.41L555,168.41L554,168.42L553,168.43L552,168.44L551,168.44L550,168.45L549,168.46L548,168.47L547,168.47L546,168.48L545,168.49L544,168.5L543,168.5L542,168.51L541,168.52L540,168.53L539,168.53L538,168.54L537,168.55L536,168.56L535,168.56L534,168.57L533,168.58L532,168.59L531,168.59L530,168.6L529,168.61L528,168.62L527,168.62L526,168.63L525,168.64L524,168.65L523,168.65L522,168.66L521,168.67L520,168.68Z" fill="url(#hb)"/>
<path d="M520,168.67L521,168.66L522,168.65L523,168.65L524,168.64L525,168.63L526,168.62L527,168.62L528,168.61L529,168.6L530,168.59L531,168.59L532,168.58L533,168.57L534,168.56L535,168.56L536,168.55L537,168.54L538,168.53L539,168.53L540,168.52L541,168.51L542,168.5L543,168.49L544,168.49L545,168.48L546,168.47L547,168.46L548,168.46L549,168.45L550,168.44L551,168.43L552,168.43L553,168.42L554,168.41L555,168.4L556,168.39L557,168.39L558,168.38L559,168.37L560,168.36L561,168.36L562,168.35L563,168.34L564,168.33L565,168.32L566,168.32L567,168.31L568,168.3L569,168.29L570,168.28L571,168.28L572,168.27L573,168.26L574,168.25L575,168.24L576,168.24L577,168.23L578,168.22L579,168.21L580,168.2L581,168.2L582,168.19L583,168.18L584,168.17L585,168.16L586,168.15L587,168.15L588,168.14L589,168.13L590,168.12L591,168.11L592,168.1L593,168.09L594,168.08L595,168.07L596,168.07L597,168.06L598,168.05L599,168.04L600,168.03L601,168.02L602,168.01L603,167.99L604,167.98L605,167.97L606,167.96L607,167.95L608,167.93L609,167.92L610,167.9L611,167.87L612,167.84L613,167.81L614,167.76L615,167.7L616,167.62L617,167.51L618,167.37L619,167.19L620,166.97L621,166.68L622,166.34L623,165.93L624,165.44L625,164.89L626,164.26L627,163.59L628,162.87L629,162.13L630,161.4L631,160.7L632,160.07L633,159.53L634,159.13L635,158.88L636,158.81L637,158.91L638,159.18L639,159.61L640,160.16L641,160.8L642,161.51L643,162.24L644,162.97L645,163.68L646,164.33L647,164.92L648,165.45L649,165.89L650,166.27L651,166.58L652,166.82L653,167.02L654,167.16L655,167.27L656,167.35L657,167.41L658,167.45L659,167.48L660,167.5L661,167.51L662,167.51L663,167.52L664,167.52L665,167.51L666,167.51L667,167.51L668,167.51L669,167.5L670,167.5L671,167.49L672,167.49L673,167.48L674,167.48L675,167.47L676,167.47L677,167.46L678,167.45L679,167.45L680,167.44L681,167.44L682,167.43L683,167.42L684,167.42L684.2,167.42" fill="none" stroke="#2a66e0" stroke-width="1.2"/>
<path d="M520,169.47L684.2,168.24" stroke="#8fb6f0" stroke-width="1.0"/>
<path d="M520,166.5C520.48,166.5 521.85,166.53 522.9,166.5C523.95,166.47 525.13,166.35 526.3,166.3C527.47,166.25 528.7,166.25 529.9,166.2C531.1,166.15 532.3,166.08 533.5,166C534.7,165.92 535.93,165.82 537.1,165.7C538.27,165.58 539.27,165.42 540.5,165.3C541.73,165.18 543.2,165.12 544.5,165C545.8,164.88 547,164.75 548.3,164.6C549.6,164.45 550.9,164.35 552.3,164.1C553.7,163.85 555.18,163.43 556.7,163.1C558.22,162.77 559.88,162.42 561.4,162.1C562.92,161.78 564.25,161.65 565.8,161.2C567.35,160.75 569.08,160.07 570.7,159.4C572.32,158.73 573.87,158.13 575.5,157.2C577.13,156.27 578.73,155.15 580.5,153.8C582.27,152.45 584.23,150.73 586.1,149.1C587.97,147.47 589.78,145.67 591.7,144C593.62,142.33 595.68,140.2 597.6,139.1C599.52,138 601.13,137.65 603.2,137.4C605.27,137.15 607.78,137.48 610,137.6C612.22,137.72 614.25,138.02 616.5,138.1C618.75,138.18 621.15,137.73 623.5,138.1C625.85,138.47 628.1,138.83 630.6,140.3C633.1,141.77 635.85,144.33 638.5,146.9C641.15,149.47 643.73,153.25 646.5,155.7C649.27,158.15 652.23,160.05 655.1,161.6C657.97,163.15 660.68,164.33 663.7,165C666.72,165.67 669.85,165.48 673.2,165.6C676.55,165.72 682.03,165.68 683.8,165.7" fill="none" stroke="#33ad6a" stroke-width="1.9"/>
<circle cx="522.9" cy="166.5" r="2.05" fill="#fff" stroke="#e6c880" stroke-width="1.0"/>
<circle cx="526.3" cy="166.3" r="2.05" fill="#fff" stroke="#e6c880" stroke-width="1.0"/>
<circle cx="529.9" cy="166.2" r="2.05" fill="#fff" stroke="#e6c880" stroke-width="1.0"/>
<circle cx="533.5" cy="166" r="2.05" fill="#fff" stroke="#e6c880" stroke-width="1.0"/>
<circle cx="537.1" cy="165.7" r="2.05" fill="#fff" stroke="#e6c880" stroke-width="1.0"/>
<circle cx="540.5" cy="165.3" r="2.05" fill="#fff" stroke="#e6c880" stroke-width="1.0"/>
<circle cx="544.5" cy="165" r="2.05" fill="#fff" stroke="#e6c880" stroke-width="1.0"/>
<circle cx="548.3" cy="164.6" r="2.05" fill="#fff" stroke="#e6c880" stroke-width="1.0"/>
<circle cx="552.3" cy="164.1" r="2.05" fill="#fff" stroke="#e6c880" stroke-width="1.0"/>
<circle cx="556.7" cy="163.1" r="2.05" fill="#fff" stroke="#e6c880" stroke-width="1.0"/>
<circle cx="561.4" cy="162.1" r="2.05" fill="#fff" stroke="#e6c880" stroke-width="1.0"/>
<circle cx="565.8" cy="161.2" r="2.05" fill="#fff" stroke="#e6c880" stroke-width="1.0"/>
<circle cx="570.7" cy="159.4" r="2.05" fill="#fff" stroke="#e6c880" stroke-width="1.0"/>
<circle cx="575.5" cy="157.2" r="2.05" fill="#fff" stroke="#e6c880" stroke-width="1.0"/>
<circle cx="580.5" cy="153.8" r="2.05" fill="#fff" stroke="#e6c880" stroke-width="1.0"/>
<circle cx="586.1" cy="149.1" r="2.05" fill="#fff" stroke="#e6c880" stroke-width="1.0"/>
<circle cx="591.7" cy="144" r="2.05" fill="#fff" stroke="#e6c880" stroke-width="1.0"/>
<circle cx="597.6" cy="139.1" r="2.05" fill="#fff" stroke="#e6c880" stroke-width="1.0"/>
<circle cx="603.2" cy="137.4" r="2.05" fill="#fff" stroke="#e6c880" stroke-width="1.0"/>
<circle cx="610" cy="137.6" r="2.05" fill="#fff" stroke="#e6c880" stroke-width="1.0"/>
<circle cx="616.5" cy="138.1" r="2.05" fill="#fff" stroke="#e6c880" stroke-width="1.0"/>
<circle cx="623.5" cy="138.1" r="2.05" fill="#fff" stroke="#e6c880" stroke-width="1.0"/>
<circle cx="630.6" cy="140.3" r="2.05" fill="#fff" stroke="#e6c880" stroke-width="1.0"/>
<circle cx="638.5" cy="146.9" r="2.05" fill="#fff" stroke="#e6c880" stroke-width="1.0"/>
<circle cx="646.5" cy="155.7" r="2.05" fill="#fff" stroke="#e6c880" stroke-width="1.0"/>
<circle cx="655.1" cy="161.6" r="2.05" fill="#fff" stroke="#e6c880" stroke-width="1.0"/>
<circle cx="663.7" cy="165" r="2.05" fill="#fff" stroke="#e6c880" stroke-width="1.0"/>
<circle cx="673.2" cy="165.6" r="2.05" fill="#fff" stroke="#e6c880" stroke-width="1.0"/>
<circle cx="683.1" cy="165.3" r="2.05" fill="#fff" stroke="#e6c880" stroke-width="1.0"/>
</g>
<text x="518.6" y="145.6" font-size="11.2" font-family="Liberation Sans, sans-serif" fill="#151515">Aged</text>
</g>
<g>
<clipPath id="cp4"><rect x="517.5" y="172.8" width="166.7" height="41.2"/></clipPath>
<g clip-path="url(#cp4)">
<path d="M520.5,175.8H681.2" stroke="#d6c6ef" stroke-width="0.6" stroke-dasharray="0.9,1.3"/>
<path d="M520,207.76L521,207.75L522,207.74L523,207.73L524,207.71L525,207.7L526,207.69L527,207.67L528,207.66L529,207.64L530,207.63L531,207.62L532,207.6L533,207.58L534,207.57L535,207.55L536,207.53L537,207.52L538,207.5L539,207.48L540,207.46L541,207.44L542,207.41L543,207.39L544,207.36L545,207.33L546,207.3L547,207.27L548,207.23L549,207.19L550,207.15L551,207.1L552,207.05L553,206.99L554,206.93L555,206.86L556,206.78L557,206.69L558,206.59L559,206.48L560,206.36L561,206.23L562,206.08L563,205.92L564,205.74L565,205.54L566,205.32L567,205.08L568,204.82L569,204.54L570,204.23L571,203.9L572,203.54L573,203.16L574,202.75L575,202.31L576,201.84L577,201.35L578,200.83L579,200.29L580,199.72L581,199.13L582,198.52L583,197.89L584,197.25L585,196.6L586,195.93L587,195.27L588,194.6L589,193.94L590,193.28L591,192.65L592,192.03L593,191.43L594,190.87L595,190.35L596,189.87L597,189.44L598,189.07L599,188.75L600,188.5L601,188.31L602,188.2L603,188.15L604,188.19L605,188.32L606,188.53L607,188.83L608,189.2L609,189.64L610,190.14L611,190.69L612,191.27L613,191.89L614,192.53L615,193.19L616,193.85L617,194.52L618,195.18L619,195.83L620,196.47L621,197.1L622,197.71L623,198.29L624,198.86L625,199.4L626,199.91L627,200.4L628,200.86L629,201.29L630,201.7L631,202.07L632,202.43L633,202.76L634,203.06L635,203.34L636,203.6L637,203.84L638,204.06L639,204.26L640,204.44L641,204.6L642,204.75L643,204.89L644,205.01L645,205.12L646,205.22L647,205.32L648,205.4L649,205.47L650,205.54L651,205.6L652,205.66L653,205.71L654,205.76L655,205.8L656,205.84L657,205.87L658,205.91L659,205.94L660,205.96L661,205.99L662,206.01L663,206.03L664,206.05L665,206.07L666,206.09L667,206.1L668,206.12L669,206.13L670,206.15L671,206.16L672,206.17L673,206.18L674,206.19L675,206.2L676,206.21L677,206.21L678,206.22L679,206.23L680,206.23L681,206.24L682,206.24L683,206.25L684,206.25L684.2,206.25L684.2,207.44L684,207.44L683,207.45L682,207.46L681,207.47L680,207.47L679,207.48L678,207.49L677,207.5L676,207.5L675,207.51L674,207.52L673,207.53L672,207.53L671,207.54L670,207.55L669,207.56L668,207.56L667,207.57L666,207.58L665,207.59L664,207.59L663,207.6L662,207.61L661,207.62L660,207.62L659,207.63L658,207.64L657,207.65L656,207.66L655,207.66L654,207.67L653,207.68L652,207.69L651,207.69L650,207.7L649,207.71L648,207.71L647,207.72L646,207.73L645,207.74L644,207.74L643,207.75L642,207.76L641,207.77L640,207.77L639,207.78L638,207.79L637,207.8L636,207.8L635,207.81L634,207.82L633,207.83L632,207.83L631,207.84L630,207.85L629,207.86L628,207.86L627,207.87L626,207.88L625,207.89L624,207.89L623,207.9L622,207.91L621,207.92L620,207.92L619,207.93L618,207.94L617,207.95L616,207.95L615,207.96L614,207.97L613,207.98L612,207.98L611,207.99L610,208L609,208.01L608,208.01L607,208.02L606,208.03L605,208.04L604,208.04L603,208.05L602,208.06L601,208.07L600,208.07L599,208.08L598,208.09L597,208.1L596,208.1L595,208.11L594,208.12L593,208.13L592,208.13L591,208.14L590,208.15L589,208.16L588,208.16L587,208.17L586,208.18L585,208.19L584,208.19L583,208.2L582,208.21L581,208.22L580,208.22L579,208.23L578,208.24L577,208.25L576,208.25L575,208.26L574,208.27L573,208.28L572,208.28L571,208.29L570,208.3L569,208.31L568,208.31L567,208.32L566,208.33L565,208.34L564,208.34L563,208.35L562,208.36L561,208.37L560,208.38L559,208.38L558,208.39L557,208.4L556,208.41L555,208.41L554,208.42L553,208.43L552,208.44L551,208.44L550,208.45L549,208.46L548,208.46L547,208.47L546,208.48L545,208.49L544,208.49L543,208.5L542,208.51L541,208.52L540,208.52L539,208.53L538,208.54L537,208.55L536,208.55L535,208.56L534,208.57L533,208.58L532,208.58L531,208.59L530,208.6L529,208.61L528,208.61L527,208.62L526,208.63L525,208.64L524,208.64L523,208.65L522,208.66L521,208.67L520,208.67Z" fill="url(#hg)"/>
<path d="M520,207.76L521,207.75L522,207.74L523,207.73L524,207.71L525,207.7L526,207.69L527,207.67L528,207.66L529,207.64L530,207.63L531,207.62L532,207.6L533,207.58L534,207.57L535,207.55L536,207.53L537,207.52L538,207.5L539,207.48L540,207.46L541,207.44L542,207.41L543,207.39L544,207.36L545,207.33L546,207.3L547,207.27L548,207.23L549,207.19L550,207.15L551,207.1L552,207.05L553,206.99L554,206.93L555,206.86L556,206.78L557,206.69L558,206.59L559,206.48L560,206.36L561,206.23L562,206.08L563,205.92L564,205.74L565,205.54L566,205.32L567,205.08L568,204.82L569,204.54L570,204.23L571,203.9L572,203.54L573,203.16L574,202.75L575,202.31L576,201.84L577,201.35L578,200.83L579,200.29L580,199.72L581,199.13L582,198.52L583,197.89L584,197.25L585,196.6L586,195.93L587,195.27L588,194.6L589,193.94L590,193.28L591,192.65L592,192.03L593,191.43L594,190.87L595,190.35L596,189.87L597,189.44L598,189.07L599,188.75L600,188.5L601,188.31L602,188.2L603,188.15L604,188.19L605,188.32L606,188.53L607,188.83L608,189.2L609,189.64L610,190.14L611,190.69L612,191.27L613,191.89L614,192.53L615,193.19L616,193.85L617,194.52L618,195.18L619,195.83L620,196.47L621,197.1L622,197.71L623,198.29L624,198.86L625,199.4L626,199.91L627,200.4L628,200.86L629,201.29L630,201.7L631,202.07L632,202.43L633,202.76L634,203.06L635,203.34L636,203.6L637,203.84L638,204.06L639,204.26L640,204.44L641,204.6L642,204.75L643,204.89L644,205.01L645,205.12L646,205.22L647,205.32L648,205.4L649,205.47L650,205.54L651,205.6L652,205.66L653,205.71L654,205.76L655,205.8L656,205.84L657,205.87L658,205.91L659,205.94L660,205.96L661,205.99L662,206.01L663,206.03L664,206.05L665,206.07L666,206.09L667,206.1L668,206.12L669,206.13L670,206.15L671,206.16L672,206.17L673,206.18L674,206.19L675,206.2L676,206.21L677,206.21L678,206.22L679,206.23L680,206.23L681,206.24L682,206.24L683,206.25L684,206.25L684.2,206.25" fill="none" stroke="#4a4a4a" stroke-width="1.0"/>
<path d="M520,208.39L521,208.38L522,208.38L523,208.37L524,208.36L525,208.35L526,208.34L527,208.33L528,208.32L529,208.31L530,208.3L531,208.29L532,208.28L533,208.27L534,208.26L535,208.25L536,208.24L537,208.23L538,208.22L539,208.21L540,208.2L541,208.19L542,208.18L543,208.17L544,208.16L545,208.15L546,208.14L547,208.13L548,208.12L549,208.11L550,208.1L551,208.08L552,208.07L553,208.06L554,208.05L555,208.04L556,208.02L557,208.01L558,208L559,207.99L560,207.97L561,207.96L562,207.95L563,207.93L564,207.92L565,207.9L566,207.89L567,207.87L568,207.86L569,207.84L570,207.83L571,207.81L572,207.79L573,207.77L574,207.76L575,207.74L576,207.72L577,207.7L578,207.68L579,207.65L580,207.63L581,207.61L582,207.58L583,207.56L584,207.53L585,207.5L586,207.47L587,207.44L588,207.41L589,207.38L590,207.34L591,207.3L592,207.26L593,207.21L594,207.16L595,207.11L596,207.05L597,206.98L598,206.9L599,206.81L600,206.71L601,206.6L602,206.46L603,206.31L604,206.12L605,205.91L606,205.66L607,205.37L608,205.03L609,204.64L610,204.19L611,203.68L612,203.1L613,202.46L614,201.75L615,200.96L616,200.12L617,199.21L618,198.25L619,197.26L620,196.24L621,195.22L622,194.22L623,193.28L624,192.42L625,191.69L626,191.12L627,190.73L628,190.57L629,190.63L630,190.9L631,191.37L632,192.01L633,192.79L634,193.68L635,194.64L636,195.64L637,196.66L638,197.68L639,198.66L640,199.6L641,200.49L642,201.32L643,202.07L644,202.76L645,203.37L646,203.91L647,204.39L648,204.8L649,205.15L650,205.45L651,205.71L652,205.92L653,206.1L654,206.24L655,206.37L656,206.47L657,206.55L658,206.62L659,206.68L660,206.73L661,206.77L662,206.8L663,206.83L664,206.85L665,206.88L666,206.89L667,206.91L668,206.93L669,206.94L670,206.95L671,206.96L672,206.97L673,206.98L674,206.98L675,206.99L676,206.99L677,207L678,207L679,207.01L680,207.01L681,207.01L682,207.01L683,207.01L684,207.01L684.2,207.01L684.2,207.74L684,207.75L683,207.75L682,207.76L681,207.77L680,207.78L679,207.78L678,207.79L677,207.8L676,207.81L675,207.81L674,207.82L673,207.83L672,207.84L671,207.84L670,207.85L669,207.86L668,207.87L667,207.87L666,207.88L665,207.89L664,207.9L663,207.9L662,207.91L661,207.92L660,207.93L659,207.93L658,207.94L657,207.95L656,207.96L655,207.96L654,207.97L653,207.98L652,207.99L651,207.99L650,208L649,208.01L648,208.01L647,208.02L646,208.03L645,208.04L644,208.04L643,208.05L642,208.06L641,208.07L640,208.07L639,208.08L638,208.09L637,208.1L636,208.1L635,208.11L634,208.12L633,208.13L632,208.13L631,208.14L630,208.15L629,208.16L628,208.16L627,208.17L626,208.18L625,208.19L624,208.19L623,208.2L622,208.21L621,208.22L620,208.22L619,208.23L618,208.24L617,208.25L616,208.25L615,208.26L614,208.27L613,208.28L612,208.28L611,208.29L610,208.3L609,208.31L608,208.31L607,208.32L606,208.33L605,208.34L604,208.34L603,208.35L602,208.36L601,208.37L600,208.38L599,208.38L598,208.39L597,208.4L596,208.41L595,208.41L594,208.42L593,208.43L592,208.44L591,208.44L590,208.45L589,208.46L588,208.47L587,208.47L586,208.48L585,208.49L584,208.5L583,208.5L582,208.51L581,208.52L580,208.53L579,208.53L578,208.54L577,208.55L576,208.56L575,208.56L574,208.57L573,208.58L572,208.59L571,208.59L570,208.6L569,208.61L568,208.62L567,208.62L566,208.63L565,208.64L564,208.65L563,208.65L562,208.66L561,208.67L560,208.68L559,208.68L558,208.69L557,208.7L556,208.71L555,208.71L554,208.72L553,208.73L552,208.74L551,208.74L550,208.75L549,208.76L548,208.76L547,208.77L546,208.78L545,208.79L544,208.79L543,208.8L542,208.81L541,208.82L540,208.82L539,208.83L538,208.84L537,208.85L536,208.85L535,208.86L534,208.87L533,208.88L532,208.88L531,208.89L530,208.9L529,208.91L528,208.91L527,208.92L526,208.93L525,208.94L524,208.94L523,208.95L522,208.96L521,208.97L520,208.97Z" fill="url(#hr)"/>
<path d="M520,208.39L521,208.38L522,208.38L523,208.37L524,208.36L525,208.35L526,208.34L527,208.33L528,208.32L529,208.31L530,208.3L531,208.29L532,208.28L533,208.27L534,208.26L535,208.25L536,208.24L537,208.23L538,208.22L539,208.21L540,208.2L541,208.19L542,208.18L543,208.17L544,208.16L545,208.15L546,208.14L547,208.13L548,208.12L549,208.11L550,208.1L551,208.08L552,208.07L553,208.06L554,208.05L555,208.04L556,208.02L557,208.01L558,208L559,207.99L560,207.97L561,207.96L562,207.95L563,207.93L564,207.92L565,207.9L566,207.89L567,207.87L568,207.86L569,207.84L570,207.83L571,207.81L572,207.79L573,207.77L574,207.76L575,207.74L576,207.72L577,207.7L578,207.68L579,207.65L580,207.63L581,207.61L582,207.58L583,207.56L584,207.53L585,207.5L586,207.47L587,207.44L588,207.41L589,207.38L590,207.34L591,207.3L592,207.26L593,207.21L594,207.16L595,207.11L596,207.05L597,206.98L598,206.9L599,206.81L600,206.71L601,206.6L602,206.46L603,206.31L604,206.12L605,205.91L606,205.66L607,205.37L608,205.03L609,204.64L610,204.19L611,203.68L612,203.1L613,202.46L614,201.75L615,200.96L616,200.12L617,199.21L618,198.25L619,197.26L620,196.24L621,195.22L622,194.22L623,193.28L624,192.42L625,191.69L626,191.12L627,190.73L628,190.57L629,190.63L630,190.9L631,191.37L632,192.01L633,192.79L634,193.68L635,194.64L636,195.64L637,196.66L638,197.68L639,198.66L640,199.6L641,200.49L642,201.32L643,202.07L644,202.76L645,203.37L646,203.91L647,204.39L648,204.8L649,205.15L650,205.45L651,205.71L652,205.92L653,206.1L654,206.24L655,206.37L656,206.47L657,206.55L658,206.62L659,206.68L660,206.73L661,206.77L662,206.8L663,206.83L664,206.85L665,206.88L666,206.89L667,206.91L668,206.93L669,206.94L670,206.95L671,206.96L672,206.97L673,206.98L674,206.98L675,206.99L676,206.99L677,207L678,207L679,207.01L680,207.01L681,207.01L682,207.01L683,207.01L684,207.01L684.2,207.01" fill="none" stroke="#ea3a44" stroke-width="1.1"/>
<path d="M520,210.08L521,210.07L522,210.06L523,210.05L524,210.05L525,210.04L526,210.03L527,210.02L528,210.02L529,210.01L530,210L531,209.99L532,209.99L533,209.98L534,209.97L535,209.96L536,209.96L537,209.95L538,209.94L539,209.93L540,209.93L541,209.92L542,209.91L543,209.9L544,209.9L545,209.89L546,209.88L547,209.87L548,209.87L549,209.86L550,209.85L551,209.84L552,209.84L553,209.83L554,209.82L555,209.81L556,209.81L557,209.8L558,209.79L559,209.78L560,209.78L561,209.77L562,209.76L563,209.75L564,209.75L565,209.74L566,209.73L567,209.72L568,209.72L569,209.71L570,209.7L571,209.69L572,209.69L573,209.68L574,209.67L575,209.66L576,209.66L577,209.65L578,209.64L579,209.63L580,209.63L581,209.62L582,209.61L583,209.6L584,209.6L585,209.59L586,209.58L587,209.57L588,209.56L589,209.56L590,209.55L591,209.54L592,209.53L593,209.53L594,209.52L595,209.51L596,209.5L597,209.5L598,209.49L599,209.48L600,209.47L601,209.47L602,209.46L603,209.45L604,209.44L605,209.44L606,209.43L607,209.42L608,209.41L609,209.41L610,209.4L611,209.39L612,209.38L613,209.38L614,209.37L615,209.36L616,209.35L617,209.34L618,209.33L619,209.31L620,209.3L621,209.27L622,209.24L623,209.19L624,209.13L625,209.05L626,208.94L627,208.8L628,208.62L629,208.39L630,208.11L631,207.77L632,207.37L633,206.92L634,206.42L635,205.88L636,205.32L637,204.77L638,204.23L639,203.75L640,203.34L641,203.02L642,202.82L643,202.75L644,202.79L645,202.93L646,203.16L647,203.47L648,203.85L649,204.28L650,204.74L651,205.21L652,205.69L653,206.15L654,206.58L655,206.98L656,207.35L657,207.66L658,207.94L659,208.17L660,208.36L661,208.51L662,208.63L663,208.72L664,208.79L665,208.84L666,208.88L667,208.9L668,208.92L669,208.92L670,208.93L671,208.93L672,208.93L673,208.92L674,208.92L675,208.91L676,208.9L677,208.9L678,208.89L679,208.88L680,208.87L681,208.87L682,208.86L683,208.85L684,208.84L684.2,208.84L684.2,208.84L684,208.85L683,208.85L682,208.86L681,208.87L680,208.88L679,208.88L678,208.89L677,208.9L676,208.91L675,208.91L674,208.92L673,208.93L672,208.94L671,208.94L670,208.95L669,208.96L668,208.97L667,208.97L666,208.98L665,208.99L664,209L663,209L662,209.01L661,209.02L660,209.03L659,209.03L658,209.04L657,209.05L656,209.06L655,209.06L654,209.07L653,209.08L652,209.09L651,209.09L650,209.1L649,209.11L648,209.12L647,209.12L646,209.13L645,209.14L644,209.15L643,209.15L642,209.16L641,209.17L640,209.18L639,209.18L638,209.19L637,209.2L636,209.21L635,209.21L634,209.22L633,209.23L632,209.24L631,209.24L630,209.25L629,209.26L628,209.27L627,209.27L626,209.28L625,209.29L624,209.3L623,209.3L622,209.31L621,209.32L620,209.33L619,209.33L618,209.34L617,209.35L616,209.36L615,209.36L614,209.37L613,209.38L612,209.39L611,209.39L610,209.4L609,209.41L608,209.42L607,209.42L606,209.43L605,209.44L604,209.45L603,209.45L602,209.46L601,209.47L600,209.48L599,209.48L598,209.49L597,209.5L596,209.51L595,209.51L594,209.52L593,209.53L592,209.54L591,209.54L590,209.55L589,209.56L588,209.57L587,209.57L586,209.58L585,209.59L584,209.6L583,209.6L582,209.61L581,209.62L580,209.63L579,209.63L578,209.64L577,209.65L576,209.66L575,209.66L574,209.67L573,209.68L572,209.69L571,209.69L570,209.7L569,209.71L568,209.72L567,209.72L566,209.73L565,209.74L564,209.75L563,209.75L562,209.76L561,209.77L560,209.78L559,209.78L558,209.79L557,209.8L556,209.81L555,209.81L554,209.82L553,209.83L552,209.84L551,209.84L550,209.85L549,209.86L548,209.87L547,209.87L546,209.88L545,209.89L544,209.9L543,209.9L542,209.91L541,209.92L540,209.93L539,209.93L538,209.94L537,209.95L536,209.96L535,209.96L534,209.97L533,209.98L532,209.99L531,209.99L530,210L529,210.01L528,210.02L527,210.02L526,210.03L525,210.04L524,210.05L523,210.05L522,210.06L521,210.07L520,210.08Z" fill="url(#hb)"/>
<path d="M520,210.08L521,210.07L522,210.06L523,210.05L524,210.05L525,210.04L526,210.03L527,210.02L528,210.02L529,210.01L530,210L531,209.99L532,209.99L533,209.98L534,209.97L535,209.96L536,209.96L537,209.95L538,209.94L539,209.93L540,209.93L541,209.92L542,209.91L543,209.9L544,209.9L545,209.89L546,209.88L547,209.87L548,209.87L549,209.86L550,209.85L551,209.84L552,209.84L553,209.83L554,209.82L555,209.81L556,209.81L557,209.8L558,209.79L559,209.78L560,209.78L561,209.77L562,209.76L563,209.75L564,209.75L565,209.74L566,209.73L567,209.72L568,209.72L569,209.71L570,209.7L571,209.69L572,209.69L573,209.68L574,209.67L575,209.66L576,209.66L577,209.65L578,209.64L579,209.63L580,209.63L581,209.62L582,209.61L583,209.6L584,209.6L585,209.59L586,209.58L587,209.57L588,209.56L589,209.56L590,209.55L591,209.54L592,209.53L593,209.53L594,209.52L595,209.51L596,209.5L597,209.5L598,209.49L599,209.48L600,209.47L601,209.47L602,209.46L603,209.45L604,209.44L605,209.44L606,209.43L607,209.42L608,209.41L609,209.41L610,209.4L611,209.39L612,209.38L613,209.38L614,209.37L615,209.36L616,209.35L617,209.34L618,209.33L619,209.31L620,209.3L621,209.27L622,209.24L623,209.19L624,209.13L625,209.05L626,208.94L627,208.8L628,208.62L629,208.39L630,208.11L631,207.77L632,207.37L633,206.92L634,206.42L635,205.88L636,205.32L637,204.77L638,204.23L639,203.75L640,203.34L641,203.02L642,202.82L643,202.75L644,202.79L645,202.93L646,203.16L647,203.47L648,203.85L649,204.28L650,204.74L651,205.21L652,205.69L653,206.15L654,206.58L655,206.98L656,207.35L657,207.66L658,207.94L659,208.17L660,208.36L661,208.51L662,208.63L663,208.72L664,208.79L665,208.84L666,208.88L667,208.9L668,208.92L669,208.92L670,208.93L671,208.93L672,208.93L673,208.92L674,208.92L675,208.91L676,208.9L677,208.9L678,208.89L679,208.88L680,208.87L681,208.87L682,208.86L683,208.85L684,208.84L684.2,208.84" fill="none" stroke="#2a66e0" stroke-width="1.2"/>
<path d="M520,210.88L684.2,209.64" stroke="#8fb6f0" stroke-width="1.0"/>
<path d="M520,207C520.48,207 521.85,206.92 522.9,207C523.95,207.08 525.13,207.32 526.3,207.5C527.47,207.68 528.7,208.18 529.9,208.1C531.1,208.02 532.3,207.18 533.5,207C534.7,206.82 535.93,207.12 537.1,207C538.27,206.88 539.27,206.37 540.5,206.3C541.73,206.23 543.2,206.8 544.5,206.6C545.8,206.4 547,205.25 548.3,205.1C549.6,204.95 550.9,205.87 552.3,205.7C553.7,205.53 555.18,204.45 556.7,204.1C558.22,203.75 559.88,203.72 561.4,203.6C562.92,203.48 564.25,203.63 565.8,203.4C567.35,203.17 569.08,202.9 570.7,202.2C572.32,201.5 573.87,199.83 575.5,199.2C577.13,198.57 578.73,199.23 580.5,198.4C582.27,197.57 584.23,195.7 586.1,194.2C587.97,192.7 589.78,190.82 591.7,189.4C593.62,187.98 595.68,186.52 597.6,185.7C599.52,184.88 601.13,184.93 603.2,184.5C605.27,184.07 607.78,183.63 610,183.1C612.22,182.57 614.25,181.9 616.5,181.3C618.75,180.7 621.15,179.8 623.5,179.5C625.85,179.2 628.1,178.47 630.6,179.5C633.1,180.53 635.85,183.57 638.5,185.7C641.15,187.83 643.73,189.97 646.5,192.3C649.27,194.63 652.23,197.73 655.1,199.7C657.97,201.67 660.68,202.88 663.7,204.1C666.72,205.32 669.85,206.57 673.2,207C676.55,207.43 682.03,206.75 683.8,206.7" fill="none" stroke="#33ad6a" stroke-width="1.9"/>
<circle cx="522.9" cy="207" r="2.05" fill="#fff" stroke="#e6c880" stroke-width="1.0"/>
<circle cx="526.3" cy="207.5" r="2.05" fill="#fff" stroke="#e6c880" stroke-width="1.0"/>
<circle cx="529.9" cy="208.1" r="2.05" fill="#fff" stroke="#e6c880" stroke-width="1.0"/>
<circle cx="533.5" cy="207" r="2.05" fill="#fff" stroke="#e6c880" stroke-width="1.0"/>
<circle cx="537.1" cy="207" r="2.05" fill="#fff" stroke="#e6c880" stroke-width="1.0"/>
<circle cx="540.5" cy="206.3" r="2.05" fill="#fff" stroke="#e6c880" stroke-width="1.0"/>
<circle cx="544.5" cy="206.6" r="2.05" fill="#fff" stroke="#e6c880" stroke-width="1.0"/>
<circle cx="548.3" cy="205.1" r="2.05" fill="#fff" stroke="#e6c880" stroke-width="1.0"/>
<circle cx="552.3" cy="205.7" r="2.05" fill="#fff" stroke="#e6c880" stroke-width="1.0"/>
<circle cx="556.7" cy="204.1" r="2.05" fill="#fff" stroke="#e6c880" stroke-width="1.0"/>
<circle cx="561.4" cy="203.6" r="2.05" fill="#fff" stroke="#e6c880" stroke-width="1.0"/>
<circle cx="565.8" cy="203.4" r="2.05" fill="#fff" stroke="#e6c880" stroke-width="1.0"/>
<circle cx="570.7" cy="202.2" r="2.05" fill="#fff" stroke="#e6c880" stroke-width="1.0"/>
<circle cx="575.5" cy="199.2" r="2.05" fill="#fff" stroke="#e6c880" stroke-width="1.0"/>
<circle cx="580.5" cy="198.4" r="2.05" fill="#fff" stroke="#e6c880" stroke-width="1.0"/>
<circle cx="586.1" cy="194.2" r="2.05" fill="#fff" stroke="#e6c880" stroke-width="1.0"/>
<circle cx="591.7" cy="189.4" r="2.05" fill="#fff" stroke="#e6c880" stroke-width="1.0"/>
<circle cx="597.6" cy="185.7" r="2.05" fill="#fff" stroke="#e6c880" stroke-width="1.0"/>
<circle cx="603.2" cy="184.5" r="2.05" fill="#fff" stroke="#e6c880" stroke-width="1.0"/>
<circle cx="610" cy="183.1" r="2.05" fill="#fff" stroke="#e6c880" stroke-width="1.0"/>
<circle cx="616.5" cy="181.3" r="2.05" fill="#fff" stroke="#e6c880" stroke-width="1.0"/>
<circle cx="623.5" cy="179.5" r="2.05" fill="#fff" stroke="#e6c880" stroke-width="1.0"/>
<circle cx="630.6" cy="179.5" r="2.05" fill="#fff" stroke="#e6c880" stroke-width="1.0"/>
<circle cx="638.5" cy="185.7" r="2.05" fill="#fff" stroke="#e6c880" stroke-width="1.0"/>
<circle cx="646.5" cy="192.3" r="2.05" fill="#fff" stroke="#e6c880" stroke-width="1.0"/>
<circle cx="655.1" cy="199.7" r="2.05" fill="#fff" stroke="#e6c880" stroke-width="1.0"/>
<circle cx="663.7" cy="204.1" r="2.05" fill="#fff" stroke="#e6c880" stroke-width="1.0"/>
<circle cx="673.2" cy="207" r="2.05" fill="#fff" stroke="#e6c880" stroke-width="1.0"/>
<circle cx="683.1" cy="206.3" r="2.05" fill="#fff" stroke="#e6c880" stroke-width="1.0"/>
</g>
<text x="518.2" y="186.8" font-size="11.2" font-family="Liberation Sans, sans-serif" fill="#151515">Fresh</text>
</g>
<g>
<clipPath id="cp5"><rect x="517.5" y="214" width="166.7" height="41.2"/></clipPath>
<g clip-path="url(#cp5)">
<path d="M520.5,217H681.2" stroke="#d6c6ef" stroke-width="0.6" stroke-dasharray="0.9,1.3"/>
<path d="M520,249.19L521,249.17L522,249.16L523,249.15L524,249.13L525,249.12L526,249.1L527,249.08L528,249.07L529,249.05L530,249.03L531,249.02L532,249L533,248.98L534,248.96L535,248.94L536,248.92L537,248.9L538,248.88L539,248.85L540,248.83L541,248.8L542,248.77L543,248.74L544,248.71L545,248.67L546,248.64L547,248.6L548,248.55L549,248.51L550,248.45L551,248.4L552,248.33L553,248.26L554,248.19L555,248.1L556,248.01L557,247.91L558,247.79L559,247.67L560,247.53L561,247.38L562,247.22L563,247.04L564,246.84L565,246.62L566,246.38L567,246.13L568,245.85L569,245.55L570,245.22L571,244.87L572,244.5L573,244.1L574,243.67L575,243.22L576,242.75L577,242.25L578,241.72L579,241.17L580,240.6L581,240.01L582,239.4L583,238.78L584,238.14L585,237.49L586,236.83L587,236.17L588,235.51L589,234.86L590,234.21L591,233.59L592,232.98L593,232.39L594,231.84L595,231.32L596,230.85L597,230.43L598,230.05L599,229.74L600,229.49L601,229.31L602,229.2L603,229.15L604,229.19L605,229.3L606,229.5L607,229.77L608,230.11L609,230.51L610,230.97L611,231.48L612,232.03L613,232.61L614,233.22L615,233.84L616,234.47L617,235.12L618,235.76L619,236.4L620,237.03L621,237.65L622,238.25L623,238.84L624,239.41L625,239.96L626,240.49L627,241L628,241.48L629,241.93L630,242.37L631,242.77L632,243.16L633,243.52L634,243.85L635,244.17L636,244.46L637,244.73L638,244.98L639,245.21L640,245.42L641,245.62L642,245.8L643,245.96L644,246.11L645,246.25L646,246.37L647,246.49L648,246.59L649,246.69L650,246.77L651,246.85L652,246.92L653,246.99L654,247.05L655,247.1L656,247.15L657,247.19L658,247.24L659,247.27L660,247.31L661,247.34L662,247.37L663,247.4L664,247.42L665,247.45L666,247.47L667,247.49L668,247.51L669,247.52L670,247.54L671,247.55L672,247.57L673,247.58L674,247.59L675,247.6L676,247.62L677,247.63L678,247.63L679,247.64L680,247.65L681,247.66L682,247.67L683,247.67L684,247.68L684.2,247.68L684.2,248.94L684,248.94L683,248.95L682,248.96L681,248.97L680,248.97L679,248.98L678,248.99L677,249L676,249L675,249.01L674,249.02L673,249.03L672,249.03L671,249.04L670,249.05L669,249.06L668,249.06L667,249.07L666,249.08L665,249.09L664,249.09L663,249.1L662,249.11L661,249.12L660,249.12L659,249.13L658,249.14L657,249.15L656,249.16L655,249.16L654,249.17L653,249.18L652,249.19L651,249.19L650,249.2L649,249.21L648,249.21L647,249.22L646,249.23L645,249.24L644,249.24L643,249.25L642,249.26L641,249.27L640,249.27L639,249.28L638,249.29L637,249.3L636,249.3L635,249.31L634,249.32L633,249.33L632,249.33L631,249.34L630,249.35L629,249.36L628,249.36L627,249.37L626,249.38L625,249.39L624,249.39L623,249.4L622,249.41L621,249.42L620,249.42L619,249.43L618,249.44L617,249.45L616,249.45L615,249.46L614,249.47L613,249.48L612,249.48L611,249.49L610,249.5L609,249.51L608,249.51L607,249.52L606,249.53L605,249.54L604,249.54L603,249.55L602,249.56L601,249.57L600,249.57L599,249.58L598,249.59L597,249.6L596,249.6L595,249.61L594,249.62L593,249.63L592,249.63L591,249.64L590,249.65L589,249.66L588,249.66L587,249.67L586,249.68L585,249.69L584,249.69L583,249.7L582,249.71L581,249.72L580,249.72L579,249.73L578,249.74L577,249.75L576,249.75L575,249.76L574,249.77L573,249.78L572,249.78L571,249.79L570,249.8L569,249.81L568,249.81L567,249.82L566,249.83L565,249.84L564,249.84L563,249.85L562,249.86L561,249.87L560,249.88L559,249.88L558,249.89L557,249.9L556,249.91L555,249.91L554,249.92L553,249.93L552,249.94L551,249.94L550,249.95L549,249.96L548,249.96L547,249.97L546,249.98L545,249.99L544,249.99L543,250L542,250.01L541,250.02L540,250.02L539,250.03L538,250.04L537,250.05L536,250.05L535,250.06L534,250.07L533,250.08L532,250.08L531,250.09L530,250.1L529,250.11L528,250.11L527,250.12L526,250.13L525,250.14L524,250.14L523,250.15L522,250.16L521,250.17L520,250.17Z" fill="url(#hg)"/>
<path d="M520,249.19L521,249.17L522,249.16L523,249.15L524,249.13L525,249.12L526,249.1L527,249.08L528,249.07L529,249.05L530,249.03L531,249.02L532,249L533,248.98L534,248.96L535,248.94L536,248.92L537,248.9L538,248.88L539,248.85L540,248.83L541,248.8L542,248.77L543,248.74L544,248.71L545,248.67L546,248.64L547,248.6L548,248.55L549,248.51L550,248.45L551,248.4L552,248.33L553,248.26L554,248.19L555,248.1L556,248.01L557,247.91L558,247.79L559,247.67L560,247.53L561,247.38L562,247.22L563,247.04L564,246.84L565,246.62L566,246.38L567,246.13L568,245.85L569,245.55L570,245.22L571,244.87L572,244.5L573,244.1L574,243.67L575,243.22L576,242.75L577,242.25L578,241.72L579,241.17L580,240.6L581,240.01L582,239.4L583,238.78L584,238.14L585,237.49L586,236.83L587,236.17L588,235.51L589,234.86L590,234.21L591,233.59L592,232.98L593,232.39L594,231.84L595,231.32L596,230.85L597,230.43L598,230.05L599,229.74L600,229.49L601,229.31L602,229.2L603,229.15L604,229.19L605,229.3L606,229.5L607,229.77L608,230.11L609,230.51L610,230.97L611,231.48L612,232.03L613,232.61L614,233.22L615,233.84L616,234.47L617,235.12L618,235.76L619,236.4L620,237.03L621,237.65L622,238.25L623,238.84L624,239.41L625,239.96L626,240.49L627,241L628,241.48L629,241.93L630,242.37L631,242.77L632,243.16L633,243.52L634,243.85L635,244.17L636,244.46L637,244.73L638,244.98L639,245.21L640,245.42L641,245.62L642,245.8L643,245.96L644,246.11L645,246.25L646,246.37L647,246.49L648,246.59L649,246.69L650,246.77L651,246.85L652,246.92L653,246.99L654,247.05L655,247.1L656,247.15L657,247.19L658,247.24L659,247.27L660,247.31L661,247.34L662,247.37L663,247.4L664,247.42L665,247.45L666,247.47L667,247.49L668,247.51L669,247.52L670,247.54L671,247.55L672,247.57L673,247.58L674,247.59L675,247.6L676,247.62L677,247.63L678,247.63L679,247.64L680,247.65L681,247.66L682,247.67L683,247.67L684,247.68L684.2,247.68" fill="none" stroke="#4a4a4a" stroke-width="1.0"/>
<path d="M520,249.9L521,249.9L522,249.89L523,249.88L524,249.87L525,249.86L526,249.85L527,249.84L528,249.83L529,249.82L530,249.82L531,249.81L532,249.8L533,249.79L534,249.78L535,249.77L536,249.76L537,249.75L538,249.74L539,249.73L540,249.72L541,249.71L542,249.7L543,249.69L544,249.68L545,249.67L546,249.66L547,249.65L548,249.64L549,249.63L550,249.62L551,249.61L552,249.59L553,249.58L554,249.57L555,249.56L556,249.55L557,249.54L558,249.52L559,249.51L560,249.5L561,249.49L562,249.47L563,249.46L564,249.45L565,249.43L566,249.42L567,249.41L568,249.39L569,249.38L570,249.36L571,249.35L572,249.33L573,249.31L574,249.3L575,249.28L576,249.26L577,249.24L578,249.22L579,249.2L580,249.18L581,249.16L582,249.14L583,249.11L584,249.09L585,249.06L586,249.04L587,249.01L588,248.98L589,248.95L590,248.91L591,248.88L592,248.84L593,248.8L594,248.75L595,248.71L596,248.65L597,248.59L598,248.53L599,248.45L600,248.37L601,248.27L602,248.15L603,248.02L604,247.86L605,247.67L606,247.45L607,247.19L608,246.88L609,246.52L610,246.1L611,245.61L612,245.06L613,244.43L614,243.72L615,242.94L616,242.08L617,241.16L618,240.18L619,239.15L620,238.09L621,237.04L622,236.01L623,235.04L624,234.18L625,233.46L626,232.94L627,232.63L628,232.57L629,232.7L630,232.99L631,233.43L632,234.01L633,234.69L634,235.46L635,236.29L636,237.17L637,238.07L638,238.97L639,239.86L640,240.72L641,241.55L642,242.33L643,243.07L644,243.74L645,244.36L646,244.92L647,245.43L648,245.87L649,246.27L650,246.61L651,246.91L652,247.16L653,247.38L654,247.56L655,247.72L656,247.85L657,247.96L658,248.05L659,248.12L660,248.19L661,248.24L662,248.28L663,248.32L664,248.35L665,248.37L666,248.4L667,248.41L668,248.43L669,248.44L670,248.45L671,248.46L672,248.47L673,248.48L674,248.49L675,248.49L676,248.5L677,248.5L678,248.51L679,248.51L680,248.51L681,248.51L682,248.51L683,248.52L684,248.52L684.2,248.52L684.2,249.24L684,249.25L683,249.25L682,249.26L681,249.27L680,249.28L679,249.28L678,249.29L677,249.3L676,249.31L675,249.31L674,249.32L673,249.33L672,249.34L671,249.34L670,249.35L669,249.36L668,249.37L667,249.37L666,249.38L665,249.39L664,249.4L663,249.4L662,249.41L661,249.42L660,249.43L659,249.43L658,249.44L657,249.45L656,249.46L655,249.46L654,249.47L653,249.48L652,249.49L651,249.49L650,249.5L649,249.51L648,249.51L647,249.52L646,249.53L645,249.54L644,249.54L643,249.55L642,249.56L641,249.57L640,249.57L639,249.58L638,249.59L637,249.6L636,249.6L635,249.61L634,249.62L633,249.63L632,249.63L631,249.64L630,249.65L629,249.66L628,249.66L627,249.67L626,249.68L625,249.69L624,249.69L623,249.7L622,249.71L621,249.72L620,249.72L619,249.73L618,249.74L617,249.75L616,249.75L615,249.76L614,249.77L613,249.78L612,249.78L611,249.79L610,249.8L609,249.81L608,249.81L607,249.82L606,249.83L605,249.84L604,249.84L603,249.85L602,249.86L601,249.87L600,249.88L599,249.88L598,249.89L597,249.9L596,249.91L595,249.91L594,249.92L593,249.93L592,249.94L591,249.94L590,249.95L589,249.96L588,249.97L587,249.97L586,249.98L585,249.99L584,250L583,250L582,250.01L581,250.02L580,250.03L579,250.03L578,250.04L577,250.05L576,250.06L575,250.06L574,250.07L573,250.08L572,250.09L571,250.09L570,250.1L569,250.11L568,250.12L567,250.12L566,250.13L565,250.14L564,250.15L563,250.15L562,250.16L561,250.17L560,250.18L559,250.18L558,250.19L557,250.2L556,250.21L555,250.21L554,250.22L553,250.23L552,250.24L551,250.24L550,250.25L549,250.26L548,250.26L547,250.27L546,250.28L545,250.29L544,250.29L543,250.3L542,250.31L541,250.32L540,250.32L539,250.33L538,250.34L537,250.35L536,250.35L535,250.36L534,250.37L533,250.38L532,250.38L531,250.39L530,250.4L529,250.41L528,250.41L527,250.42L526,250.43L525,250.44L524,250.44L523,250.45L522,250.46L521,250.47L520,250.47Z" fill="url(#hr)"/>
<path d="M520,249.9L521,249.9L522,249.89L523,249.88L524,249.87L525,249.86L526,249.85L527,249.84L528,249.83L529,249.82L530,249.82L531,249.81L532,249.8L533,249.79L534,249.78L535,249.77L536,249.76L537,249.75L538,249.74L539,249.73L540,249.72L541,249.71L542,249.7L543,249.69L544,249.68L545,249.67L546,249.66L547,249.65L548,249.64L549,249.63L550,249.62L551,249.61L552,249.59L553,249.58L554,249.57L555,249.56L556,249.55L557,249.54L558,249.52L559,249.51L560,249.5L561,249.49L562,249.47L563,249.46L564,249.45L565,249.43L566,249.42L567,249.41L568,249.39L569,249.38L570,249.36L571,249.35L572,249.33L573,249.31L574,249.3L575,249.28L576,249.26L577,249.24L578,249.22L579,249.2L580,249.18L581,249.16L582,249.14L583,249.11L584,249.09L585,249.06L586,249.04L587,249.01L588,248.98L589,248.95L590,248.91L591,248.88L592,248.84L593,248.8L594,248.75L595,248.71L596,248.65L597,248.59L598,248.53L599,248.45L600,248.37L601,248.27L602,248.15L603,248.02L604,247.86L605,247.67L606,247.45L607,247.19L608,246.88L609,246.52L610,246.1L611,245.61L612,245.06L613,244.43L614,243.72L615,242.94L616,242.08L617,241.16L618,240.18L619,239.15L620,238.09L621,237.04L622,236.01L623,235.04L624,234.18L625,233.46L626,232.94L627,232.63L628,232.57L629,232.7L630,232.99L631,233.43L632,234.01L633,234.69L634,235.46L635,236.29L636,237.17L637,238.07L638,238.97L639,239.86L640,240.72L641,241.55L642,242.33L643,243.07L644,243.74L645,244.36L646,244.92L647,245.43L648,245.87L649,246.27L650,246.61L651,246.91L652,247.16L653,247.38L654,247.56L655,247.72L656,247.85L657,247.96L658,248.05L659,248.12L660,248.19L661,248.24L662,248.28L663,248.32L664,248.35L665,248.37L666,248.4L667,248.41L668,248.43L669,248.44L670,248.45L671,248.46L672,248.47L673,248.48L674,248.49L675,248.49L676,248.5L677,248.5L678,248.51L679,248.51L680,248.51L681,248.51L682,248.51L683,248.52L684,248.52L684.2,248.52" fill="none" stroke="#ea3a44" stroke-width="1.1"/>
<path d="M520,251.68L521,251.67L522,251.66L523,251.65L524,251.65L525,251.64L526,251.63L527,251.62L528,251.62L529,251.61L530,251.6L531,251.59L532,251.59L533,251.58L534,251.57L535,251.56L536,251.56L537,251.55L538,251.54L539,251.53L540,251.53L541,251.52L542,251.51L543,251.5L544,251.5L545,251.49L546,251.48L547,251.47L548,251.47L549,251.46L550,251.45L551,251.44L552,251.44L553,251.43L554,251.42L555,251.41L556,251.41L557,251.4L558,251.39L559,251.38L560,251.38L561,251.37L562,251.36L563,251.35L564,251.35L565,251.34L566,251.33L567,251.32L568,251.32L569,251.31L570,251.3L571,251.29L572,251.29L573,251.28L574,251.27L575,251.26L576,251.26L577,251.25L578,251.24L579,251.23L580,251.23L581,251.22L582,251.21L583,251.2L584,251.19L585,251.19L586,251.18L587,251.17L588,251.16L589,251.16L590,251.15L591,251.14L592,251.13L593,251.13L594,251.12L595,251.11L596,251.1L597,251.1L598,251.09L599,251.08L600,251.07L601,251.07L602,251.06L603,251.05L604,251.04L605,251.04L606,251.03L607,251.02L608,251.01L609,251.01L610,251L611,250.99L612,250.98L613,250.97L614,250.96L615,250.95L616,250.94L617,250.92L618,250.9L619,250.87L620,250.83L621,250.78L622,250.71L623,250.62L624,250.5L625,250.35L626,250.16L627,249.93L628,249.64L629,249.3L630,248.9L631,248.45L632,247.96L633,247.42L634,246.86L635,246.28L636,245.72L637,245.19L638,244.72L639,244.32L640,244.02L641,243.83L642,243.76L643,243.8L644,243.95L645,244.18L646,244.5L647,244.88L648,245.32L649,245.8L650,246.3L651,246.8L652,247.3L653,247.77L654,248.21L655,248.61L656,248.97L657,249.28L658,249.55L659,249.77L660,249.96L661,250.11L662,250.23L663,250.32L664,250.39L665,250.44L666,250.47L667,250.5L668,250.51L669,250.52L670,250.53L671,250.53L672,250.52L673,250.52L674,250.52L675,250.51L676,250.5L677,250.5L678,250.49L679,250.48L680,250.47L681,250.47L682,250.46L683,250.45L684,250.44L684.2,250.44L684.2,250.44L684,250.45L683,250.45L682,250.46L681,250.47L680,250.48L679,250.48L678,250.49L677,250.5L676,250.51L675,250.51L674,250.52L673,250.53L672,250.54L671,250.54L670,250.55L669,250.56L668,250.57L667,250.57L666,250.58L665,250.59L664,250.6L663,250.6L662,250.61L661,250.62L660,250.63L659,250.63L658,250.64L657,250.65L656,250.66L655,250.66L654,250.67L653,250.68L652,250.69L651,250.69L650,250.7L649,250.71L648,250.72L647,250.72L646,250.73L645,250.74L644,250.75L643,250.75L642,250.76L641,250.77L640,250.78L639,250.78L638,250.79L637,250.8L636,250.81L635,250.81L634,250.82L633,250.83L632,250.84L631,250.84L630,250.85L629,250.86L628,250.87L627,250.87L626,250.88L625,250.89L624,250.9L623,250.9L622,250.91L621,250.92L620,250.93L619,250.93L618,250.94L617,250.95L616,250.96L615,250.96L614,250.97L613,250.98L612,250.99L611,250.99L610,251L609,251.01L608,251.02L607,251.02L606,251.03L605,251.04L604,251.05L603,251.05L602,251.06L601,251.07L600,251.08L599,251.08L598,251.09L597,251.1L596,251.11L595,251.11L594,251.12L593,251.13L592,251.14L591,251.14L590,251.15L589,251.16L588,251.17L587,251.17L586,251.18L585,251.19L584,251.2L583,251.2L582,251.21L581,251.22L580,251.23L579,251.23L578,251.24L577,251.25L576,251.26L575,251.26L574,251.27L573,251.28L572,251.29L571,251.29L570,251.3L569,251.31L568,251.32L567,251.32L566,251.33L565,251.34L564,251.35L563,251.35L562,251.36L561,251.37L560,251.38L559,251.38L558,251.39L557,251.4L556,251.41L555,251.41L554,251.42L553,251.43L552,251.44L551,251.44L550,251.45L549,251.46L548,251.47L547,251.47L546,251.48L545,251.49L544,251.5L543,251.5L542,251.51L541,251.52L540,251.53L539,251.53L538,251.54L537,251.55L536,251.56L535,251.56L534,251.57L533,251.58L532,251.59L531,251.59L530,251.6L529,251.61L528,251.62L527,251.62L526,251.63L525,251.64L524,251.65L523,251.65L522,251.66L521,251.67L520,251.68Z" fill="url(#hb)"/>
<path d="M520,251.68L521,251.67L522,251.66L523,251.65L524,251.65L525,251.64L526,251.63L527,251.62L528,251.62L529,251.61L530,251.6L531,251.59L532,251.59L533,251.58L534,251.57L535,251.56L536,251.56L537,251.55L538,251.54L539,251.53L540,251.53L541,251.52L542,251.51L543,251.5L544,251.5L545,251.49L546,251.48L547,251.47L548,251.47L549,251.46L550,251.45L551,251.44L552,251.44L553,251.43L554,251.42L555,251.41L556,251.41L557,251.4L558,251.39L559,251.38L560,251.38L561,251.37L562,251.36L563,251.35L564,251.35L565,251.34L566,251.33L567,251.32L568,251.32L569,251.31L570,251.3L571,251.29L572,251.29L573,251.28L574,251.27L575,251.26L576,251.26L577,251.25L578,251.24L579,251.23L580,251.23L581,251.22L582,251.21L583,251.2L584,251.19L585,251.19L586,251.18L587,251.17L588,251.16L589,251.16L590,251.15L591,251.14L592,251.13L593,251.13L594,251.12L595,251.11L596,251.1L597,251.1L598,251.09L599,251.08L600,251.07L601,251.07L602,251.06L603,251.05L604,251.04L605,251.04L606,251.03L607,251.02L608,251.01L609,251.01L610,251L611,250.99L612,250.98L613,250.97L614,250.96L615,250.95L616,250.94L617,250.92L618,250.9L619,250.87L620,250.83L621,250.78L622,250.71L623,250.62L624,250.5L625,250.35L626,250.16L627,249.93L628,249.64L629,249.3L630,248.9L631,248.45L632,247.96L633,247.42L634,246.86L635,246.28L636,245.72L637,245.19L638,244.72L639,244.32L640,244.02L641,243.83L642,243.76L643,243.8L644,243.95L645,244.18L646,244.5L647,244.88L648,245.32L649,245.8L650,246.3L651,246.8L652,247.3L653,247.77L654,248.21L655,248.61L656,248.97L657,249.28L658,249.55L659,249.77L660,249.96L661,250.11L662,250.23L663,250.32L664,250.39L665,250.44L666,250.47L667,250.5L668,250.51L669,250.52L670,250.53L671,250.53L672,250.52L673,250.52L674,250.52L675,250.51L676,250.5L677,250.5L678,250.49L679,250.48L680,250.47L681,250.47L682,250.46L683,250.45L684,250.44L684.2,250.44" fill="none" stroke="#2a66e0" stroke-width="1.2"/>
<path d="M520,252.47L684.2,251.24" stroke="#8fb6f0" stroke-width="1.0"/>
<path d="M520,248.5C520.48,248.5 521.85,248.45 522.9,248.5C523.95,248.55 525.13,248.83 526.3,248.8C527.47,248.77 528.7,248.4 529.9,248.3C531.1,248.2 532.3,248.25 533.5,248.2C534.7,248.15 535.93,248.03 537.1,248C538.27,247.97 539.27,248.12 540.5,248C541.73,247.88 543.2,247.47 544.5,247.3C545.8,247.13 547,247.1 548.3,247C549.6,246.9 550.9,246.85 552.3,246.7C553.7,246.55 555.18,246.37 556.7,246.1C558.22,245.83 559.88,245.43 561.4,245.1C562.92,244.77 564.25,244.47 565.8,244.1C567.35,243.73 569.08,243.45 570.7,242.9C572.32,242.35 573.87,241.53 575.5,240.8C577.13,240.07 578.73,239.38 580.5,238.5C582.27,237.62 584.23,236.78 586.1,235.5C587.97,234.22 589.78,232.32 591.7,230.8C593.62,229.28 595.68,227.33 597.6,226.4C599.52,225.47 601.13,225.68 603.2,225.2C605.27,224.72 607.78,223.98 610,223.5C612.22,223.02 614.25,222.8 616.5,222.3C618.75,221.8 621.15,220.8 623.5,220.5C625.85,220.2 628.1,219.47 630.6,220.5C633.1,221.53 635.85,224.57 638.5,226.7C641.15,228.83 643.73,230.9 646.5,233.3C649.27,235.7 652.23,239.13 655.1,241.1C657.97,243.07 660.68,244 663.7,245.1C666.72,246.2 669.85,247.22 673.2,247.7C676.55,248.18 682.03,247.95 683.8,248" fill="none" stroke="#33ad6a" stroke-width="1.9"/>
<circle cx="522.9" cy="248.5" r="2.05" fill="#fff" stroke="#e6c880" stroke-width="1.0"/>
<circle cx="526.3" cy="248.8" r="2.05" fill="#fff" stroke="#e6c880" stroke-width="1.0"/>
<circle cx="529.9" cy="248.3" r="2.05" fill="#fff" stroke="#e6c880" stroke-width="1.0"/>
<circle cx="533.5" cy="248.2" r="2.05" fill="#fff" stroke="#e6c880" stroke-width="1.0"/>
<circle cx="537.1" cy="248" r="2.05" fill="#fff" stroke="#e6c880" stroke-width="1.0"/>
<circle cx="540.5" cy="248" r="2.05" fill="#fff" stroke="#e6c880" stroke-width="1.0"/>
<circle cx="544.5" cy="247.3" r="2.05" fill="#fff" stroke="#e6c880" stroke-width="1.0"/>
<circle cx="548.3" cy="247" r="2.05" fill="#fff" stroke="#e6c880" stroke-width="1.0"/>
<circle cx="552.3" cy="246.7" r="2.05" fill="#fff" stroke="#e6c880" stroke-width="1.0"/>
<circle cx="556.7" cy="246.1" r="2.05" fill="#fff" stroke="#e6c880" stroke-width="1.0"/>
<circle cx="561.4" cy="245.1" r="2.05" fill="#fff" stroke="#e6c880" stroke-width="1.0"/>
<circle cx="565.8" cy="244.1" r="2.05" fill="#fff" stroke="#e6c880" stroke-width="1.0"/>
<circle cx="570.7" cy="242.9" r="2.05" fill="#fff" stroke="#e6c880" stroke-width="1.0"/>
<circle cx="575.5" cy="240.8" r="2.05" fill="#fff" stroke="#e6c880" stroke-width="1.0"/>
<circle cx="580.5" cy="238.5" r="2.05" fill="#fff" stroke="#e6c880" stroke-width="1.0"/>
<circle cx="586.1" cy="235.5" r="2.05" fill="#fff" stroke="#e6c880" stroke-width="1.0"/>
<circle cx="591.7" cy="230.8" r="2.05" fill="#fff" stroke="#e6c880" stroke-width="1.0"/>
<circle cx="597.6" cy="226.4" r="2.05" fill="#fff" stroke="#e6c880" stroke-width="1.0"/>
<circle cx="603.2" cy="225.2" r="2.05" fill="#fff" stroke="#e6c880" stroke-width="1.0"/>
<circle cx="610" cy="223.5" r="2.05" fill="#fff" stroke="#e6c880" stroke-width="1.0"/>
<circle cx="616.5" cy="222.3" r="2.05" fill="#fff" stroke="#e6c880" stroke-width="1.0"/>
<circle cx="623.5" cy="220.5" r="2.05" fill="#fff" stroke="#e6c880" stroke-width="1.0"/>
<circle cx="630.6" cy="220.5" r="2.05" fill="#fff" stroke="#e6c880" stroke-width="1.0"/>
<circle cx="638.5" cy="226.7" r="2.05" fill="#fff" stroke="#e6c880" stroke-width="1.0"/>
<circle cx="646.5" cy="233.3" r="2.05" fill="#fff" stroke="#e6c880" stroke-width="1.0"/>
<circle cx="655.1" cy="241.1" r="2.05" fill="#fff" stroke="#e6c880" stroke-width="1.0"/>
<circle cx="663.7" cy="245.1" r="2.05" fill="#fff" stroke="#e6c880" stroke-width="1.0"/>
<circle cx="673.2" cy="247.7" r="2.05" fill="#fff" stroke="#e6c880" stroke-width="1.0"/>
<circle cx="683.1" cy="247.7" r="2.05" fill="#fff" stroke="#e6c880" stroke-width="1.0"/>
</g>
<text x="518.6" y="228" font-size="11.2" font-family="Liberation Sans, sans-serif" fill="#151515">Aged</text>
</g>
<rect x="517.5" y="8" width="166.7" height="247.2" fill="none" stroke="#4a4a4a" stroke-width="1.1"/>
<path d="M517.5,49.2H684.2" stroke="#4a4a4a" stroke-width="1.1"/>
<path d="M517.5,90.4H684.2" stroke="#4a4a4a" stroke-width="1.1"/>
<path d="M517.5,131.6H684.2" stroke="#4a4a4a" stroke-width="1.1"/>
<path d="M517.5,172.8H684.2" stroke="#4a4a4a" stroke-width="1.1"/>
<path d="M517.5,214H684.2" stroke="#4a4a4a" stroke-width="1.1"/>
<path d="M537.15,255.2v-1.6M561.8,255.2v-3M586.45,255.2v-1.6M611.1,255.2v-3M635.75,255.2v-1.6M660.4,255.2v-3" stroke="#4a4a4a" stroke-width="0.9"/>
<text x="553.1" y="269.5" font-size="12.6" letter-spacing="0.2" font-family="Liberation Sans, sans-serif" fill="#151515">1.0</text>
<text x="601.8" y="269.5" font-size="12.6" letter-spacing="0.2" font-family="Liberation Sans, sans-serif" fill="#151515">1.2</text>
<text x="650.6" y="269.5" font-size="12.6" letter-spacing="0.2" font-family="Liberation Sans, sans-serif" fill="#151515">1.4</text>
<text x="538.7" y="293.9" font-size="15.2" font-family="Liberation Sans, sans-serif" fill="#151515">Probe energy (eV)</text>
<text transform="translate(492.9,221.1) rotate(-90)" font-size="15.5" font-family="Liberation Sans, sans-serif" fill="#151515">Normalized PL (arb. units)</text>
<text transform="translate(512.6,85.9) rotate(-90)" font-size="11" font-family="Liberation Sans, sans-serif" fill="#151515">PTzBI-dF:L8BO</text>
<text transform="translate(512.7,162.7) rotate(-90)" font-size="11" letter-spacing="0.07" font-family="Liberation Sans, sans-serif" fill="#151515">PTzBI-dF:Y6</text>
<text transform="translate(512.6,268) rotate(-90)" font-size="11" letter-spacing="0.06" font-family="Liberation Sans, sans-serif" fill="#151515">PTzBI-dF:L8BO:Y6</text>
<text x="597" y="41.9" font-size="10.5" font-family="Liberation Sans, sans-serif" fill="#151515">(01)</text>
<text x="621.5" y="41.9" font-size="10.5" font-family="Liberation Sans, sans-serif" fill="#151515">(00)</text>
<text x="657" y="25.8" font-size="11" font-family="Liberation Sans, sans-serif" fill="#151515">PL<tspan font-size="7.6" dy="3">A</tspan></text>
<path d="M649.2,37.9L654.6,26.8" stroke="#777" stroke-width="1"/><path d="M655.8,23.8L652.4,28.2L656.2,29.3Z" fill="#777"/>
</svg>
</body></html>
